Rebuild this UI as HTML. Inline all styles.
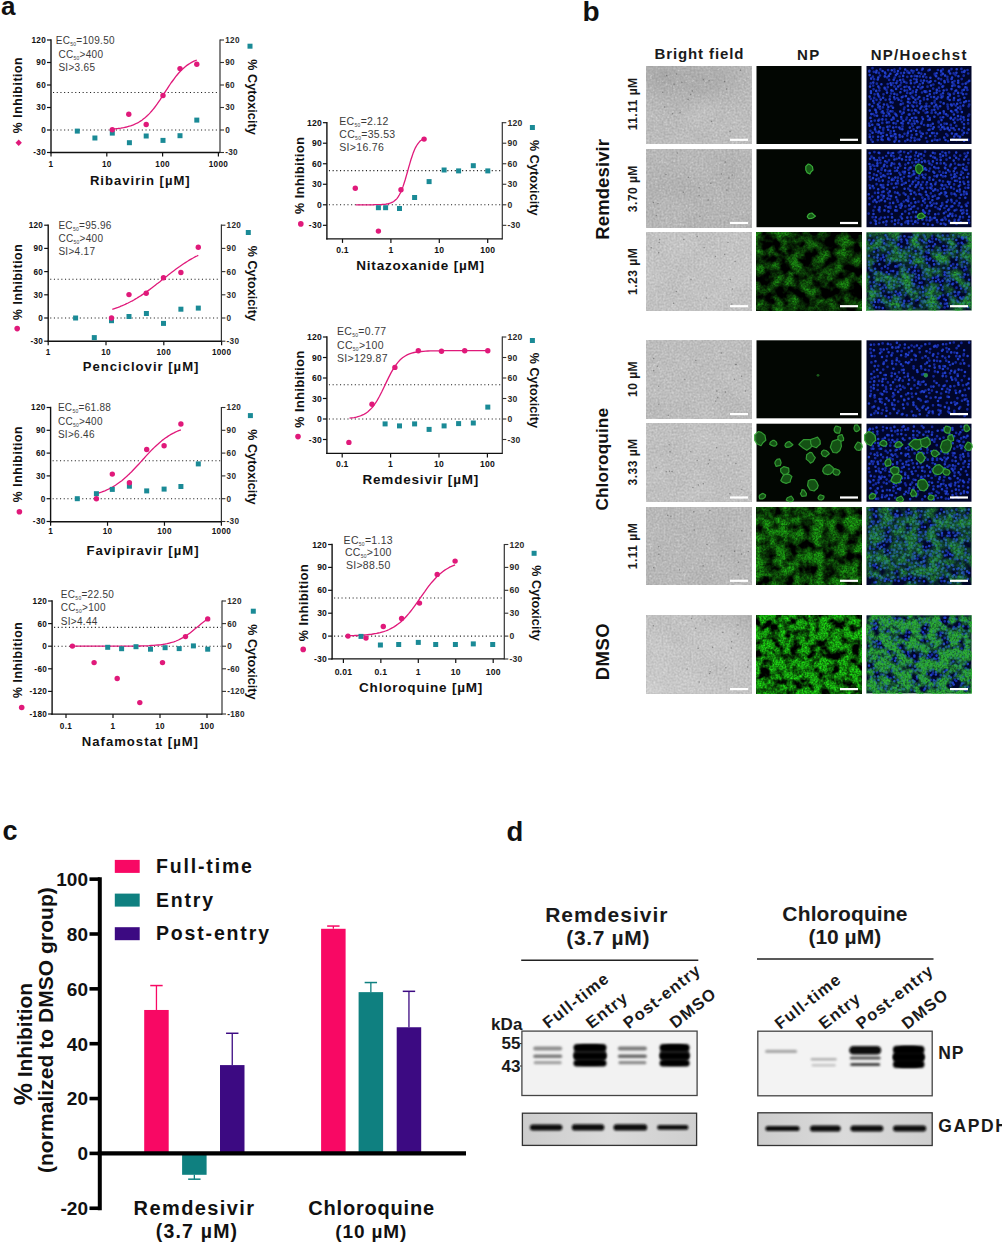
<!DOCTYPE html><html><head><meta charset="utf-8"><style>html,body{margin:0;padding:0;background:#fff;width:1002px;height:1243px;overflow:hidden}svg{display:block}text{font-family:"Liberation Sans",sans-serif}</style></head><body>
<svg width="1002" height="1243" viewBox="0 0 1002 1243">
<defs><filter id="bl" x="-20%" y="-60%" width="140%" height="220%"><feGaussianBlur stdDeviation="0.9"/></filter><filter id="nb"><feGaussianBlur stdDeviation="0.45"/></filter><radialGradient id="bfg1" cx="0.2" cy="0.15" r="0.55"><stop offset="0" stop-color="#606060" stop-opacity="0.22"/><stop offset="1" stop-color="#606060" stop-opacity="0"/></radialGradient><linearGradient id="bfg2" x1="0" y1="1" x2="1" y2="0"><stop offset="0" stop-color="#ffffff" stop-opacity="0.2"/><stop offset="0.5" stop-color="#ffffff" stop-opacity="0"/><stop offset="1" stop-color="#505050" stop-opacity="0.15"/></linearGradient><radialGradient id="bfg1b" cx="0.7" cy="0.15" r="0.4"><stop offset="0" stop-color="#606060" stop-opacity="0.18"/><stop offset="1" stop-color="#606060" stop-opacity="0"/></radialGradient><linearGradient id="gap" x1="0" y1="0" x2="1" y2="0"><stop offset="0" stop-color="#cdcdcd"/><stop offset="0.5" stop-color="#dadada"/><stop offset="1" stop-color="#cfcfcf"/></linearGradient><filter id="bff0" x="0" y="0" width="1" height="1" color-interpolation-filters="sRGB"><feTurbulence type="fractalNoise" baseFrequency="0.5" numOctaves="2" seed="60" result="n"/><feColorMatrix in="n" type="matrix" values="1 0 0 0 0  1 0 0 0 0  1 0 0 0 0  0 0 0 0 1" result="n2"/><feTurbulence type="fractalNoise" baseFrequency="0.035" numOctaves="2" seed="77" result="m"/><feColorMatrix in="m" type="matrix" values="1 0 0 0 0  1 0 0 0 0  1 0 0 0 0  0 0 0 0 1" result="m2"/><feComposite in="n2" in2="m2" operator="arithmetic" k1="0" k2="0.8" k3="0.2" k4="0"/><feColorMatrix type="matrix" values="0.24 0 0 0 0.62  0.24 0 0 0 0.62  0.24 0 0 0 0.62  0 0 0 0 1"/></filter><filter id="bff1" x="0" y="0" width="1" height="1" color-interpolation-filters="sRGB"><feTurbulence type="fractalNoise" baseFrequency="0.5" numOctaves="2" seed="61" result="n"/><feColorMatrix in="n" type="matrix" values="1 0 0 0 0  1 0 0 0 0  1 0 0 0 0  0 0 0 0 1" result="n2"/><feTurbulence type="fractalNoise" baseFrequency="0.035" numOctaves="2" seed="78" result="m"/><feColorMatrix in="m" type="matrix" values="1 0 0 0 0  1 0 0 0 0  1 0 0 0 0  0 0 0 0 1" result="m2"/><feComposite in="n2" in2="m2" operator="arithmetic" k1="0" k2="0.8" k3="0.2" k4="0"/><feColorMatrix type="matrix" values="0.24 0 0 0 0.59  0.24 0 0 0 0.59  0.24 0 0 0 0.59  0 0 0 0 1"/></filter><filter id="gf2" x="0" y="0" width="1" height="1" color-interpolation-filters="sRGB"><feTurbulence type="fractalNoise" baseFrequency="0.08" numOctaves="3" seed="21" result="a"/><feTurbulence type="fractalNoise" baseFrequency="0.55" numOctaves="2" seed="71" result="b"/><feColorMatrix in="a" type="matrix" values="0 0 0 0 0  2.8 0 0 0 -1  0 0 0 0 0  0 0 0 0 1" result="a2"/><feColorMatrix in="b" type="matrix" values="0 0 0 0 0  1.0 0 0 0 0.05  0 0 0 0 0  0 0 0 0 1" result="b2"/><feComposite in="a2" in2="b2" operator="arithmetic" k1="1" k2="0.15" k3="0" k4="0" result="c"/><feColorMatrix in="c" type="matrix" values="0 0.12 0 0 0  0 0.62 0 0 0  0 0.08 0 0 0  0 0 0 0 1"/></filter><filter id="go2" x="0" y="0" width="1" height="1" color-interpolation-filters="sRGB"><feTurbulence type="fractalNoise" baseFrequency="0.08" numOctaves="3" seed="21" result="a"/><feTurbulence type="fractalNoise" baseFrequency="0.55" numOctaves="2" seed="71" result="b"/><feColorMatrix in="a" type="matrix" values="0 0 0 0 0  2.8 0 0 0 -1  0 0 0 0 0  0 0 0 0 1" result="a2"/><feColorMatrix in="b" type="matrix" values="0 0 0 0 0  1.0 0 0 0 0.05  0 0 0 0 0  0 0 0 0 1" result="b2"/><feComposite in="a2" in2="b2" operator="arithmetic" k1="1" k2="0.15" k3="0" k4="0" result="c"/><feColorMatrix in="c" type="matrix" values="0 0 0 0 0.17  0 0 0 0 0.68  0 0 0 0 0.2  0 0.98 0 0 0"/></filter><filter id="bff2" x="0" y="0" width="1" height="1" color-interpolation-filters="sRGB"><feTurbulence type="fractalNoise" baseFrequency="0.5" numOctaves="2" seed="62" result="n"/><feColorMatrix in="n" type="matrix" values="1 0 0 0 0  1 0 0 0 0  1 0 0 0 0  0 0 0 0 1" result="n2"/><feTurbulence type="fractalNoise" baseFrequency="0.035" numOctaves="2" seed="79" result="m"/><feColorMatrix in="m" type="matrix" values="1 0 0 0 0  1 0 0 0 0  1 0 0 0 0  0 0 0 0 1" result="m2"/><feComposite in="n2" in2="m2" operator="arithmetic" k1="0" k2="0.8" k3="0.2" k4="0"/><feColorMatrix type="matrix" values="0.24 0 0 0 0.64  0.24 0 0 0 0.64  0.24 0 0 0 0.64  0 0 0 0 1"/></filter><filter id="bff3" x="0" y="0" width="1" height="1" color-interpolation-filters="sRGB"><feTurbulence type="fractalNoise" baseFrequency="0.5" numOctaves="2" seed="63" result="n"/><feColorMatrix in="n" type="matrix" values="1 0 0 0 0  1 0 0 0 0  1 0 0 0 0  0 0 0 0 1" result="n2"/><feTurbulence type="fractalNoise" baseFrequency="0.035" numOctaves="2" seed="80" result="m"/><feColorMatrix in="m" type="matrix" values="1 0 0 0 0  1 0 0 0 0  1 0 0 0 0  0 0 0 0 1" result="m2"/><feComposite in="n2" in2="m2" operator="arithmetic" k1="0" k2="0.8" k3="0.2" k4="0"/><feColorMatrix type="matrix" values="0.24 0 0 0 0.62  0.24 0 0 0 0.62  0.24 0 0 0 0.62  0 0 0 0 1"/></filter><filter id="bff4" x="0" y="0" width="1" height="1" color-interpolation-filters="sRGB"><feTurbulence type="fractalNoise" baseFrequency="0.5" numOctaves="2" seed="64" result="n"/><feColorMatrix in="n" type="matrix" values="1 0 0 0 0  1 0 0 0 0  1 0 0 0 0  0 0 0 0 1" result="n2"/><feTurbulence type="fractalNoise" baseFrequency="0.035" numOctaves="2" seed="81" result="m"/><feColorMatrix in="m" type="matrix" values="1 0 0 0 0  1 0 0 0 0  1 0 0 0 0  0 0 0 0 1" result="m2"/><feComposite in="n2" in2="m2" operator="arithmetic" k1="0" k2="0.8" k3="0.2" k4="0"/><feColorMatrix type="matrix" values="0.24 0 0 0 0.63  0.24 0 0 0 0.63  0.24 0 0 0 0.63  0 0 0 0 1"/></filter><filter id="gf5" x="0" y="0" width="1" height="1" color-interpolation-filters="sRGB"><feTurbulence type="fractalNoise" baseFrequency="0.085" numOctaves="3" seed="24" result="a"/><feTurbulence type="fractalNoise" baseFrequency="0.55" numOctaves="2" seed="74" result="b"/><feColorMatrix in="a" type="matrix" values="0 0 0 0 0  2.6 0 0 0 -0.75  0 0 0 0 0  0 0 0 0 1" result="a2"/><feColorMatrix in="b" type="matrix" values="0 0 0 0 0  1.0 0 0 0 0.05  0 0 0 0 0  0 0 0 0 1" result="b2"/><feComposite in="a2" in2="b2" operator="arithmetic" k1="1" k2="0.15" k3="0" k4="0" result="c"/><feColorMatrix in="c" type="matrix" values="0 0.12 0 0 0  0 0.7 0 0 0  0 0.08 0 0 0  0 0 0 0 1"/></filter><filter id="go5" x="0" y="0" width="1" height="1" color-interpolation-filters="sRGB"><feTurbulence type="fractalNoise" baseFrequency="0.085" numOctaves="3" seed="24" result="a"/><feTurbulence type="fractalNoise" baseFrequency="0.55" numOctaves="2" seed="74" result="b"/><feColorMatrix in="a" type="matrix" values="0 0 0 0 0  2.6 0 0 0 -0.75  0 0 0 0 0  0 0 0 0 1" result="a2"/><feColorMatrix in="b" type="matrix" values="0 0 0 0 0  1.0 0 0 0 0.05  0 0 0 0 0  0 0 0 0 1" result="b2"/><feComposite in="a2" in2="b2" operator="arithmetic" k1="1" k2="0.15" k3="0" k4="0" result="c"/><feColorMatrix in="c" type="matrix" values="0 0 0 0 0.17  0 0 0 0 0.68  0 0 0 0 0.2  0 0.868 0 0 0"/></filter><filter id="bff5" x="0" y="0" width="1" height="1" color-interpolation-filters="sRGB"><feTurbulence type="fractalNoise" baseFrequency="0.5" numOctaves="2" seed="65" result="n"/><feColorMatrix in="n" type="matrix" values="1 0 0 0 0  1 0 0 0 0  1 0 0 0 0  0 0 0 0 1" result="n2"/><feTurbulence type="fractalNoise" baseFrequency="0.035" numOctaves="2" seed="82" result="m"/><feColorMatrix in="m" type="matrix" values="1 0 0 0 0  1 0 0 0 0  1 0 0 0 0  0 0 0 0 1" result="m2"/><feComposite in="n2" in2="m2" operator="arithmetic" k1="0" k2="0.8" k3="0.2" k4="0"/><feColorMatrix type="matrix" values="0.24 0 0 0 0.6  0.24 0 0 0 0.6  0.24 0 0 0 0.6  0 0 0 0 1"/></filter><filter id="gf6" x="0" y="0" width="1" height="1" color-interpolation-filters="sRGB"><feTurbulence type="fractalNoise" baseFrequency="0.1" numOctaves="3" seed="25" result="a"/><feTurbulence type="fractalNoise" baseFrequency="0.55" numOctaves="2" seed="75" result="b"/><feColorMatrix in="a" type="matrix" values="0 0 0 0 0  3.4 0 0 0 -1.02  0 0 0 0 0  0 0 0 0 1" result="a2"/><feColorMatrix in="b" type="matrix" values="0 0 0 0 0  1.0 0 0 0 0.05  0 0 0 0 0  0 0 0 0 1" result="b2"/><feComposite in="a2" in2="b2" operator="arithmetic" k1="1" k2="0.15" k3="0" k4="0" result="c"/><feColorMatrix in="c" type="matrix" values="0 0.12 0 0 0  0 0.9 0 0 0  0 0.08 0 0 0  0 0 0 0 1"/></filter><filter id="go6" x="0" y="0" width="1" height="1" color-interpolation-filters="sRGB"><feTurbulence type="fractalNoise" baseFrequency="0.1" numOctaves="3" seed="25" result="a"/><feTurbulence type="fractalNoise" baseFrequency="0.55" numOctaves="2" seed="75" result="b"/><feColorMatrix in="a" type="matrix" values="0 0 0 0 0  3.4 0 0 0 -1.02  0 0 0 0 0  0 0 0 0 1" result="a2"/><feColorMatrix in="b" type="matrix" values="0 0 0 0 0  1.0 0 0 0 0.05  0 0 0 0 0  0 0 0 0 1" result="b2"/><feComposite in="a2" in2="b2" operator="arithmetic" k1="1" k2="0.15" k3="0" k4="0" result="c"/><feColorMatrix in="c" type="matrix" values="0 0 0 0 0.17  0 0 0 0 0.68  0 0 0 0 0.2  0 1.19 0 0 0"/></filter><filter id="bff6" x="0" y="0" width="1" height="1" color-interpolation-filters="sRGB"><feTurbulence type="fractalNoise" baseFrequency="0.5" numOctaves="2" seed="66" result="n"/><feColorMatrix in="n" type="matrix" values="1 0 0 0 0  1 0 0 0 0  1 0 0 0 0  0 0 0 0 1" result="n2"/><feTurbulence type="fractalNoise" baseFrequency="0.035" numOctaves="2" seed="83" result="m"/><feColorMatrix in="m" type="matrix" values="1 0 0 0 0  1 0 0 0 0  1 0 0 0 0  0 0 0 0 1" result="m2"/><feComposite in="n2" in2="m2" operator="arithmetic" k1="0" k2="0.8" k3="0.2" k4="0"/><feColorMatrix type="matrix" values="0.24 0 0 0 0.64  0.24 0 0 0 0.64  0.24 0 0 0 0.64  0 0 0 0 1"/></filter><clipPath id="cb1"><rect x="0" y="1031" width="1002" height="65"/></clipPath></defs>
<rect width="1002" height="1243" fill="#fff"/>
<text x="1" y="15" font-size="26" font-weight="bold" fill="#111" text-anchor="start">a</text>
<line x1="51" y1="39.3" x2="51" y2="153.2" stroke="#111" stroke-width="1.4"/>
<line x1="220" y1="39.4" x2="220" y2="153.1" stroke="#333" stroke-width="1.2"/>
<line x1="50.3" y1="152.5" x2="220" y2="152.5" stroke="#111" stroke-width="1.4"/>
<line x1="47" y1="152.5" x2="51" y2="152.5" stroke="#111" stroke-width="1.2"/>
<line x1="220" y1="152.5" x2="224" y2="152.5" stroke="#333" stroke-width="1.1"/>
<text x="46" y="155.452" font-size="8.2" font-weight="bold" fill="#111" text-anchor="end" letter-spacing="0.3">-30</text>
<text x="225.2" y="155.452" font-size="8.2" font-weight="bold" fill="#2a2a2a" text-anchor="start" letter-spacing="0.3">-30</text>
<line x1="47" y1="130" x2="51" y2="130" stroke="#111" stroke-width="1.2"/>
<line x1="220" y1="130" x2="224" y2="130" stroke="#333" stroke-width="1.1"/>
<text x="46" y="132.952" font-size="8.2" font-weight="bold" fill="#111" text-anchor="end" letter-spacing="0.3">0</text>
<text x="225.2" y="132.952" font-size="8.2" font-weight="bold" fill="#2a2a2a" text-anchor="start" letter-spacing="0.3">0</text>
<line x1="47" y1="107.5" x2="51" y2="107.5" stroke="#111" stroke-width="1.2"/>
<line x1="220" y1="107.5" x2="224" y2="107.5" stroke="#333" stroke-width="1.1"/>
<text x="46" y="110.452" font-size="8.2" font-weight="bold" fill="#111" text-anchor="end" letter-spacing="0.3">30</text>
<text x="225.2" y="110.452" font-size="8.2" font-weight="bold" fill="#2a2a2a" text-anchor="start" letter-spacing="0.3">30</text>
<line x1="47" y1="85" x2="51" y2="85" stroke="#111" stroke-width="1.2"/>
<line x1="220" y1="85" x2="224" y2="85" stroke="#333" stroke-width="1.1"/>
<text x="46" y="87.952" font-size="8.2" font-weight="bold" fill="#111" text-anchor="end" letter-spacing="0.3">60</text>
<text x="225.2" y="87.952" font-size="8.2" font-weight="bold" fill="#2a2a2a" text-anchor="start" letter-spacing="0.3">60</text>
<line x1="47" y1="62.5" x2="51" y2="62.5" stroke="#111" stroke-width="1.2"/>
<line x1="220" y1="62.5" x2="224" y2="62.5" stroke="#333" stroke-width="1.1"/>
<text x="46" y="65.452" font-size="8.2" font-weight="bold" fill="#111" text-anchor="end" letter-spacing="0.3">90</text>
<text x="225.2" y="65.452" font-size="8.2" font-weight="bold" fill="#2a2a2a" text-anchor="start" letter-spacing="0.3">90</text>
<line x1="47" y1="40" x2="51" y2="40" stroke="#111" stroke-width="1.2"/>
<line x1="220" y1="40" x2="224" y2="40" stroke="#333" stroke-width="1.1"/>
<text x="46" y="42.952" font-size="8.2" font-weight="bold" fill="#111" text-anchor="end" letter-spacing="0.3">120</text>
<text x="225.2" y="42.952" font-size="8.2" font-weight="bold" fill="#2a2a2a" text-anchor="start" letter-spacing="0.3">120</text>
<line x1="51" y1="152.5" x2="51" y2="156.5" stroke="#111" stroke-width="1.2"/>
<text x="51" y="166.6" font-size="8.2" font-weight="bold" fill="#111" text-anchor="middle" letter-spacing="0.3">1</text>
<line x1="106.8" y1="152.5" x2="106.8" y2="156.5" stroke="#111" stroke-width="1.2"/>
<text x="106.8" y="166.6" font-size="8.2" font-weight="bold" fill="#111" text-anchor="middle" letter-spacing="0.3">10</text>
<line x1="162.6" y1="152.5" x2="162.6" y2="156.5" stroke="#111" stroke-width="1.2"/>
<text x="162.6" y="166.6" font-size="8.2" font-weight="bold" fill="#111" text-anchor="middle" letter-spacing="0.3">100</text>
<line x1="218.4" y1="152.5" x2="218.4" y2="156.5" stroke="#111" stroke-width="1.2"/>
<text x="218.4" y="166.6" font-size="8.2" font-weight="bold" fill="#111" text-anchor="middle" letter-spacing="0.3">1000</text>
<line x1="53" y1="130" x2="219" y2="130" stroke="#222" stroke-width="1.1" stroke-dasharray="1.1 2.6"/>
<line x1="53" y1="92.5" x2="219" y2="92.5" stroke="#222" stroke-width="1.1" stroke-dasharray="1.1 2.6"/>
<polyline points="112.3,129.0 113.7,128.9 115.1,128.8 116.5,128.6 117.9,128.5 119.3,128.3 120.8,128.1 122.2,127.8 123.6,127.6 125.0,127.3 126.4,127.0 127.8,126.6 129.2,126.2 130.6,125.8 132.0,125.3 133.4,124.8 134.8,124.2 136.2,123.5 137.7,122.8 139.1,122.0 140.5,121.1 141.9,120.2 143.3,119.1 144.7,118.0 146.1,116.8 147.5,115.5 148.9,114.1 150.3,112.6 151.7,111.0 153.1,109.3 154.6,107.5 156.0,105.6 157.4,103.7 158.8,101.6 160.2,99.6 161.6,97.4 163.0,95.3 164.4,93.1 165.8,90.9 167.2,88.8 168.6,86.6 170.0,84.5 171.4,82.5 172.9,80.5 174.3,78.6 175.7,76.7 177.1,75.0 178.5,73.3 179.9,71.8 181.3,70.3 182.7,68.9 184.1,67.7 185.5,66.5 186.9,65.4 188.4,64.4 189.8,63.5 191.2,62.6 192.6,61.9 194.0,61.2 195.4,60.6 196.8,60.0" fill="none" stroke="#e0197a" stroke-width="1.3"/>
<rect x="74.8" y="128.6" width="5" height="5" fill="#1a8a96"/>
<rect x="92.4" y="135.5" width="5" height="5" fill="#1a8a96"/>
<rect x="109.8" y="130.6" width="5" height="5" fill="#1a8a96"/>
<rect x="126.9" y="140.2" width="5" height="5" fill="#1a8a96"/>
<rect x="143.7" y="133.5" width="5" height="5" fill="#1a8a96"/>
<rect x="160.5" y="137.9" width="5" height="5" fill="#1a8a96"/>
<rect x="177.5" y="133.2" width="5" height="5" fill="#1a8a96"/>
<rect x="194.3" y="117.6" width="5" height="5" fill="#1a8a96"/>
<circle cx="112.3" cy="129.7" r="2.7" fill="#e0197a"/>
<circle cx="128.8" cy="114.3" r="2.7" fill="#e0197a"/>
<circle cx="146.2" cy="124.5" r="2.7" fill="#e0197a"/>
<circle cx="163.0" cy="95.5" r="2.7" fill="#e0197a"/>
<circle cx="180.0" cy="68.6" r="2.7" fill="#e0197a"/>
<circle cx="196.8" cy="64.3" r="2.7" fill="#e0197a"/>
<rect x="247.5" y="43.7" width="5" height="5" fill="#1a8a96"/>
<polygon points="18.7,139.5 21.9,142.7 18.7,145.9 15.5,142.7" fill="#e0197a"/>
<text x="0" y="0" font-size="12.3" font-weight="bold" fill="#111" text-anchor="middle" letter-spacing="0.55" transform="translate(22 95) rotate(-90)">% Inhibition</text>
<text x="0" y="0" font-size="12.6" font-weight="bold" fill="#111" text-anchor="middle" letter-spacing="0.05" transform="translate(248 97) rotate(90)">% Cytoxicity</text>
<text x="140.3" y="184.6" font-size="13.1" font-weight="bold" fill="#111" text-anchor="middle" letter-spacing="1">Ribavirin [µM]</text>
<text x="55.7" y="44.2" font-size="10" fill="#3a3a3a" text-anchor="start" letter-spacing="0.3">EC<tspan font-size="5" dy="2">50</tspan><tspan dy="-2">=109.50</tspan></text>
<text x="58.4" y="57.6" font-size="10" fill="#3a3a3a" text-anchor="start" letter-spacing="0.3">CC<tspan font-size="5" dy="2">50</tspan><tspan dy="-2">&gt;400</tspan></text>
<text x="58.4" y="71.4" font-size="10" fill="#3a3a3a" text-anchor="start" letter-spacing="0.3">SI&gt;3.65</text>
<line x1="48.2" y1="224.504" x2="48.2" y2="341.9" stroke="#111" stroke-width="1.4"/>
<line x1="221.4" y1="224.604" x2="221.4" y2="341.8" stroke="#333" stroke-width="1.2"/>
<line x1="47.5" y1="341.2" x2="221.4" y2="341.2" stroke="#111" stroke-width="1.4"/>
<line x1="44.2" y1="341.199" x2="48.2" y2="341.199" stroke="#111" stroke-width="1.2"/>
<line x1="221.4" y1="341.199" x2="225.4" y2="341.199" stroke="#333" stroke-width="1.1"/>
<text x="43.2" y="344.151" font-size="8.2" font-weight="bold" fill="#111" text-anchor="end" letter-spacing="0.3">-30</text>
<text x="226.6" y="344.151" font-size="8.2" font-weight="bold" fill="#2a2a2a" text-anchor="start" letter-spacing="0.3">-30</text>
<line x1="44.2" y1="318" x2="48.2" y2="318" stroke="#111" stroke-width="1.2"/>
<line x1="221.4" y1="318" x2="225.4" y2="318" stroke="#333" stroke-width="1.1"/>
<text x="43.2" y="320.952" font-size="8.2" font-weight="bold" fill="#111" text-anchor="end" letter-spacing="0.3">0</text>
<text x="226.6" y="320.952" font-size="8.2" font-weight="bold" fill="#2a2a2a" text-anchor="start" letter-spacing="0.3">0</text>
<line x1="44.2" y1="294.801" x2="48.2" y2="294.801" stroke="#111" stroke-width="1.2"/>
<line x1="221.4" y1="294.801" x2="225.4" y2="294.801" stroke="#333" stroke-width="1.1"/>
<text x="43.2" y="297.753" font-size="8.2" font-weight="bold" fill="#111" text-anchor="end" letter-spacing="0.3">30</text>
<text x="226.6" y="297.753" font-size="8.2" font-weight="bold" fill="#2a2a2a" text-anchor="start" letter-spacing="0.3">30</text>
<line x1="44.2" y1="271.602" x2="48.2" y2="271.602" stroke="#111" stroke-width="1.2"/>
<line x1="221.4" y1="271.602" x2="225.4" y2="271.602" stroke="#333" stroke-width="1.1"/>
<text x="43.2" y="274.554" font-size="8.2" font-weight="bold" fill="#111" text-anchor="end" letter-spacing="0.3">60</text>
<text x="226.6" y="274.554" font-size="8.2" font-weight="bold" fill="#2a2a2a" text-anchor="start" letter-spacing="0.3">60</text>
<line x1="44.2" y1="248.403" x2="48.2" y2="248.403" stroke="#111" stroke-width="1.2"/>
<line x1="221.4" y1="248.403" x2="225.4" y2="248.403" stroke="#333" stroke-width="1.1"/>
<text x="43.2" y="251.355" font-size="8.2" font-weight="bold" fill="#111" text-anchor="end" letter-spacing="0.3">90</text>
<text x="226.6" y="251.355" font-size="8.2" font-weight="bold" fill="#2a2a2a" text-anchor="start" letter-spacing="0.3">90</text>
<line x1="44.2" y1="225.204" x2="48.2" y2="225.204" stroke="#111" stroke-width="1.2"/>
<line x1="221.4" y1="225.204" x2="225.4" y2="225.204" stroke="#333" stroke-width="1.1"/>
<text x="43.2" y="228.156" font-size="8.2" font-weight="bold" fill="#111" text-anchor="end" letter-spacing="0.3">120</text>
<text x="226.6" y="228.156" font-size="8.2" font-weight="bold" fill="#2a2a2a" text-anchor="start" letter-spacing="0.3">120</text>
<line x1="48.2" y1="341.2" x2="48.2" y2="345.2" stroke="#111" stroke-width="1.2"/>
<text x="48.2" y="354.7" font-size="8.2" font-weight="bold" fill="#111" text-anchor="middle" letter-spacing="0.3">1</text>
<line x1="106" y1="341.2" x2="106" y2="345.2" stroke="#111" stroke-width="1.2"/>
<text x="106" y="354.7" font-size="8.2" font-weight="bold" fill="#111" text-anchor="middle" letter-spacing="0.3">10</text>
<line x1="163.8" y1="341.2" x2="163.8" y2="345.2" stroke="#111" stroke-width="1.2"/>
<text x="163.8" y="354.7" font-size="8.2" font-weight="bold" fill="#111" text-anchor="middle" letter-spacing="0.3">100</text>
<line x1="221.6" y1="341.2" x2="221.6" y2="345.2" stroke="#111" stroke-width="1.2"/>
<text x="221.6" y="354.7" font-size="8.2" font-weight="bold" fill="#111" text-anchor="middle" letter-spacing="0.3">1000</text>
<line x1="50.2" y1="318" x2="220.4" y2="318" stroke="#222" stroke-width="1.1" stroke-dasharray="1.1 2.6"/>
<line x1="50.2" y1="279.3" x2="220.4" y2="279.3" stroke="#222" stroke-width="1.1" stroke-dasharray="1.1 2.6"/>
<polyline points="112.3,309.4 113.7,308.9 115.2,308.4 116.6,307.9 118.0,307.4 119.5,306.8 120.9,306.2 122.3,305.7 123.8,305.0 125.2,304.4 126.6,303.7 128.1,303.0 129.5,302.3 130.9,301.5 132.4,300.8 133.8,300.0 135.2,299.1 136.7,298.3 138.1,297.4 139.5,296.5 141.0,295.6 142.4,294.6 143.8,293.7 145.3,292.7 146.7,291.7 148.1,290.6 149.6,289.6 151.0,288.5 152.4,287.4 153.9,286.3 155.3,285.2 156.7,284.1 158.2,283.0 159.6,281.9 161.0,280.7 162.5,279.6 163.9,278.5 165.3,277.3 166.8,276.2 168.2,275.1 169.6,273.9 171.1,272.8 172.5,271.7 173.9,270.7 175.4,269.6 176.8,268.5 178.2,267.5 179.7,266.5 181.1,265.5 182.5,264.5 184.0,263.5 185.4,262.6 186.8,261.7 188.3,260.8 189.7,259.9 191.1,259.1 192.6,258.3 194.0,257.5 195.4,256.7 196.9,256.0 198.3,255.3" fill="none" stroke="#e0197a" stroke-width="1.3"/>
<rect x="73.1" y="315.5" width="5" height="5" fill="#1a8a96"/>
<rect x="91.8" y="335.1" width="5" height="5" fill="#1a8a96"/>
<rect x="109.0" y="318.2" width="5" height="5" fill="#1a8a96"/>
<rect x="126.5" y="314.0" width="5" height="5" fill="#1a8a96"/>
<rect x="143.9" y="311.0" width="5" height="5" fill="#1a8a96"/>
<rect x="161.0" y="320.9" width="5" height="5" fill="#1a8a96"/>
<rect x="178.4" y="306.7" width="5" height="5" fill="#1a8a96"/>
<rect x="195.8" y="305.6" width="5" height="5" fill="#1a8a96"/>
<circle cx="111.5" cy="318.0" r="2.7" fill="#e0197a"/>
<circle cx="129.0" cy="294.6" r="2.7" fill="#e0197a"/>
<circle cx="146.2" cy="293.3" r="2.7" fill="#e0197a"/>
<circle cx="163.5" cy="277.7" r="2.7" fill="#e0197a"/>
<circle cx="180.9" cy="272.5" r="2.7" fill="#e0197a"/>
<circle cx="198.3" cy="247.3" r="2.7" fill="#e0197a"/>
<rect x="245.8" y="230.0" width="5" height="5" fill="#1a8a96"/>
<circle cx="17.2" cy="328.6" r="2.8" fill="#e0197a"/>
<text x="0" y="0" font-size="12.3" font-weight="bold" fill="#111" text-anchor="middle" letter-spacing="0.55" transform="translate(22 281.9) rotate(-90)">% Inhibition</text>
<text x="0" y="0" font-size="12.6" font-weight="bold" fill="#111" text-anchor="middle" letter-spacing="0.05" transform="translate(248 283.4) rotate(90)">% Cytoxicity</text>
<text x="141.1" y="371.3" font-size="13.1" font-weight="bold" fill="#111" text-anchor="middle" letter-spacing="1">Penciclovir [µM]</text>
<text x="58.4" y="229" font-size="10" fill="#3a3a3a" text-anchor="start" letter-spacing="0.3">EC<tspan font-size="5" dy="2">50</tspan><tspan dy="-2">=95.96</tspan></text>
<text x="58.4" y="241.7" font-size="10" fill="#3a3a3a" text-anchor="start" letter-spacing="0.3">CC<tspan font-size="5" dy="2">50</tspan><tspan dy="-2">&gt;400</tspan></text>
<text x="58.4" y="255.2" font-size="10" fill="#3a3a3a" text-anchor="start" letter-spacing="0.3">SI&gt;4.17</text>
<line x1="50.6" y1="406.8" x2="50.6" y2="522.5" stroke="#111" stroke-width="1.4"/>
<line x1="221.4" y1="406.9" x2="221.4" y2="522.4" stroke="#333" stroke-width="1.2"/>
<line x1="49.9" y1="521.8" x2="221.4" y2="521.8" stroke="#111" stroke-width="1.4"/>
<line x1="46.6" y1="521.5" x2="50.6" y2="521.5" stroke="#111" stroke-width="1.2"/>
<line x1="221.4" y1="521.5" x2="225.4" y2="521.5" stroke="#333" stroke-width="1.1"/>
<text x="45.6" y="524.452" font-size="8.2" font-weight="bold" fill="#111" text-anchor="end" letter-spacing="0.3">-30</text>
<text x="226.6" y="524.452" font-size="8.2" font-weight="bold" fill="#2a2a2a" text-anchor="start" letter-spacing="0.3">-30</text>
<line x1="46.6" y1="498.7" x2="50.6" y2="498.7" stroke="#111" stroke-width="1.2"/>
<line x1="221.4" y1="498.7" x2="225.4" y2="498.7" stroke="#333" stroke-width="1.1"/>
<text x="45.6" y="501.652" font-size="8.2" font-weight="bold" fill="#111" text-anchor="end" letter-spacing="0.3">0</text>
<text x="226.6" y="501.652" font-size="8.2" font-weight="bold" fill="#2a2a2a" text-anchor="start" letter-spacing="0.3">0</text>
<line x1="46.6" y1="475.9" x2="50.6" y2="475.9" stroke="#111" stroke-width="1.2"/>
<line x1="221.4" y1="475.9" x2="225.4" y2="475.9" stroke="#333" stroke-width="1.1"/>
<text x="45.6" y="478.852" font-size="8.2" font-weight="bold" fill="#111" text-anchor="end" letter-spacing="0.3">30</text>
<text x="226.6" y="478.852" font-size="8.2" font-weight="bold" fill="#2a2a2a" text-anchor="start" letter-spacing="0.3">30</text>
<line x1="46.6" y1="453.1" x2="50.6" y2="453.1" stroke="#111" stroke-width="1.2"/>
<line x1="221.4" y1="453.1" x2="225.4" y2="453.1" stroke="#333" stroke-width="1.1"/>
<text x="45.6" y="456.052" font-size="8.2" font-weight="bold" fill="#111" text-anchor="end" letter-spacing="0.3">60</text>
<text x="226.6" y="456.052" font-size="8.2" font-weight="bold" fill="#2a2a2a" text-anchor="start" letter-spacing="0.3">60</text>
<line x1="46.6" y1="430.3" x2="50.6" y2="430.3" stroke="#111" stroke-width="1.2"/>
<line x1="221.4" y1="430.3" x2="225.4" y2="430.3" stroke="#333" stroke-width="1.1"/>
<text x="45.6" y="433.252" font-size="8.2" font-weight="bold" fill="#111" text-anchor="end" letter-spacing="0.3">90</text>
<text x="226.6" y="433.252" font-size="8.2" font-weight="bold" fill="#2a2a2a" text-anchor="start" letter-spacing="0.3">90</text>
<line x1="46.6" y1="407.5" x2="50.6" y2="407.5" stroke="#111" stroke-width="1.2"/>
<line x1="221.4" y1="407.5" x2="225.4" y2="407.5" stroke="#333" stroke-width="1.1"/>
<text x="45.6" y="410.452" font-size="8.2" font-weight="bold" fill="#111" text-anchor="end" letter-spacing="0.3">120</text>
<text x="226.6" y="410.452" font-size="8.2" font-weight="bold" fill="#2a2a2a" text-anchor="start" letter-spacing="0.3">120</text>
<line x1="50.6" y1="521.8" x2="50.6" y2="525.8" stroke="#111" stroke-width="1.2"/>
<text x="50.6" y="534" font-size="8.2" font-weight="bold" fill="#111" text-anchor="middle" letter-spacing="0.3">1</text>
<line x1="107.53" y1="521.8" x2="107.53" y2="525.8" stroke="#111" stroke-width="1.2"/>
<text x="107.53" y="534" font-size="8.2" font-weight="bold" fill="#111" text-anchor="middle" letter-spacing="0.3">10</text>
<line x1="164.46" y1="521.8" x2="164.46" y2="525.8" stroke="#111" stroke-width="1.2"/>
<text x="164.46" y="534" font-size="8.2" font-weight="bold" fill="#111" text-anchor="middle" letter-spacing="0.3">100</text>
<line x1="221.39" y1="521.8" x2="221.39" y2="525.8" stroke="#111" stroke-width="1.2"/>
<text x="221.39" y="534" font-size="8.2" font-weight="bold" fill="#111" text-anchor="middle" letter-spacing="0.3">1000</text>
<line x1="52.6" y1="498.7" x2="220.4" y2="498.7" stroke="#222" stroke-width="1.1" stroke-dasharray="1.1 2.6"/>
<line x1="52.6" y1="460.7" x2="220.4" y2="460.7" stroke="#222" stroke-width="1.1" stroke-dasharray="1.1 2.6"/>
<polyline points="96.4,493.7 97.8,493.3 99.2,492.8 100.6,492.4 102.0,491.9 103.4,491.3 104.9,490.8 106.3,490.2 107.7,489.5 109.1,488.9 110.5,488.1 111.9,487.4 113.3,486.6 114.7,485.7 116.1,484.8 117.5,483.8 118.9,482.8 120.3,481.8 121.8,480.7 123.2,479.5 124.6,478.3 126.0,477.1 127.4,475.8 128.8,474.4 130.2,473.1 131.6,471.7 133.0,470.2 134.4,468.7 135.8,467.2 137.2,465.7 138.7,464.2 140.1,462.6 141.5,461.1 142.9,459.5 144.3,458.0 145.7,456.4 147.1,454.9 148.5,453.4 149.9,451.9 151.3,450.4 152.7,449.0 154.1,447.6 155.6,446.2 157.0,444.9 158.4,443.7 159.8,442.4 161.2,441.3 162.6,440.1 164.0,439.1 165.4,438.0 166.8,437.1 168.2,436.1 169.6,435.2 171.0,434.4 172.4,433.6 173.9,432.9 175.3,432.2 176.7,431.5 178.1,430.9 179.5,430.3 180.9,429.8" fill="none" stroke="#e0197a" stroke-width="1.3"/>
<rect x="74.8" y="496.2" width="5" height="5" fill="#1a8a96"/>
<rect x="93.9" y="491.2" width="5" height="5" fill="#1a8a96"/>
<rect x="109.8" y="486.9" width="5" height="5" fill="#1a8a96"/>
<rect x="126.9" y="483.7" width="5" height="5" fill="#1a8a96"/>
<rect x="144.2" y="488.4" width="5" height="5" fill="#1a8a96"/>
<rect x="161.6" y="486.6" width="5" height="5" fill="#1a8a96"/>
<rect x="178.4" y="484.0" width="5" height="5" fill="#1a8a96"/>
<rect x="195.8" y="461.4" width="5" height="5" fill="#1a8a96"/>
<circle cx="96.4" cy="498.7" r="2.7" fill="#e0197a"/>
<circle cx="112.3" cy="474.1" r="2.7" fill="#e0197a"/>
<circle cx="129.4" cy="482.7" r="2.7" fill="#e0197a"/>
<circle cx="146.7" cy="449.5" r="2.7" fill="#e0197a"/>
<circle cx="164.1" cy="445.7" r="2.7" fill="#e0197a"/>
<circle cx="180.9" cy="424.0" r="2.7" fill="#e0197a"/>
<rect x="247.9" y="413.1" width="5" height="5" fill="#1a8a96"/>
<circle cx="19.4" cy="511.7" r="2.8" fill="#e0197a"/>
<text x="0" y="0" font-size="12.3" font-weight="bold" fill="#111" text-anchor="middle" letter-spacing="0.55" transform="translate(22 464) rotate(-90)">% Inhibition</text>
<text x="0" y="0" font-size="12.6" font-weight="bold" fill="#111" text-anchor="middle" letter-spacing="0.05" transform="translate(248 466.9) rotate(90)">% Cytoxicity</text>
<text x="143" y="555.1" font-size="13.1" font-weight="bold" fill="#111" text-anchor="middle" letter-spacing="1">Favipiravir [µM]</text>
<text x="57.9" y="411.3" font-size="10" fill="#3a3a3a" text-anchor="start" letter-spacing="0.3">EC<tspan font-size="5" dy="2">50</tspan><tspan dy="-2">=61.88</tspan></text>
<text x="57.9" y="424.9" font-size="10" fill="#3a3a3a" text-anchor="start" letter-spacing="0.3">CC<tspan font-size="5" dy="2">50</tspan><tspan dy="-2">&gt;400</tspan></text>
<text x="57.9" y="437.9" font-size="10" fill="#3a3a3a" text-anchor="start" letter-spacing="0.3">SI&gt;6.46</text>
<line x1="52.1" y1="600.296" x2="52.1" y2="714.8" stroke="#111" stroke-width="1.4"/>
<line x1="222" y1="600.396" x2="222" y2="714.7" stroke="#333" stroke-width="1.2"/>
<line x1="51.4" y1="714.1" x2="222" y2="714.1" stroke="#111" stroke-width="1.4"/>
<line x1="48.1" y1="714.006" x2="52.1" y2="714.006" stroke="#111" stroke-width="1.2"/>
<line x1="222" y1="714.006" x2="226" y2="714.006" stroke="#333" stroke-width="1.1"/>
<text x="47.1" y="716.958" font-size="8.2" font-weight="bold" fill="#111" text-anchor="end" letter-spacing="0.3">-180</text>
<text x="227.2" y="716.958" font-size="8.2" font-weight="bold" fill="#2a2a2a" text-anchor="start" letter-spacing="0.3">-180</text>
<line x1="48.1" y1="691.404" x2="52.1" y2="691.404" stroke="#111" stroke-width="1.2"/>
<line x1="222" y1="691.404" x2="226" y2="691.404" stroke="#333" stroke-width="1.1"/>
<text x="47.1" y="694.356" font-size="8.2" font-weight="bold" fill="#111" text-anchor="end" letter-spacing="0.3">-120</text>
<text x="227.2" y="694.356" font-size="8.2" font-weight="bold" fill="#2a2a2a" text-anchor="start" letter-spacing="0.3">-120</text>
<line x1="48.1" y1="668.802" x2="52.1" y2="668.802" stroke="#111" stroke-width="1.2"/>
<line x1="222" y1="668.802" x2="226" y2="668.802" stroke="#333" stroke-width="1.1"/>
<text x="47.1" y="671.754" font-size="8.2" font-weight="bold" fill="#111" text-anchor="end" letter-spacing="0.3">-60</text>
<text x="227.2" y="671.754" font-size="8.2" font-weight="bold" fill="#2a2a2a" text-anchor="start" letter-spacing="0.3">-60</text>
<line x1="48.1" y1="646.2" x2="52.1" y2="646.2" stroke="#111" stroke-width="1.2"/>
<line x1="222" y1="646.2" x2="226" y2="646.2" stroke="#333" stroke-width="1.1"/>
<text x="47.1" y="649.152" font-size="8.2" font-weight="bold" fill="#111" text-anchor="end" letter-spacing="0.3">0</text>
<text x="227.2" y="649.152" font-size="8.2" font-weight="bold" fill="#2a2a2a" text-anchor="start" letter-spacing="0.3">0</text>
<line x1="48.1" y1="623.598" x2="52.1" y2="623.598" stroke="#111" stroke-width="1.2"/>
<line x1="222" y1="623.598" x2="226" y2="623.598" stroke="#333" stroke-width="1.1"/>
<text x="47.1" y="626.55" font-size="8.2" font-weight="bold" fill="#111" text-anchor="end" letter-spacing="0.3">60</text>
<text x="227.2" y="626.55" font-size="8.2" font-weight="bold" fill="#2a2a2a" text-anchor="start" letter-spacing="0.3">60</text>
<line x1="48.1" y1="600.996" x2="52.1" y2="600.996" stroke="#111" stroke-width="1.2"/>
<line x1="222" y1="600.996" x2="226" y2="600.996" stroke="#333" stroke-width="1.1"/>
<text x="47.1" y="603.948" font-size="8.2" font-weight="bold" fill="#111" text-anchor="end" letter-spacing="0.3">120</text>
<text x="227.2" y="603.948" font-size="8.2" font-weight="bold" fill="#2a2a2a" text-anchor="start" letter-spacing="0.3">120</text>
<line x1="66" y1="714.1" x2="66" y2="718.1" stroke="#111" stroke-width="1.2"/>
<text x="66" y="729.2" font-size="8.2" font-weight="bold" fill="#111" text-anchor="middle" letter-spacing="0.3">0.1</text>
<line x1="113" y1="714.1" x2="113" y2="718.1" stroke="#111" stroke-width="1.2"/>
<text x="113" y="729.2" font-size="8.2" font-weight="bold" fill="#111" text-anchor="middle" letter-spacing="0.3">1</text>
<line x1="160" y1="714.1" x2="160" y2="718.1" stroke="#111" stroke-width="1.2"/>
<text x="160" y="729.2" font-size="8.2" font-weight="bold" fill="#111" text-anchor="middle" letter-spacing="0.3">10</text>
<line x1="207" y1="714.1" x2="207" y2="718.1" stroke="#111" stroke-width="1.2"/>
<text x="207" y="729.2" font-size="8.2" font-weight="bold" fill="#111" text-anchor="middle" letter-spacing="0.3">100</text>
<line x1="54.1" y1="646.2" x2="221" y2="646.2" stroke="#222" stroke-width="1.1" stroke-dasharray="1.1 2.6"/>
<line x1="54.1" y1="627.4" x2="221" y2="627.4" stroke="#222" stroke-width="1.1" stroke-dasharray="1.1 2.6"/>
<polyline points="72.4,646.2 74.7,646.2 76.9,646.2 79.2,646.2 81.4,646.2 83.7,646.2 85.9,646.2 88.2,646.2 90.4,646.2 92.7,646.2 95.0,646.2 97.2,646.2 99.5,646.2 101.7,646.2 104.0,646.2 106.2,646.2 108.5,646.2 110.7,646.2 113.0,646.2 115.2,646.2 117.5,646.2 119.8,646.2 122.0,646.1 124.3,646.1 126.5,646.1 128.8,646.1 131.0,646.1 133.3,646.1 135.5,646.0 137.8,646.0 140.1,646.0 142.3,645.9 144.6,645.8 146.8,645.8 149.1,645.7 151.3,645.5 153.6,645.4 155.8,645.2 158.1,645.0 160.3,644.8 162.6,644.5 164.9,644.1 167.1,643.7 169.4,643.1 171.6,642.5 173.9,641.8 176.1,641.0 178.4,640.0 180.6,638.9 182.9,637.7 185.1,636.3 187.4,634.8 189.7,633.2 191.9,631.4 194.2,629.6 196.4,627.8 198.7,625.9 200.9,624.0 203.2,622.3 205.4,620.6 207.7,619.0" fill="none" stroke="#e0197a" stroke-width="1.3"/>
<rect x="105.2" y="644.8" width="5" height="5" fill="#1a8a96"/>
<rect x="119.1" y="646.2" width="5" height="5" fill="#1a8a96"/>
<rect x="133.5" y="644.2" width="5" height="5" fill="#1a8a96"/>
<rect x="148.0" y="646.7" width="5" height="5" fill="#1a8a96"/>
<rect x="162.6" y="645.2" width="5" height="5" fill="#1a8a96"/>
<rect x="176.7" y="646.1" width="5" height="5" fill="#1a8a96"/>
<rect x="190.9" y="643.4" width="5" height="5" fill="#1a8a96"/>
<rect x="205.2" y="646.7" width="5" height="5" fill="#1a8a96"/>
<circle cx="72.4" cy="646.1" r="2.7" fill="#e0197a"/>
<circle cx="94.1" cy="662.6" r="2.7" fill="#e0197a"/>
<circle cx="117.2" cy="678.5" r="2.7" fill="#e0197a"/>
<circle cx="139.8" cy="702.6" r="2.7" fill="#e0197a"/>
<circle cx="162.5" cy="662.6" r="2.7" fill="#e0197a"/>
<circle cx="185.5" cy="636.6" r="2.7" fill="#e0197a"/>
<circle cx="207.7" cy="618.9" r="2.7" fill="#e0197a"/>
<rect x="250.8" y="608.7" width="5" height="5" fill="#1a8a96"/>
<circle cx="21.7" cy="707.5" r="2.8" fill="#e0197a"/>
<text x="0" y="0" font-size="12.3" font-weight="bold" fill="#111" text-anchor="middle" letter-spacing="0.55" transform="translate(22 659.8) rotate(-90)">% Inhibition</text>
<text x="0" y="0" font-size="12.6" font-weight="bold" fill="#111" text-anchor="middle" letter-spacing="0.05" transform="translate(248 661.9) rotate(90)">% Cytoxicity</text>
<text x="140.4" y="746" font-size="13.1" font-weight="bold" fill="#111" text-anchor="middle" letter-spacing="1">Nafamostat [µM]</text>
<text x="60.8" y="597.5" font-size="10" fill="#3a3a3a" text-anchor="start" letter-spacing="0.3">EC<tspan font-size="5" dy="2">50</tspan><tspan dy="-2">=22.50</tspan></text>
<text x="60.8" y="611" font-size="10" fill="#3a3a3a" text-anchor="start" letter-spacing="0.3">CC<tspan font-size="5" dy="2">50</tspan><tspan dy="-2">&gt;100</tspan></text>
<text x="60.8" y="625" font-size="10" fill="#3a3a3a" text-anchor="start" letter-spacing="0.3">SI&gt;4.44</text>
<line x1="326.9" y1="121.984" x2="326.9" y2="239.6" stroke="#111" stroke-width="1.4"/>
<line x1="502.3" y1="122.084" x2="502.3" y2="239.5" stroke="#333" stroke-width="1.2"/>
<line x1="326.2" y1="238.9" x2="502.3" y2="238.9" stroke="#111" stroke-width="1.4"/>
<line x1="322.9" y1="225.329" x2="326.9" y2="225.329" stroke="#111" stroke-width="1.2"/>
<line x1="502.3" y1="225.329" x2="506.3" y2="225.329" stroke="#333" stroke-width="1.1"/>
<text x="321.9" y="228.425" font-size="8.6" font-weight="bold" fill="#111" text-anchor="end" letter-spacing="0.2">-30</text>
<text x="507.5" y="228.425" font-size="8.6" font-weight="bold" fill="#2a2a2a" text-anchor="start" letter-spacing="0.2">-30</text>
<line x1="322.9" y1="204.8" x2="326.9" y2="204.8" stroke="#111" stroke-width="1.2"/>
<line x1="502.3" y1="204.8" x2="506.3" y2="204.8" stroke="#333" stroke-width="1.1"/>
<text x="321.9" y="207.896" font-size="8.6" font-weight="bold" fill="#111" text-anchor="end" letter-spacing="0.2">0</text>
<text x="507.5" y="207.896" font-size="8.6" font-weight="bold" fill="#2a2a2a" text-anchor="start" letter-spacing="0.2">0</text>
<line x1="322.9" y1="184.271" x2="326.9" y2="184.271" stroke="#111" stroke-width="1.2"/>
<line x1="502.3" y1="184.271" x2="506.3" y2="184.271" stroke="#333" stroke-width="1.1"/>
<text x="321.9" y="187.367" font-size="8.6" font-weight="bold" fill="#111" text-anchor="end" letter-spacing="0.2">30</text>
<text x="507.5" y="187.367" font-size="8.6" font-weight="bold" fill="#2a2a2a" text-anchor="start" letter-spacing="0.2">30</text>
<line x1="322.9" y1="163.742" x2="326.9" y2="163.742" stroke="#111" stroke-width="1.2"/>
<line x1="502.3" y1="163.742" x2="506.3" y2="163.742" stroke="#333" stroke-width="1.1"/>
<text x="321.9" y="166.838" font-size="8.6" font-weight="bold" fill="#111" text-anchor="end" letter-spacing="0.2">60</text>
<text x="507.5" y="166.838" font-size="8.6" font-weight="bold" fill="#2a2a2a" text-anchor="start" letter-spacing="0.2">60</text>
<line x1="322.9" y1="143.213" x2="326.9" y2="143.213" stroke="#111" stroke-width="1.2"/>
<line x1="502.3" y1="143.213" x2="506.3" y2="143.213" stroke="#333" stroke-width="1.1"/>
<text x="321.9" y="146.309" font-size="8.6" font-weight="bold" fill="#111" text-anchor="end" letter-spacing="0.2">90</text>
<text x="507.5" y="146.309" font-size="8.6" font-weight="bold" fill="#2a2a2a" text-anchor="start" letter-spacing="0.2">90</text>
<line x1="322.9" y1="122.684" x2="326.9" y2="122.684" stroke="#111" stroke-width="1.2"/>
<line x1="502.3" y1="122.684" x2="506.3" y2="122.684" stroke="#333" stroke-width="1.1"/>
<text x="321.9" y="125.78" font-size="8.6" font-weight="bold" fill="#111" text-anchor="end" letter-spacing="0.2">120</text>
<text x="507.5" y="125.78" font-size="8.6" font-weight="bold" fill="#2a2a2a" text-anchor="start" letter-spacing="0.2">120</text>
<line x1="342.5" y1="238.9" x2="342.5" y2="242.9" stroke="#111" stroke-width="1.2"/>
<text x="342.5" y="252.8" font-size="8.6" font-weight="bold" fill="#111" text-anchor="middle" letter-spacing="0.2">0.1</text>
<line x1="390.9" y1="238.9" x2="390.9" y2="242.9" stroke="#111" stroke-width="1.2"/>
<text x="390.9" y="252.8" font-size="8.6" font-weight="bold" fill="#111" text-anchor="middle" letter-spacing="0.2">1</text>
<line x1="439.3" y1="238.9" x2="439.3" y2="242.9" stroke="#111" stroke-width="1.2"/>
<text x="439.3" y="252.8" font-size="8.6" font-weight="bold" fill="#111" text-anchor="middle" letter-spacing="0.2">10</text>
<line x1="487.7" y1="238.9" x2="487.7" y2="242.9" stroke="#111" stroke-width="1.2"/>
<text x="487.7" y="252.8" font-size="8.6" font-weight="bold" fill="#111" text-anchor="middle" letter-spacing="0.2">100</text>
<line x1="328.9" y1="204.8" x2="501.3" y2="204.8" stroke="#222" stroke-width="1.1" stroke-dasharray="1.1 2.6"/>
<line x1="328.9" y1="170.6" x2="501.3" y2="170.6" stroke="#222" stroke-width="1.1" stroke-dasharray="1.1 2.6"/>
<polyline points="355.8,204.8 356.9,204.8 358.1,204.8 359.2,204.8 360.4,204.8 361.5,204.8 362.7,204.8 363.8,204.8 365.0,204.8 366.1,204.8 367.3,204.8 368.4,204.8 369.6,204.8 370.7,204.8 371.9,204.8 373.0,204.8 374.2,204.7 375.3,204.7 376.5,204.7 377.6,204.7 378.8,204.6 379.9,204.6 381.1,204.6 382.2,204.5 383.4,204.4 384.5,204.3 385.7,204.2 386.8,204.0 388.0,203.8 389.1,203.5 390.2,203.1 391.4,202.7 392.5,202.2 393.7,201.5 394.8,200.6 396.0,199.6 397.1,198.3 398.3,196.7 399.4,194.8 400.6,192.5 401.7,189.9 402.9,186.9 404.0,183.5 405.2,179.8 406.3,175.9 407.5,171.8 408.6,167.6 409.8,163.6 410.9,159.7 412.1,156.2 413.2,152.9 414.4,150.1 415.5,147.6 416.7,145.5 417.8,143.8 419.0,142.3 420.1,141.1 421.3,140.2 422.4,139.4 423.6,138.8 424.7,138.3" fill="none" stroke="#e0197a" stroke-width="1.3"/>
<rect x="375.9" y="205.2" width="5" height="5" fill="#1a8a96"/>
<rect x="383.1" y="205.2" width="5" height="5" fill="#1a8a96"/>
<rect x="397.0" y="206.0" width="5" height="5" fill="#1a8a96"/>
<rect x="412.1" y="195.0" width="5" height="5" fill="#1a8a96"/>
<rect x="426.6" y="179.1" width="5" height="5" fill="#1a8a96"/>
<rect x="441.6" y="167.5" width="5" height="5" fill="#1a8a96"/>
<rect x="456.1" y="168.4" width="5" height="5" fill="#1a8a96"/>
<rect x="470.8" y="163.2" width="5" height="5" fill="#1a8a96"/>
<rect x="485.3" y="168.4" width="5" height="5" fill="#1a8a96"/>
<circle cx="355.3" cy="188.3" r="2.7" fill="#e0197a"/>
<circle cx="378.4" cy="231.1" r="2.7" fill="#e0197a"/>
<circle cx="401.0" cy="189.7" r="2.7" fill="#e0197a"/>
<circle cx="424.1" cy="139.1" r="2.7" fill="#e0197a"/>
<rect x="529.9" y="125.0" width="5" height="5" fill="#1a8a96"/>
<circle cx="300.8" cy="223.9" r="2.8" fill="#e0197a"/>
<text x="0" y="0" font-size="12.6" font-weight="bold" fill="#111" text-anchor="middle" letter-spacing="0.5" transform="translate(304.3 175.3) rotate(-90)">% Inhibition</text>
<text x="0" y="0" font-size="12.6" font-weight="bold" fill="#111" text-anchor="middle" letter-spacing="0.05" transform="translate(529.5 177.8) rotate(90)">% Cytoxicity</text>
<text x="420.6" y="270" font-size="13.5" font-weight="bold" fill="#111" text-anchor="middle" letter-spacing="0.8">Nitazoxanide [µM]</text>
<text x="339.3" y="124.6" font-size="10.5" fill="#3a3a3a" text-anchor="start" letter-spacing="0.3">EC<tspan font-size="5" dy="2">50</tspan><tspan dy="-2">=2.12</tspan></text>
<text x="339.3" y="137.9" font-size="10.5" fill="#3a3a3a" text-anchor="start" letter-spacing="0.3">CC<tspan font-size="5" dy="2">50</tspan><tspan dy="-2">=35.53</tspan></text>
<text x="339.3" y="151.3" font-size="10.5" fill="#3a3a3a" text-anchor="start" letter-spacing="0.3">SI&gt;16.76</text>
<line x1="326.9" y1="336.304" x2="326.9" y2="454.1" stroke="#111" stroke-width="1.4"/>
<line x1="502.3" y1="336.404" x2="502.3" y2="454" stroke="#333" stroke-width="1.2"/>
<line x1="326.2" y1="453.4" x2="502.3" y2="453.4" stroke="#111" stroke-width="1.4"/>
<line x1="322.9" y1="439.499" x2="326.9" y2="439.499" stroke="#111" stroke-width="1.2"/>
<line x1="502.3" y1="439.499" x2="506.3" y2="439.499" stroke="#333" stroke-width="1.1"/>
<text x="321.9" y="442.595" font-size="8.6" font-weight="bold" fill="#111" text-anchor="end" letter-spacing="0.2">-30</text>
<text x="507.5" y="442.595" font-size="8.6" font-weight="bold" fill="#2a2a2a" text-anchor="start" letter-spacing="0.2">-30</text>
<line x1="322.9" y1="419" x2="326.9" y2="419" stroke="#111" stroke-width="1.2"/>
<line x1="502.3" y1="419" x2="506.3" y2="419" stroke="#333" stroke-width="1.1"/>
<text x="321.9" y="422.096" font-size="8.6" font-weight="bold" fill="#111" text-anchor="end" letter-spacing="0.2">0</text>
<text x="507.5" y="422.096" font-size="8.6" font-weight="bold" fill="#2a2a2a" text-anchor="start" letter-spacing="0.2">0</text>
<line x1="322.9" y1="398.501" x2="326.9" y2="398.501" stroke="#111" stroke-width="1.2"/>
<line x1="502.3" y1="398.501" x2="506.3" y2="398.501" stroke="#333" stroke-width="1.1"/>
<text x="321.9" y="401.597" font-size="8.6" font-weight="bold" fill="#111" text-anchor="end" letter-spacing="0.2">30</text>
<text x="507.5" y="401.597" font-size="8.6" font-weight="bold" fill="#2a2a2a" text-anchor="start" letter-spacing="0.2">30</text>
<line x1="322.9" y1="378.002" x2="326.9" y2="378.002" stroke="#111" stroke-width="1.2"/>
<line x1="502.3" y1="378.002" x2="506.3" y2="378.002" stroke="#333" stroke-width="1.1"/>
<text x="321.9" y="381.098" font-size="8.6" font-weight="bold" fill="#111" text-anchor="end" letter-spacing="0.2">60</text>
<text x="507.5" y="381.098" font-size="8.6" font-weight="bold" fill="#2a2a2a" text-anchor="start" letter-spacing="0.2">60</text>
<line x1="322.9" y1="357.503" x2="326.9" y2="357.503" stroke="#111" stroke-width="1.2"/>
<line x1="502.3" y1="357.503" x2="506.3" y2="357.503" stroke="#333" stroke-width="1.1"/>
<text x="321.9" y="360.599" font-size="8.6" font-weight="bold" fill="#111" text-anchor="end" letter-spacing="0.2">90</text>
<text x="507.5" y="360.599" font-size="8.6" font-weight="bold" fill="#2a2a2a" text-anchor="start" letter-spacing="0.2">90</text>
<line x1="322.9" y1="337.004" x2="326.9" y2="337.004" stroke="#111" stroke-width="1.2"/>
<line x1="502.3" y1="337.004" x2="506.3" y2="337.004" stroke="#333" stroke-width="1.1"/>
<text x="321.9" y="340.1" font-size="8.6" font-weight="bold" fill="#111" text-anchor="end" letter-spacing="0.2">120</text>
<text x="507.5" y="340.1" font-size="8.6" font-weight="bold" fill="#2a2a2a" text-anchor="start" letter-spacing="0.2">120</text>
<line x1="342.2" y1="453.4" x2="342.2" y2="457.4" stroke="#111" stroke-width="1.2"/>
<text x="342.2" y="467.3" font-size="8.6" font-weight="bold" fill="#111" text-anchor="middle" letter-spacing="0.2">0.1</text>
<line x1="390.6" y1="453.4" x2="390.6" y2="457.4" stroke="#111" stroke-width="1.2"/>
<text x="390.6" y="467.3" font-size="8.6" font-weight="bold" fill="#111" text-anchor="middle" letter-spacing="0.2">1</text>
<line x1="439" y1="453.4" x2="439" y2="457.4" stroke="#111" stroke-width="1.2"/>
<text x="439" y="467.3" font-size="8.6" font-weight="bold" fill="#111" text-anchor="middle" letter-spacing="0.2">10</text>
<line x1="487.4" y1="453.4" x2="487.4" y2="457.4" stroke="#111" stroke-width="1.2"/>
<text x="487.4" y="467.3" font-size="8.6" font-weight="bold" fill="#111" text-anchor="middle" letter-spacing="0.2">100</text>
<line x1="328.9" y1="419" x2="501.3" y2="419" stroke="#222" stroke-width="1.1" stroke-dasharray="1.1 2.6"/>
<line x1="328.9" y1="384.8" x2="501.3" y2="384.8" stroke="#222" stroke-width="1.1" stroke-dasharray="1.1 2.6"/>
<polyline points="349.5,418.2 351.8,417.9 354.1,417.6 356.4,417.1 358.7,416.5 361.0,415.7 363.3,414.7 365.6,413.4 367.9,411.7 370.2,409.6 372.6,407.1 374.9,404.0 377.2,400.4 379.5,396.3 381.8,391.8 384.1,387.0 386.4,382.1 388.7,377.4 391.0,372.9 393.3,368.9 395.6,365.3 397.9,362.3 400.2,359.8 402.5,357.8 404.8,356.2 407.1,354.9 409.4,353.9 411.7,353.1 414.0,352.5 416.3,352.1 418.6,351.7 421.0,351.5 423.3,351.3 425.6,351.1 427.9,351.0 430.2,350.9 432.5,350.9 434.8,350.8 437.1,350.8 439.4,350.8 441.7,350.7 444.0,350.7 446.3,350.7 448.6,350.7 450.9,350.7 453.2,350.7 455.5,350.7 457.8,350.7 460.1,350.7 462.4,350.7 464.8,350.7 467.1,350.7 469.4,350.7 471.7,350.7 474.0,350.7 476.3,350.7 478.6,350.7 480.9,350.7 483.2,350.7 485.5,350.7 487.8,350.7" fill="none" stroke="#e0197a" stroke-width="1.3"/>
<rect x="382.6" y="421.4" width="5" height="5" fill="#1a8a96"/>
<rect x="397.0" y="423.4" width="5" height="5" fill="#1a8a96"/>
<rect x="412.1" y="421.4" width="5" height="5" fill="#1a8a96"/>
<rect x="426.6" y="426.9" width="5" height="5" fill="#1a8a96"/>
<rect x="441.6" y="423.4" width="5" height="5" fill="#1a8a96"/>
<rect x="456.1" y="421.1" width="5" height="5" fill="#1a8a96"/>
<rect x="470.8" y="420.5" width="5" height="5" fill="#1a8a96"/>
<rect x="485.3" y="404.6" width="5" height="5" fill="#1a8a96"/>
<circle cx="348.9" cy="442.4" r="2.7" fill="#e0197a"/>
<circle cx="372.0" cy="404.2" r="2.7" fill="#e0197a"/>
<circle cx="394.9" cy="367.4" r="2.7" fill="#e0197a"/>
<circle cx="418.3" cy="350.7" r="2.7" fill="#e0197a"/>
<circle cx="441.5" cy="351.2" r="2.7" fill="#e0197a"/>
<circle cx="464.7" cy="350.7" r="2.7" fill="#e0197a"/>
<circle cx="487.8" cy="350.7" r="2.7" fill="#e0197a"/>
<rect x="529.9" y="338.0" width="5" height="5" fill="#1a8a96"/>
<circle cx="298.0" cy="436.6" r="2.8" fill="#e0197a"/>
<text x="0" y="0" font-size="12.6" font-weight="bold" fill="#111" text-anchor="middle" letter-spacing="0.5" transform="translate(303.5 389) rotate(-90)">% Inhibition</text>
<text x="0" y="0" font-size="12.6" font-weight="bold" fill="#111" text-anchor="middle" letter-spacing="0.05" transform="translate(529.5 390.4) rotate(90)">% Cytoxicity</text>
<text x="420.8" y="483.5" font-size="13.5" font-weight="bold" fill="#111" text-anchor="middle" letter-spacing="0.8">Remdesivir [µM]</text>
<text x="337" y="335.3" font-size="10.5" fill="#3a3a3a" text-anchor="start" letter-spacing="0.3">EC<tspan font-size="5" dy="2">50</tspan><tspan dy="-2">=0.77</tspan></text>
<text x="337" y="348.6" font-size="10.5" fill="#3a3a3a" text-anchor="start" letter-spacing="0.3">CC<tspan font-size="5" dy="2">50</tspan><tspan dy="-2">&gt;100</tspan></text>
<text x="337" y="362.2" font-size="10.5" fill="#3a3a3a" text-anchor="start" letter-spacing="0.3">SI&gt;129.87</text>
<line x1="332.1" y1="543.804" x2="332.1" y2="659.6" stroke="#111" stroke-width="1.4"/>
<line x1="504.3" y1="543.904" x2="504.3" y2="659.5" stroke="#333" stroke-width="1.2"/>
<line x1="331.4" y1="658.9" x2="504.3" y2="658.9" stroke="#111" stroke-width="1.4"/>
<line x1="328.1" y1="658.999" x2="332.1" y2="658.999" stroke="#111" stroke-width="1.2"/>
<line x1="504.3" y1="658.999" x2="508.3" y2="658.999" stroke="#333" stroke-width="1.1"/>
<text x="327.1" y="662.095" font-size="8.6" font-weight="bold" fill="#111" text-anchor="end" letter-spacing="0.2">-30</text>
<text x="509.5" y="662.095" font-size="8.6" font-weight="bold" fill="#2a2a2a" text-anchor="start" letter-spacing="0.2">-30</text>
<line x1="328.1" y1="636.1" x2="332.1" y2="636.1" stroke="#111" stroke-width="1.2"/>
<line x1="504.3" y1="636.1" x2="508.3" y2="636.1" stroke="#333" stroke-width="1.1"/>
<text x="327.1" y="639.196" font-size="8.6" font-weight="bold" fill="#111" text-anchor="end" letter-spacing="0.2">0</text>
<text x="509.5" y="639.196" font-size="8.6" font-weight="bold" fill="#2a2a2a" text-anchor="start" letter-spacing="0.2">0</text>
<line x1="328.1" y1="613.201" x2="332.1" y2="613.201" stroke="#111" stroke-width="1.2"/>
<line x1="504.3" y1="613.201" x2="508.3" y2="613.201" stroke="#333" stroke-width="1.1"/>
<text x="327.1" y="616.297" font-size="8.6" font-weight="bold" fill="#111" text-anchor="end" letter-spacing="0.2">30</text>
<text x="509.5" y="616.297" font-size="8.6" font-weight="bold" fill="#2a2a2a" text-anchor="start" letter-spacing="0.2">30</text>
<line x1="328.1" y1="590.302" x2="332.1" y2="590.302" stroke="#111" stroke-width="1.2"/>
<line x1="504.3" y1="590.302" x2="508.3" y2="590.302" stroke="#333" stroke-width="1.1"/>
<text x="327.1" y="593.398" font-size="8.6" font-weight="bold" fill="#111" text-anchor="end" letter-spacing="0.2">60</text>
<text x="509.5" y="593.398" font-size="8.6" font-weight="bold" fill="#2a2a2a" text-anchor="start" letter-spacing="0.2">60</text>
<line x1="328.1" y1="567.403" x2="332.1" y2="567.403" stroke="#111" stroke-width="1.2"/>
<line x1="504.3" y1="567.403" x2="508.3" y2="567.403" stroke="#333" stroke-width="1.1"/>
<text x="327.1" y="570.499" font-size="8.6" font-weight="bold" fill="#111" text-anchor="end" letter-spacing="0.2">90</text>
<text x="509.5" y="570.499" font-size="8.6" font-weight="bold" fill="#2a2a2a" text-anchor="start" letter-spacing="0.2">90</text>
<line x1="328.1" y1="544.504" x2="332.1" y2="544.504" stroke="#111" stroke-width="1.2"/>
<line x1="504.3" y1="544.504" x2="508.3" y2="544.504" stroke="#333" stroke-width="1.1"/>
<text x="327.1" y="547.6" font-size="8.6" font-weight="bold" fill="#111" text-anchor="end" letter-spacing="0.2">120</text>
<text x="509.5" y="547.6" font-size="8.6" font-weight="bold" fill="#2a2a2a" text-anchor="start" letter-spacing="0.2">120</text>
<line x1="343.4" y1="658.9" x2="343.4" y2="662.9" stroke="#111" stroke-width="1.2"/>
<text x="343.4" y="674.8" font-size="8.6" font-weight="bold" fill="#111" text-anchor="middle" letter-spacing="0.2">0.01</text>
<line x1="380.85" y1="658.9" x2="380.85" y2="662.9" stroke="#111" stroke-width="1.2"/>
<text x="380.85" y="674.8" font-size="8.6" font-weight="bold" fill="#111" text-anchor="middle" letter-spacing="0.2">0.1</text>
<line x1="418.3" y1="658.9" x2="418.3" y2="662.9" stroke="#111" stroke-width="1.2"/>
<text x="418.3" y="674.8" font-size="8.6" font-weight="bold" fill="#111" text-anchor="middle" letter-spacing="0.2">1</text>
<line x1="455.75" y1="658.9" x2="455.75" y2="662.9" stroke="#111" stroke-width="1.2"/>
<text x="455.75" y="674.8" font-size="8.6" font-weight="bold" fill="#111" text-anchor="middle" letter-spacing="0.2">10</text>
<line x1="493.2" y1="658.9" x2="493.2" y2="662.9" stroke="#111" stroke-width="1.2"/>
<text x="493.2" y="674.8" font-size="8.6" font-weight="bold" fill="#111" text-anchor="middle" letter-spacing="0.2">100</text>
<line x1="334.1" y1="636.1" x2="503.3" y2="636.1" stroke="#222" stroke-width="1.1" stroke-dasharray="1.1 2.6"/>
<line x1="334.1" y1="598" x2="503.3" y2="598" stroke="#222" stroke-width="1.1" stroke-dasharray="1.1 2.6"/>
<polyline points="348.0,635.8 349.8,635.7 351.6,635.7 353.4,635.6 355.1,635.5 356.9,635.5 358.7,635.4 360.5,635.3 362.3,635.2 364.1,635.0 365.9,634.9 367.6,634.7 369.4,634.5 371.2,634.3 373.0,634.0 374.8,633.7 376.6,633.4 378.3,633.0 380.1,632.6 381.9,632.1 383.7,631.6 385.5,631.0 387.3,630.3 389.1,629.5 390.8,628.6 392.6,627.7 394.4,626.6 396.2,625.4 398.0,624.1 399.8,622.7 401.6,621.2 403.3,619.5 405.1,617.7 406.9,615.7 408.7,613.7 410.5,611.5 412.3,609.2 414.0,606.8 415.8,604.3 417.6,601.8 419.4,599.2 421.2,596.7 423.0,594.1 424.8,591.6 426.5,589.1 428.3,586.7 430.1,584.4 431.9,582.2 433.7,580.2 435.5,578.2 437.2,576.4 439.0,574.7 440.8,573.2 442.6,571.7 444.4,570.4 446.2,569.3 448.0,568.2 449.7,567.2 451.5,566.4 453.3,565.6 455.1,564.9" fill="none" stroke="#e0197a" stroke-width="1.3"/>
<rect x="358.5" y="633.9" width="5" height="5" fill="#1a8a96"/>
<rect x="377.9" y="642.5" width="5" height="5" fill="#1a8a96"/>
<rect x="396.2" y="642.0" width="5" height="5" fill="#1a8a96"/>
<rect x="415.8" y="639.9" width="5" height="5" fill="#1a8a96"/>
<rect x="433.2" y="642.0" width="5" height="5" fill="#1a8a96"/>
<rect x="452.9" y="642.0" width="5" height="5" fill="#1a8a96"/>
<rect x="470.8" y="641.4" width="5" height="5" fill="#1a8a96"/>
<rect x="490.2" y="642.0" width="5" height="5" fill="#1a8a96"/>
<circle cx="348.0" cy="636.1" r="2.7" fill="#e0197a"/>
<circle cx="366.0" cy="638.1" r="2.7" fill="#e0197a"/>
<circle cx="383.3" cy="626.5" r="2.7" fill="#e0197a"/>
<circle cx="401.6" cy="618.4" r="2.7" fill="#e0197a"/>
<circle cx="419.5" cy="603.1" r="2.7" fill="#e0197a"/>
<circle cx="437.2" cy="574.4" r="2.7" fill="#e0197a"/>
<circle cx="455.1" cy="561.1" r="2.7" fill="#e0197a"/>
<rect x="531.6" y="550.8" width="5" height="5" fill="#1a8a96"/>
<circle cx="303.2" cy="649.4" r="2.8" fill="#e0197a"/>
<text x="0" y="0" font-size="12.6" font-weight="bold" fill="#111" text-anchor="middle" letter-spacing="0.5" transform="translate(308 602.5) rotate(-90)">% Inhibition</text>
<text x="0" y="0" font-size="12.6" font-weight="bold" fill="#111" text-anchor="middle" letter-spacing="0.05" transform="translate(531.5 603) rotate(90)">% Cytoxicity</text>
<text x="421.1" y="691.9" font-size="13.5" font-weight="bold" fill="#111" text-anchor="middle" letter-spacing="0.8">Chloroquine [µM]</text>
<text x="368.3" y="543.7" font-size="10.5" fill="#3a3a3a" text-anchor="middle" letter-spacing="0.3">EC<tspan font-size="5" dy="2">50</tspan><tspan dy="-2">=1.13</tspan></text>
<text x="368.3" y="556.2" font-size="10.5" fill="#3a3a3a" text-anchor="middle" letter-spacing="0.3">CC<tspan font-size="5" dy="2">50</tspan><tspan dy="-2">&gt;100</tspan></text>
<text x="368.3" y="569.2" font-size="10.5" fill="#3a3a3a" text-anchor="middle" letter-spacing="0.3">SI&gt;88.50</text>
<text x="582.5" y="20.5" font-size="28" font-weight="bold" fill="#111" text-anchor="start">b</text>
<text x="699.4" y="59" font-size="15" font-weight="bold" fill="#1a1a1a" text-anchor="middle" letter-spacing="0.9">Bright field</text>
<text x="808.8" y="59.5" font-size="15" font-weight="bold" fill="#1a1a1a" text-anchor="middle" letter-spacing="1.4">NP</text>
<text x="919.2" y="59.5" font-size="15" font-weight="bold" fill="#1a1a1a" text-anchor="middle" letter-spacing="1.28">NP/Hoechst</text>
<text x="0" y="0" font-size="12" font-weight="bold" fill="#1a1a1a" text-anchor="middle" letter-spacing="0.5" transform="translate(637.2 103.9) rotate(-90)">11.11 µM</text>
<text x="0" y="0" font-size="12" font-weight="bold" fill="#1a1a1a" text-anchor="middle" letter-spacing="0.5" transform="translate(637.2 188.7) rotate(-90)">3.70 µM</text>
<text x="0" y="0" font-size="12" font-weight="bold" fill="#1a1a1a" text-anchor="middle" letter-spacing="0.5" transform="translate(637.2 271.4) rotate(-90)">1.23 µM</text>
<text x="0" y="0" font-size="12" font-weight="bold" fill="#1a1a1a" text-anchor="middle" letter-spacing="0.5" transform="translate(637.2 379) rotate(-90)">10 µM</text>
<text x="0" y="0" font-size="12" font-weight="bold" fill="#1a1a1a" text-anchor="middle" letter-spacing="0.5" transform="translate(637.2 462) rotate(-90)">3.33 µM</text>
<text x="0" y="0" font-size="12" font-weight="bold" fill="#1a1a1a" text-anchor="middle" letter-spacing="0.5" transform="translate(637.2 546) rotate(-90)">1.11 µM</text>
<text x="0" y="0" font-size="18.5" font-weight="bold" fill="#111" text-anchor="middle" letter-spacing="0.1" transform="translate(609.3 189.3) rotate(-90)">Remdesivir</text>
<text x="0" y="0" font-size="17.3" font-weight="bold" fill="#111" text-anchor="middle" letter-spacing="0.1" transform="translate(607.5 459.2) rotate(-90)">Chloroquine</text>
<text x="0" y="0" font-size="18.5" font-weight="bold" fill="#111" text-anchor="middle" letter-spacing="0.4" transform="translate(608.5 651.6) rotate(-90)">DMSO</text>
<rect x="646.5" y="66" width="105" height="78" filter="url(#bff0)"/>
<rect x="646.5" y="66" width="105" height="78" fill="url(#bfg1)"/>
<rect x="646.5" y="66" width="105" height="78" fill="url(#bfg1b)"/>
<path d="M692.4 91.1h0M703.4 79.8h0M680.0 112.8h0M676.5 74.0h0M674.0 84.2h0M711.6 121.4h0M688.1 99.6h0M662.7 92.2h0M740.5 70.2h0M730.0 131.6h0M724.6 81.5h0M726.6 89.1h0M666.7 75.6h0M672.6 113.7h0M681.9 82.2h0M690.7 94.5h0M709.1 80.7h0M664.7 107.0h0" stroke="#555" stroke-opacity="0.55" stroke-width="1.5" stroke-linecap="round"/>
<path d="M668.8 76.9h0M656.5 117.2h0M734.5 141.1h0M731.6 106.4h0M728.3 112.8h0M678.7 70.5h0M653.0 97.7h0M699.4 107.7h0M740.0 100.5h0M666.1 85.3h0M670.6 123.1h0M701.8 86.2h0M725.1 123.6h0M734.9 97.8h0M675.8 97.4h0M720.3 103.3h0M694.8 120.2h0M745.5 80.3h0M677.3 81.3h0M689.4 124.6h0M722.9 95.6h0M654.0 137.1h0M664.2 111.3h0M748.4 77.2h0M743.0 84.5h0M683.8 96.1h0M683.5 129.4h0M684.3 113.8h0M677.4 85.3h0M746.0 96.3h0M713.7 126.1h0M672.4 75.3h0M721.6 125.6h0M706.7 99.9h0M729.5 110.5h0M712.1 129.8h0M666.7 84.0h0M684.7 117.2h0M674.5 94.1h0M698.7 95.5h0M736.0 81.7h0M673.2 111.4h0M651.6 75.6h0M734.5 95.6h0M716.3 135.1h0M744.1 91.8h0M709.2 70.9h0M716.7 118.8h0M662.9 114.6h0M695.7 125.6h0M726.5 94.2h0M692.3 81.3h0M686.6 135.3h0M668.0 117.3h0M659.7 116.0h0M746.2 72.2h0M713.1 125.4h0M699.4 116.0h0M662.6 81.5h0M704.7 82.9h0M718.2 69.5h0M712.9 114.3h0M738.8 98.2h0M728.9 88.2h0M744.3 107.5h0M682.6 89.9h0M742.0 140.8h0M712.1 81.8h0M674.0 89.4h0M734.0 122.3h0M702.0 128.3h0M693.3 97.2h0M686.3 81.4h0M673.8 86.9h0M677.6 81.4h0M688.9 77.1h0M651.3 99.7h0M651.5 115.9h0M653.7 90.2h0M705.9 85.2h0M743.6 127.5h0M739.2 81.1h0M693.6 80.7h0M694.4 120.1h0M705.7 81.3h0M677.0 138.0h0M713.8 136.2h0M686.4 75.9h0M651.0 78.6h0M658.0 81.6h0M657.2 130.3h0M744.2 79.5h0M731.5 127.8h0M713.4 122.7h0M681.7 110.2h0M697.8 127.2h0M658.9 68.8h0M667.6 103.7h0M672.9 94.7h0M658.1 120.5h0M668.7 92.7h0M744.3 126.4h0M676.5 115.6h0M666.4 128.4h0M722.8 128.1h0M648.5 124.7h0M661.4 103.6h0M650.8 76.8h0M743.2 130.8h0M671.1 86.1h0M708.6 76.7h0M664.5 122.4h0M653.0 117.0h0M721.1 92.4h0M651.1 87.2h0M656.2 95.0h0M690.1 82.3h0M708.4 96.0h0M665.4 122.4h0M656.5 122.6h0" stroke="#e8e8e8" stroke-opacity="0.35" stroke-width="1.6" stroke-linecap="round"/>
<rect x="730" y="138.7" width="18" height="2.2" fill="#fff"/>
<rect x="756.5" y="66" width="105" height="78" fill="#020602"/>
<rect x="840" y="138.7" width="18" height="2.2" fill="#fff"/>
<rect x="866.5" y="66" width="105" height="78" fill="#01062a"/>
<path d="M872.5 68.2h0M880.3 69.3h0M888.1 70.1h0M894.4 69.5h0M900.0 68.6h0M907.3 71.2h0M913.6 71.1h0M922.0 70.0h0M928.4 70.5h0M937.9 70.0h0M942.8 69.4h0M951.5 69.1h0M961.4 68.9h0M967.5 70.0h0M873.8 71.8h0M878.9 72.9h0M885.5 73.8h0M894.6 71.8h0M901.0 73.2h0M907.7 72.4h0M913.0 72.6h0M921.2 73.7h0M934.7 73.9h0M941.3 72.2h0M948.8 71.8h0M953.7 73.4h0M962.1 72.1h0M968.2 73.5h0M872.9 76.7h0M880.0 75.5h0M887.1 77.3h0M894.6 77.7h0M899.6 76.5h0M907.3 76.8h0M914.8 75.9h0M919.8 76.4h0M926.3 77.3h0M935.0 75.2h0M941.3 75.1h0M947.4 76.8h0M955.6 75.2h0M963.7 75.7h0M874.1 79.2h0M889.1 79.9h0M897.3 81.1h0M903.1 79.6h0M914.2 79.0h0M921.0 80.7h0M926.9 81.0h0M935.2 81.0h0M941.1 79.3h0M947.5 79.4h0M954.5 81.1h0M961.7 79.1h0M870.7 83.4h0M876.8 83.7h0M887.7 84.1h0M893.3 83.1h0M901.2 82.6h0M906.5 82.9h0M914.7 83.1h0M919.8 84.4h0M928.5 82.5h0M933.4 84.5h0M940.8 84.1h0M948.2 81.7h0M953.8 84.4h0M962.6 84.1h0M967.6 82.2h0M873.2 85.6h0M879.3 88.0h0M887.8 87.2h0M894.4 86.4h0M900.3 85.2h0M906.6 86.5h0M914.0 87.0h0M921.3 87.9h0M927.5 86.7h0M939.0 87.9h0M943.2 86.1h0M954.9 85.5h0M959.6 87.1h0M966.9 87.9h0M873.6 89.3h0M879.4 90.5h0M886.4 89.9h0M892.8 91.0h0M901.2 89.0h0M907.1 90.5h0M912.9 91.1h0M920.6 88.4h0M925.9 91.3h0M933.2 88.6h0M939.5 91.0h0M946.7 89.9h0M955.1 91.1h0M962.4 90.4h0M967.4 90.0h0M874.6 94.3h0M883.5 94.3h0M891.1 93.5h0M897.1 94.7h0M907.2 93.0h0M912.5 92.4h0M922.0 92.5h0M926.4 91.9h0M934.2 93.3h0M940.9 94.7h0M948.3 93.7h0M953.9 93.7h0M961.6 92.9h0M966.3 94.0h0M874.2 97.9h0M879.3 97.1h0M890.0 96.4h0M897.3 98.0h0M903.1 96.6h0M911.7 96.5h0M915.9 95.1h0M923.9 98.0h0M931.1 97.0h0M938.1 97.2h0M942.8 96.4h0M949.8 95.6h0M958.5 96.0h0M870.7 98.8h0M876.5 99.8h0M885.6 99.8h0M894.7 99.1h0M901.3 100.8h0M909.2 99.1h0M917.8 98.7h0M924.0 99.5h0M934.7 100.8h0M947.8 98.7h0M953.8 99.9h0M960.0 99.6h0M969.0 101.0h0M874.0 103.0h0M879.5 102.6h0M887.1 104.7h0M892.6 102.6h0M902.9 103.6h0M909.7 102.9h0M916.3 102.6h0M926.4 103.8h0M934.5 102.5h0M940.6 102.1h0M947.5 104.5h0M953.7 104.1h0M960.5 102.8h0M969.2 104.7h0M878.2 107.3h0M882.9 107.3h0M891.3 106.0h0M904.5 107.6h0M912.0 105.5h0M917.0 105.9h0M924.7 106.7h0M929.3 106.3h0M937.4 106.9h0M947.7 106.7h0M955.8 105.6h0M960.3 106.7h0M968.6 106.3h0M875.1 109.6h0M880.1 108.9h0M887.6 109.6h0M892.5 111.4h0M904.0 109.3h0M911.9 110.5h0M916.4 110.8h0M923.5 110.5h0M931.9 110.4h0M938.0 108.6h0M948.1 108.7h0M955.4 110.2h0M960.4 109.1h0M873.1 114.0h0M881.6 112.3h0M887.6 112.3h0M894.9 113.6h0M902.0 113.9h0M908.7 114.6h0M913.8 113.6h0M925.6 112.8h0M931.6 112.9h0M938.0 114.3h0M944.0 113.4h0M952.3 111.9h0M957.5 112.2h0M969.1 114.6h0M874.7 115.5h0M883.2 116.0h0M889.7 115.6h0M896.8 115.9h0M906.9 117.5h0M914.7 117.5h0M922.1 117.3h0M929.9 118.1h0M940.5 117.5h0M947.7 115.7h0M955.1 118.1h0M961.0 116.6h0M968.3 115.9h0M874.8 120.6h0M879.3 119.6h0M886.0 119.5h0M893.8 118.8h0M901.5 119.0h0M906.2 119.5h0M913.9 120.9h0M921.9 121.6h0M928.2 120.0h0M938.6 121.6h0M950.6 118.6h0M957.7 119.9h0M964.1 119.9h0M869.2 123.6h0M877.4 124.4h0M882.3 122.9h0M888.9 122.3h0M895.9 123.6h0M902.8 123.8h0M911.8 123.9h0M917.7 122.1h0M924.1 125.0h0M930.5 125.0h0M938.7 122.4h0M944.5 123.6h0M950.8 124.9h0M962.0 122.1h0M968.1 123.4h0M875.0 127.6h0M883.4 128.1h0M889.7 126.3h0M896.2 127.0h0M902.5 126.4h0M912.6 126.1h0M919.3 127.1h0M930.7 126.0h0M938.8 126.9h0M943.5 126.9h0M951.3 127.9h0M956.3 125.9h0M870.4 130.8h0M876.1 131.7h0M883.2 129.7h0M890.7 131.3h0M900.3 128.9h0M908.2 131.6h0M913.6 129.4h0M920.0 131.7h0M929.7 129.7h0M940.6 129.6h0M947.7 128.9h0M954.8 130.0h0M962.2 130.5h0M869.7 134.5h0M878.3 132.7h0M883.2 132.7h0M890.5 133.2h0M895.7 134.4h0M904.5 133.8h0M911.8 135.0h0M921.0 133.2h0M926.7 133.2h0M934.0 133.1h0M946.2 134.0h0M955.3 134.4h0M962.6 134.7h0M967.2 132.9h0M873.0 136.8h0M881.4 137.2h0M888.2 138.2h0M892.9 135.9h0M899.8 137.0h0M907.2 135.6h0M914.6 138.0h0M926.0 138.0h0M935.2 136.2h0M947.5 135.6h0M958.1 136.1h0M871.1 139.6h0M877.8 140.1h0M882.8 140.1h0M889.5 139.8h0M895.9 139.6h0M905.2 141.2h0M910.5 140.7h0M917.4 139.5h0M927.2 141.6h0M934.8 139.7h0M939.7 139.5h0M948.0 141.1h0M953.5 139.6h0M959.6 139.7h0M968.2 139.9h0" stroke="#1830b4" stroke-opacity="0.85" stroke-width="2.7" stroke-linecap="round" filter="url(#nb)"/>
<path d="M869.4 70.8h0M876.6 70.8h0M882.6 71.0h0M891.8 70.2h0M898.0 71.1h0M905.2 69.5h0M911.5 70.5h0M916.9 69.8h0M922.7 68.8h0M929.7 69.8h0M941.0 70.7h0M949.1 70.8h0M956.7 69.2h0M964.6 70.9h0M869.3 71.5h0M876.1 72.5h0M885.0 72.6h0M890.4 73.8h0M897.3 73.8h0M904.1 72.7h0M909.3 72.9h0M918.7 72.9h0M924.9 74.3h0M936.6 73.2h0M942.9 73.7h0M950.2 73.5h0M956.4 72.7h0M964.2 71.9h0M869.7 75.1h0M878.3 77.5h0M884.8 76.4h0M888.9 75.9h0M895.9 75.1h0M903.1 75.9h0M911.4 76.2h0M917.0 76.3h0M923.2 76.5h0M930.4 77.8h0M936.2 76.3h0M945.1 75.6h0M952.1 77.6h0M958.4 76.3h0M871.1 78.6h0M877.8 79.5h0M893.7 79.7h0M900.2 80.0h0M910.6 80.5h0M916.5 79.5h0M924.0 80.5h0M930.7 81.2h0M938.5 78.5h0M944.4 81.1h0M951.6 79.0h0M958.2 80.7h0M969.2 80.9h0M873.3 82.6h0M881.4 84.2h0M890.6 83.2h0M896.4 83.1h0M904.3 81.7h0M910.9 83.3h0M916.7 81.9h0M922.8 83.1h0M929.9 82.0h0M939.0 83.0h0M944.7 82.2h0M952.4 82.4h0M958.2 82.8h0M965.7 83.6h0M870.0 86.6h0M878.3 86.6h0M884.6 87.8h0M891.3 85.0h0M898.2 86.5h0M904.5 87.0h0M909.2 87.4h0M918.2 86.7h0M922.6 87.0h0M931.0 85.5h0M942.4 86.8h0M952.3 85.9h0M958.5 86.6h0M965.4 87.2h0M870.9 91.3h0M876.2 90.9h0M884.7 88.5h0M891.4 90.4h0M896.1 88.9h0M904.6 90.6h0M910.1 89.1h0M916.6 90.1h0M924.5 91.3h0M929.9 91.0h0M936.8 89.9h0M943.7 90.5h0M951.5 89.1h0M956.2 90.5h0M964.0 89.8h0M870.9 93.0h0M877.8 93.9h0M887.0 92.6h0M894.4 93.9h0M900.4 92.3h0M910.4 93.4h0M916.0 92.1h0M925.2 92.0h0M929.8 94.2h0M936.6 92.6h0M943.0 93.2h0M949.9 94.5h0M958.1 92.9h0M963.1 94.2h0M869.6 96.6h0M878.4 95.6h0M883.1 97.7h0M894.1 97.3h0M901.8 97.3h0M905.9 96.1h0M913.3 97.7h0M919.3 97.0h0M927.4 96.0h0M934.1 97.1h0M941.5 97.4h0M948.0 97.3h0M954.1 98.0h0M964.4 97.7h0M873.2 100.9h0M880.7 99.6h0M889.7 99.4h0M898.6 99.7h0M908.2 98.7h0M915.4 99.8h0M920.3 101.0h0M927.5 99.2h0M936.6 98.7h0M949.7 100.0h0M958.2 100.3h0M966.0 101.3h0M869.5 104.5h0M877.9 104.6h0M883.9 104.5h0M890.6 102.2h0M900.7 104.4h0M907.9 101.9h0M913.8 102.2h0M920.0 103.5h0M931.8 103.4h0M936.1 104.8h0M943.7 103.4h0M951.0 104.5h0M957.2 103.7h0M964.2 102.2h0M872.4 106.2h0M879.8 106.5h0M888.4 106.9h0M893.0 107.7h0M907.9 105.9h0M913.3 106.6h0M921.6 106.6h0M926.4 106.2h0M934.4 106.5h0M940.2 106.3h0M951.7 105.4h0M957.9 107.8h0M963.3 105.6h0M869.8 110.6h0M875.7 110.3h0M882.6 111.3h0M890.5 111.3h0M900.2 111.5h0M908.4 110.0h0M915.1 110.2h0M920.4 108.6h0M926.4 109.1h0M934.4 109.7h0M943.7 111.4h0M951.0 111.0h0M956.3 110.0h0M871.3 114.1h0M876.3 112.4h0M883.6 113.2h0M888.9 113.7h0M896.0 114.6h0M903.7 112.6h0M909.6 114.5h0M918.6 112.6h0M927.4 112.2h0M935.6 112.5h0M940.0 113.1h0M946.1 114.3h0M953.9 114.5h0M961.9 112.1h0M870.5 117.9h0M877.1 115.8h0M886.4 115.7h0M893.3 117.5h0M901.2 117.0h0M912.0 118.0h0M916.2 117.7h0M927.8 116.3h0M934.4 116.7h0M943.2 117.3h0M950.9 117.9h0M958.0 116.1h0M963.5 117.4h0M871.2 121.3h0M878.3 120.6h0M882.4 119.4h0M891.6 119.7h0M897.7 121.0h0M903.3 121.1h0M909.9 120.4h0M916.8 121.0h0M923.0 119.1h0M929.8 119.8h0M941.5 120.1h0M953.4 119.7h0M960.5 119.2h0M968.1 119.9h0M872.3 124.8h0M878.8 124.7h0M886.9 122.5h0M893.5 123.1h0M901.4 123.0h0M908.3 123.1h0M914.6 123.5h0M921.3 123.5h0M927.9 125.0h0M932.8 123.7h0M941.0 124.7h0M946.7 123.7h0M954.6 122.6h0M964.0 124.3h0M869.6 125.7h0M880.1 127.4h0M887.4 126.9h0M893.2 127.5h0M899.3 127.5h0M909.8 127.6h0M917.4 127.6h0M927.8 125.7h0M933.8 127.3h0M942.2 127.3h0M947.7 127.9h0M953.5 128.3h0M964.0 127.7h0M875.0 129.4h0M879.1 131.5h0M888.2 129.7h0M894.0 131.0h0M902.4 129.2h0M911.0 131.0h0M916.1 131.0h0M928.6 130.0h0M932.8 128.8h0M944.6 128.9h0M949.5 130.2h0M959.0 129.2h0M968.6 129.6h0M872.5 132.8h0M881.0 133.4h0M886.8 135.0h0M894.8 134.1h0M899.6 135.0h0M907.8 133.3h0M916.5 134.4h0M922.8 133.8h0M932.1 133.1h0M937.0 133.5h0M951.9 133.5h0M956.5 134.1h0M964.0 132.7h0M869.8 136.9h0M878.1 136.8h0M882.8 136.0h0M891.0 136.1h0M895.7 137.4h0M902.5 136.6h0M911.3 137.6h0M921.2 136.4h0M930.1 136.0h0M944.2 137.5h0M954.2 136.5h0M960.0 136.8h0M872.7 141.8h0M881.6 139.5h0M888.2 139.2h0M894.5 141.6h0M899.2 141.3h0M907.6 139.7h0M914.7 140.5h0M919.4 139.6h0M932.1 140.7h0M937.3 140.2h0M945.5 140.0h0M952.0 139.8h0M956.5 140.0h0M964.1 140.7h0" stroke="#2444d8" stroke-opacity="0.9" stroke-width="2.6" stroke-linecap="round" filter="url(#nb)"/>
<rect x="950" y="138.7" width="18" height="2.2" fill="#fff"/>
<rect x="646.5" y="149.2" width="105" height="78" filter="url(#bff1)"/>
<path d="M725.2 162.1h0M656.3 215.4h0M733.9 222.5h0M729.0 178.0h0M658.0 203.5h0M653.4 202.4h0M721.4 174.1h0M666.0 174.4h0M710.8 183.3h0M699.1 187.7h0M726.9 189.9h0M700.0 216.2h0M732.2 175.1h0M683.3 192.2h0M708.1 200.0h0M688.4 177.2h0M677.2 153.1h0M699.1 195.7h0" stroke="#555" stroke-opacity="0.55" stroke-width="1.5" stroke-linecap="round"/>
<path d="M667.0 184.9h0M714.8 186.3h0M658.7 210.7h0M740.8 212.9h0M670.3 223.3h0M673.9 161.4h0M656.0 201.1h0M747.3 197.3h0M695.0 212.6h0M690.8 174.1h0M739.3 179.6h0M708.5 180.1h0M689.0 208.8h0M743.6 211.8h0M748.7 181.1h0M729.3 154.0h0M743.4 212.2h0M724.4 164.6h0M721.2 179.7h0M680.9 212.5h0M730.9 201.7h0M678.2 176.8h0M670.8 190.1h0M653.5 207.3h0M738.3 187.8h0M699.4 221.3h0M721.3 209.0h0M708.1 216.5h0M686.6 205.9h0M716.0 203.3h0M657.0 186.7h0M689.5 207.9h0M684.0 152.4h0M662.0 223.8h0M675.2 217.6h0M700.7 167.7h0M693.6 223.9h0M690.9 167.8h0M662.4 193.4h0M674.8 165.9h0M707.0 184.7h0M720.1 215.6h0M719.7 201.5h0M696.9 211.2h0M649.4 203.4h0M749.3 180.8h0M675.0 153.0h0M693.7 181.6h0M723.5 200.2h0M717.7 197.7h0M660.0 161.6h0M717.8 207.7h0M698.2 174.2h0M681.0 159.0h0M651.2 183.3h0M714.1 200.1h0M667.0 217.8h0M723.2 171.2h0M707.3 175.7h0M699.0 165.9h0M716.5 190.2h0M656.6 178.7h0M648.6 167.7h0M683.3 225.0h0M666.6 218.2h0M724.0 210.2h0M719.7 163.3h0M733.5 219.2h0M680.9 221.6h0M692.5 162.5h0M701.4 182.7h0M663.7 187.5h0M721.9 192.2h0M743.9 153.5h0M673.5 204.4h0M650.6 207.6h0M734.8 156.4h0M711.3 172.1h0M732.4 213.1h0M700.2 199.3h0M655.8 181.3h0M716.1 164.3h0M678.9 206.3h0M738.5 160.0h0M722.6 154.9h0M720.4 216.7h0M650.1 156.7h0M692.1 216.6h0M723.5 215.8h0M675.3 218.9h0M730.0 202.3h0M655.7 184.2h0M743.1 184.3h0M690.3 171.8h0M664.8 162.2h0M718.6 188.7h0M691.7 181.8h0M680.6 223.9h0M742.9 172.5h0M665.0 208.0h0M731.9 203.4h0M658.9 173.8h0M740.0 160.8h0M668.0 163.9h0M690.3 176.5h0M687.1 188.1h0M718.7 205.2h0M714.0 180.6h0M740.7 166.4h0M707.6 171.0h0M724.8 216.0h0M661.5 160.8h0M706.6 211.4h0M700.1 184.0h0M740.0 214.6h0M681.1 173.9h0M735.3 176.7h0M684.0 213.4h0M660.2 190.2h0M672.0 173.0h0" stroke="#e8e8e8" stroke-opacity="0.35" stroke-width="1.6" stroke-linecap="round"/>
<rect x="730" y="221.9" width="18" height="2.2" fill="#fff"/>
<rect x="756.5" y="149.2" width="105" height="78" fill="#020602"/>
<g filter="url(#nb)" opacity="1">
<path d="M813.0 170.1 L811.1 171.8 L809.9 174.0 L807.2 172.6 L805.8 170.0 L805.8 166.4 L808.3 164.0 L810.1 164.6 L812.4 166.6Z" fill="#145a16" stroke="#38a838" stroke-width="1.2" stroke-linejoin="round"/>
<path d="M815.5 216.1 L813.3 217.7 L811.6 218.4 L808.7 218.6 L807.3 216.8 L808.0 215.0 L809.6 213.5 L811.9 213.0 L813.8 214.7Z" fill="#145a16" stroke="#38a838" stroke-width="1.2" stroke-linejoin="round"/>
</g>
<rect x="840" y="221.9" width="18" height="2.2" fill="#fff"/>
<rect x="866.5" y="149.2" width="105" height="78" fill="#01062a"/>
<path d="M874.4 152.1h0M879.4 153.1h0M891.5 153.3h0M898.7 152.5h0M904.2 152.1h0M910.8 151.5h0M919.1 153.9h0M925.1 151.7h0M934.9 153.3h0M942.4 152.0h0M949.1 152.4h0M964.6 153.5h0M871.5 156.6h0M879.3 157.8h0M886.2 156.0h0M893.7 156.3h0M900.5 155.2h0M909.3 157.3h0M915.0 155.5h0M924.0 155.7h0M933.2 157.2h0M940.5 157.2h0M946.1 155.3h0M954.4 155.7h0M960.2 155.6h0M966.9 155.6h0M874.8 159.9h0M880.2 160.0h0M889.0 160.2h0M896.7 158.8h0M906.0 160.0h0M915.3 159.1h0M921.6 158.4h0M928.6 161.2h0M936.9 159.7h0M946.5 159.6h0M958.7 159.3h0M968.5 159.7h0M872.7 165.0h0M880.5 162.8h0M887.0 162.4h0M894.2 163.9h0M905.4 164.6h0M912.3 162.6h0M918.3 162.0h0M925.2 162.0h0M931.7 164.8h0M940.7 163.4h0M945.9 164.8h0M955.0 163.5h0M960.5 165.0h0M968.3 163.1h0M874.4 166.0h0M881.8 168.3h0M887.1 166.3h0M895.0 167.8h0M900.3 165.8h0M909.5 168.2h0M914.4 165.5h0M922.7 166.7h0M930.0 168.5h0M935.8 168.1h0M944.9 167.7h0M950.0 166.2h0M955.9 167.8h0M966.5 166.8h0M874.7 169.4h0M881.5 169.8h0M888.5 171.1h0M895.0 171.0h0M902.9 171.9h0M908.5 169.8h0M916.6 171.4h0M924.0 169.2h0M929.1 171.0h0M939.5 171.6h0M949.6 171.5h0M961.5 171.8h0M966.9 169.8h0M874.0 174.4h0M880.6 173.4h0M887.7 174.0h0M899.3 172.8h0M904.4 173.5h0M912.6 174.9h0M919.1 175.6h0M925.6 174.6h0M937.5 175.2h0M943.1 172.7h0M951.0 174.9h0M957.0 172.8h0M962.8 173.0h0M869.7 176.8h0M878.6 178.6h0M885.1 176.2h0M892.4 178.8h0M898.0 177.7h0M903.9 177.0h0M910.5 176.5h0M918.4 178.4h0M924.9 178.2h0M934.4 176.1h0M942.9 176.4h0M951.8 178.3h0M956.2 176.4h0M963.6 177.7h0M870.5 179.7h0M879.3 181.0h0M888.5 181.7h0M893.7 179.9h0M902.0 181.1h0M909.0 180.7h0M915.4 180.5h0M922.7 182.2h0M929.5 179.9h0M935.9 182.5h0M943.0 181.3h0M950.1 182.0h0M957.0 180.8h0M963.4 181.8h0M869.5 185.4h0M876.6 184.2h0M883.2 185.1h0M891.6 183.8h0M897.9 183.3h0M903.9 183.7h0M912.2 183.9h0M918.0 184.2h0M926.2 184.5h0M931.9 185.8h0M941.4 184.9h0M945.5 185.2h0M954.1 184.4h0M960.1 185.1h0M968.4 184.9h0M873.9 188.1h0M881.9 187.2h0M887.2 189.1h0M896.6 187.1h0M908.3 188.7h0M920.5 187.4h0M927.1 187.8h0M931.5 188.6h0M940.9 188.5h0M947.3 187.1h0M953.9 188.8h0M965.4 187.8h0M875.0 192.9h0M882.2 192.1h0M888.2 193.1h0M895.0 192.4h0M903.7 193.2h0M911.5 190.8h0M918.9 190.2h0M930.8 193.3h0M937.8 190.4h0M944.9 192.0h0M951.4 193.3h0M959.6 191.8h0M966.4 192.4h0M872.3 196.5h0M881.5 195.1h0M888.9 195.6h0M899.5 194.8h0M908.2 196.7h0M916.0 194.5h0M921.2 194.8h0M928.3 196.4h0M934.9 195.7h0M944.9 194.4h0M951.6 194.1h0M955.9 195.4h0M963.8 194.4h0M869.6 198.4h0M878.0 197.9h0M883.3 197.7h0M890.1 199.1h0M897.2 199.9h0M908.4 198.7h0M922.4 197.7h0M928.6 198.7h0M937.1 198.7h0M948.0 200.3h0M959.7 198.0h0M873.2 201.6h0M879.5 201.1h0M889.9 203.2h0M897.9 201.7h0M903.7 201.5h0M911.1 203.2h0M918.5 201.7h0M924.9 202.8h0M933.7 203.5h0M942.2 203.2h0M951.7 201.6h0M956.6 200.9h0M967.9 202.9h0M874.8 206.9h0M885.5 206.1h0M890.3 206.6h0M899.6 205.1h0M905.4 206.4h0M912.3 207.0h0M921.9 205.2h0M930.8 206.0h0M935.4 207.0h0M942.3 204.8h0M951.0 206.7h0M958.6 205.5h0M965.8 204.5h0M873.4 210.6h0M879.4 209.6h0M890.4 207.9h0M896.9 210.7h0M908.9 209.5h0M917.9 208.5h0M926.4 208.0h0M937.9 208.5h0M944.4 208.0h0M949.1 209.2h0M956.4 209.8h0M963.2 210.0h0M868.7 213.6h0M879.6 211.4h0M891.8 214.0h0M905.3 211.4h0M913.1 212.2h0M923.9 211.9h0M928.6 213.6h0M938.5 213.9h0M945.7 211.9h0M952.4 213.8h0M963.6 212.6h0M872.6 217.2h0M881.1 217.5h0M888.0 217.0h0M900.8 216.7h0M911.1 217.3h0M919.9 217.8h0M926.4 217.3h0M933.8 218.0h0M944.8 217.7h0M948.8 216.0h0M955.8 215.7h0M963.0 217.2h0M874.7 220.1h0M879.6 219.2h0M891.8 221.3h0M898.6 220.1h0M906.5 221.3h0M911.5 220.9h0M918.2 219.6h0M926.6 220.2h0M931.5 219.5h0M941.3 220.0h0M945.8 219.4h0M954.7 219.8h0M959.5 218.9h0M870.7 222.8h0M879.4 222.8h0M886.1 224.7h0M898.2 222.9h0M905.4 222.4h0M913.0 224.0h0M917.7 222.8h0M927.9 224.4h0M937.4 222.2h0M943.8 223.5h0M949.8 222.7h0M956.5 223.9h0M969.1 222.6h0" stroke="#1830b4" stroke-opacity="0.85" stroke-width="2.7" stroke-linecap="round" filter="url(#nb)"/>
<path d="M869.7 153.1h0M878.7 152.8h0M888.3 152.9h0M893.1 153.0h0M900.6 151.5h0M908.2 153.2h0M916.1 152.6h0M921.1 154.1h0M932.9 152.7h0M940.2 154.2h0M945.5 153.0h0M956.2 152.6h0M967.8 152.8h0M873.8 158.0h0M882.9 157.8h0M891.2 155.6h0M899.3 157.9h0M906.3 156.8h0M910.6 156.7h0M918.1 156.1h0M930.7 155.8h0M935.0 157.8h0M943.0 155.8h0M949.8 157.8h0M956.1 157.7h0M965.8 156.8h0M870.1 158.8h0M877.3 160.4h0M885.2 161.2h0M894.4 159.5h0M902.0 159.4h0M909.7 159.7h0M918.8 160.0h0M924.6 160.7h0M932.9 161.4h0M940.7 160.1h0M953.7 160.6h0M964.2 159.5h0M869.5 164.0h0M877.4 163.4h0M884.4 164.7h0M891.8 163.4h0M899.4 163.9h0M908.3 163.1h0M915.9 162.3h0M921.8 162.1h0M929.4 163.5h0M936.9 163.3h0M944.2 163.2h0M950.9 164.5h0M958.6 164.7h0M963.4 164.5h0M870.4 166.8h0M877.3 165.8h0M883.8 166.2h0M891.1 165.5h0M898.0 167.8h0M905.1 168.0h0M910.6 167.5h0M919.1 166.6h0M925.2 168.4h0M934.2 167.1h0M938.4 168.1h0M945.3 168.3h0M954.8 168.6h0M963.1 168.3h0M870.6 169.0h0M878.2 171.2h0M885.2 170.4h0M890.1 170.7h0M897.1 170.6h0M904.9 171.8h0M913.5 171.2h0M920.5 171.3h0M926.3 169.8h0M933.4 171.8h0M948.0 170.1h0M953.8 171.2h0M965.2 169.8h0M869.7 173.0h0M876.7 175.2h0M883.4 175.4h0M890.7 173.8h0M900.4 174.8h0M909.2 173.1h0M914.2 173.9h0M922.3 174.7h0M934.3 172.7h0M941.0 175.0h0M945.9 172.7h0M954.7 174.2h0M960.8 174.7h0M968.3 173.8h0M873.0 178.1h0M881.1 176.7h0M889.0 177.8h0M895.3 177.5h0M901.4 178.7h0M908.7 176.2h0M916.3 177.7h0M923.3 177.2h0M929.6 177.6h0M936.8 176.4h0M945.4 176.3h0M954.2 176.9h0M959.5 178.3h0M967.2 177.1h0M876.2 179.6h0M882.8 180.6h0M891.8 180.0h0M897.6 180.7h0M905.8 182.7h0M913.0 181.7h0M918.5 182.4h0M927.0 182.3h0M933.2 179.7h0M939.6 180.5h0M947.9 181.8h0M955.0 180.7h0M960.0 182.1h0M968.2 181.9h0M872.7 186.1h0M880.8 185.0h0M887.9 184.7h0M895.9 183.6h0M901.9 184.8h0M910.0 185.9h0M916.2 185.2h0M921.1 184.7h0M930.9 184.0h0M935.3 184.2h0M942.3 185.4h0M949.2 184.1h0M958.8 186.2h0M964.3 183.8h0M870.1 188.1h0M878.2 189.2h0M883.6 187.5h0M893.8 187.7h0M904.6 188.8h0M915.5 187.0h0M922.5 188.4h0M930.4 187.8h0M935.2 189.4h0M944.1 188.8h0M951.1 187.4h0M959.9 189.6h0M968.3 187.7h0M878.2 192.8h0M883.6 191.5h0M889.8 191.4h0M897.6 192.9h0M910.0 190.6h0M914.4 192.5h0M925.8 191.9h0M933.3 190.8h0M941.2 193.0h0M946.0 192.7h0M957.1 190.9h0M964.0 191.6h0M868.8 194.3h0M878.2 196.7h0M883.9 196.0h0M891.1 196.1h0M905.5 194.6h0M910.9 193.9h0M919.5 194.0h0M926.6 194.8h0M932.7 196.6h0M939.6 194.2h0M946.7 196.3h0M954.5 193.9h0M961.0 194.8h0M966.7 194.0h0M874.8 200.0h0M881.4 200.1h0M887.5 198.5h0M896.1 197.3h0M906.3 200.3h0M914.1 198.8h0M925.0 199.3h0M932.4 200.3h0M938.6 198.1h0M951.3 199.7h0M965.3 197.7h0M876.6 202.1h0M885.0 201.2h0M893.2 202.9h0M901.4 203.8h0M908.2 201.3h0M915.4 202.4h0M923.2 200.9h0M930.3 202.6h0M936.5 203.5h0M946.7 202.0h0M954.5 203.2h0M959.5 203.1h0M869.3 204.3h0M879.6 207.4h0M888.3 207.2h0M896.0 206.8h0M901.7 205.6h0M909.2 205.5h0M914.2 206.3h0M927.3 205.9h0M931.8 205.3h0M940.9 206.3h0M946.6 206.0h0M952.4 206.3h0M961.5 206.9h0M966.6 206.0h0M878.7 209.8h0M884.5 210.4h0M895.3 210.4h0M900.6 207.8h0M910.8 209.0h0M923.1 210.4h0M929.5 210.9h0M939.8 209.2h0M948.3 210.1h0M954.6 210.5h0M960.9 210.5h0M966.9 210.5h0M873.5 214.0h0M888.5 211.4h0M902.1 214.0h0M909.1 213.5h0M916.1 212.1h0M925.0 212.8h0M935.2 214.3h0M943.9 213.2h0M950.1 213.9h0M962.2 213.5h0M967.0 213.8h0M875.8 217.2h0M884.7 217.6h0M892.1 217.4h0M907.3 217.6h0M915.8 216.9h0M923.0 215.0h0M930.1 217.5h0M934.9 217.8h0M948.0 215.9h0M952.4 216.1h0M960.0 216.7h0M969.1 216.7h0M875.8 221.3h0M886.5 221.4h0M895.1 220.4h0M902.0 218.5h0M908.3 221.0h0M915.5 221.2h0M922.4 219.4h0M929.7 220.5h0M936.8 220.0h0M942.4 219.9h0M949.1 220.7h0M958.5 220.3h0M968.6 220.0h0M875.9 223.9h0M883.4 222.2h0M894.8 224.2h0M901.5 224.4h0M908.1 223.4h0M915.1 221.9h0M923.7 223.7h0M932.6 225.0h0M940.8 223.7h0M945.5 224.6h0M954.5 221.9h0M960.8 222.6h0" stroke="#2444d8" stroke-opacity="0.9" stroke-width="2.6" stroke-linecap="round" filter="url(#nb)"/>
<g filter="url(#nb)" opacity="1">
<path d="M923.0 170.1 L921.1 171.8 L919.9 174.0 L917.2 172.6 L915.8 170.0 L915.8 166.4 L918.3 164.0 L920.1 164.6 L922.4 166.6Z" fill="#145a16" stroke="#38a838" stroke-width="1.2" stroke-linejoin="round"/>
<path d="M925.5 216.1 L923.3 217.7 L921.6 218.4 L918.7 218.6 L917.3 216.8 L918.0 215.0 L919.6 213.5 L921.9 213.0 L923.8 214.7Z" fill="#145a16" stroke="#38a838" stroke-width="1.2" stroke-linejoin="round"/>
</g>
<rect x="950" y="221.9" width="18" height="2.2" fill="#fff"/>
<rect x="646.5" y="232.4" width="105" height="78" filter="url(#bff2)"/>
<path d="M651.2 247.7h0M732.3 289.0h0M731.9 304.1h0M735.1 261.4h0M673.5 303.2h0M697.2 236.5h0M676.3 291.5h0M715.5 256.4h0M730.2 279.5h0M658.7 252.8h0M706.2 297.9h0M683.8 239.5h0M659.6 239.6h0M724.7 254.2h0M691.0 279.3h0M704.1 247.7h0M659.2 242.4h0M728.1 242.4h0" stroke="#555" stroke-opacity="0.55" stroke-width="1.5" stroke-linecap="round"/>
<path d="M665.8 246.2h0M724.2 275.5h0M706.0 257.9h0M726.4 263.6h0M742.7 243.3h0M746.2 239.4h0M695.1 238.7h0M698.9 308.2h0M732.0 244.8h0M658.1 299.0h0M673.2 259.7h0M648.7 299.4h0M704.4 261.4h0M708.6 242.5h0M685.7 287.8h0M708.5 307.1h0M742.5 284.8h0M726.7 263.6h0M654.2 285.9h0M655.7 234.5h0M663.3 294.2h0M682.8 246.5h0M694.3 277.4h0M653.5 275.7h0M712.2 247.0h0M689.7 241.4h0M692.0 234.6h0M664.8 292.9h0M697.4 250.5h0M713.1 295.8h0M735.9 256.3h0M690.7 277.8h0M653.0 235.6h0M690.2 235.0h0M729.4 280.3h0M741.3 268.2h0M748.4 286.5h0M670.3 249.4h0M727.5 302.7h0M740.4 282.8h0M657.0 298.1h0M677.8 260.4h0M661.5 282.8h0M728.1 298.0h0M708.1 280.3h0M742.7 290.0h0M685.9 282.7h0M718.7 241.0h0M653.2 240.4h0M677.9 246.5h0M723.9 278.2h0M712.9 281.5h0M717.0 238.8h0M671.0 289.3h0M725.2 238.0h0M685.9 237.9h0M671.3 261.9h0M665.8 249.7h0M700.2 304.4h0M661.6 276.8h0M742.3 249.2h0M747.4 248.4h0M727.6 258.8h0M741.0 286.0h0M749.1 258.3h0M719.2 304.6h0M698.9 249.8h0M691.7 236.1h0M649.0 281.0h0M665.9 288.3h0M695.2 242.6h0M696.2 306.1h0M713.6 247.0h0M728.4 243.2h0M706.9 285.9h0M707.7 295.1h0M680.5 255.9h0M735.6 298.6h0M699.2 266.1h0M730.2 266.9h0M673.1 308.2h0M733.5 299.4h0M720.1 298.5h0M671.1 297.7h0M742.2 288.7h0M667.6 277.3h0M677.6 280.2h0M734.8 259.8h0M733.4 287.3h0M650.3 293.1h0M715.1 278.9h0M673.3 269.8h0M733.2 296.6h0M687.2 277.6h0M746.2 257.9h0M736.7 241.9h0M690.7 277.2h0M726.7 279.9h0M704.8 308.0h0M742.1 275.9h0M686.2 279.4h0M686.0 265.5h0M663.4 299.9h0M705.2 276.4h0M725.6 295.3h0M664.7 280.0h0M704.9 299.9h0M657.1 261.0h0M734.1 287.7h0M731.1 261.4h0M684.7 283.8h0M707.0 293.7h0M745.1 261.4h0M700.2 235.9h0M654.8 289.3h0M708.8 257.2h0M747.5 258.8h0M693.8 293.5h0M738.8 278.9h0M746.3 297.2h0" stroke="#e8e8e8" stroke-opacity="0.35" stroke-width="1.6" stroke-linecap="round"/>
<rect x="730" y="305.1" width="18" height="2.2" fill="#fff"/>
<rect x="756.5" y="232.4" width="105" height="78" fill="#020602"/>
<rect x="756.5" y="232.4" width="105" height="78" filter="url(#gf2)"/>
<rect x="840" y="305.1" width="18" height="2.2" fill="#fff"/>
<rect x="866.5" y="232.4" width="105" height="78" fill="#01062a"/>
<path d="M877.2 237.5h0M887.0 237.0h0M900.5 236.4h0M908.8 237.0h0M914.0 235.4h0M923.7 235.0h0M932.1 235.8h0M939.7 236.6h0M947.6 235.7h0M958.6 236.4h0M963.4 237.0h0M869.3 240.0h0M878.3 240.9h0M883.5 240.3h0M890.3 239.6h0M898.4 239.7h0M906.2 239.5h0M912.5 240.5h0M919.7 239.5h0M925.7 238.9h0M932.3 238.6h0M939.2 240.0h0M946.6 239.1h0M952.8 238.9h0M962.0 238.3h0M967.2 240.4h0M872.4 242.6h0M881.5 241.8h0M886.5 244.7h0M894.8 242.6h0M901.5 241.8h0M910.8 244.7h0M918.2 243.6h0M926.4 243.0h0M932.4 241.8h0M940.4 242.0h0M950.2 242.1h0M958.3 243.4h0M963.1 244.3h0M874.4 248.0h0M880.7 247.1h0M889.0 245.9h0M897.9 245.2h0M906.1 247.7h0M914.6 246.3h0M921.2 247.0h0M929.1 246.0h0M939.8 248.1h0M946.8 246.3h0M954.3 247.4h0M961.4 247.3h0M968.5 247.5h0M878.3 250.4h0M892.0 251.2h0M898.6 249.5h0M904.3 251.6h0M912.1 248.8h0M920.1 249.3h0M926.1 251.6h0M932.2 250.2h0M940.5 250.4h0M947.1 249.8h0M952.3 249.4h0M961.1 250.4h0M967.2 249.2h0M882.9 255.0h0M889.7 253.8h0M898.2 252.3h0M906.1 254.2h0M920.1 253.6h0M927.0 252.6h0M933.1 254.0h0M939.1 253.2h0M947.5 252.5h0M952.5 253.9h0M961.2 255.1h0M968.4 252.7h0M874.2 257.4h0M880.8 258.7h0M886.4 255.8h0M899.6 256.3h0M905.2 256.9h0M912.8 257.3h0M920.2 257.0h0M926.4 256.6h0M941.5 256.1h0M953.0 256.9h0M961.3 258.2h0M966.6 257.0h0M872.9 262.3h0M880.8 259.5h0M888.2 259.6h0M894.9 261.0h0M900.1 260.6h0M909.6 259.9h0M914.4 259.8h0M923.3 261.2h0M929.3 259.9h0M936.6 261.0h0M942.1 262.1h0M949.4 261.8h0M962.0 262.3h0M967.1 260.1h0M873.6 263.8h0M888.1 265.0h0M898.7 265.2h0M903.6 265.3h0M912.7 263.2h0M922.0 265.7h0M929.1 265.6h0M937.9 263.5h0M945.9 263.5h0M953.2 264.2h0M961.7 264.8h0M869.1 268.2h0M881.8 268.3h0M887.9 268.3h0M897.2 266.4h0M904.2 267.4h0M911.7 267.1h0M922.0 268.0h0M929.4 266.8h0M938.4 268.9h0M948.0 268.4h0M953.7 268.1h0M962.1 267.1h0M966.3 269.2h0M872.3 270.7h0M880.9 271.9h0M890.9 271.0h0M897.5 272.0h0M904.8 269.9h0M912.8 272.6h0M918.4 270.8h0M924.9 270.4h0M933.6 272.2h0M938.3 271.1h0M947.2 272.8h0M964.2 270.3h0M876.3 274.1h0M883.7 274.6h0M895.7 276.2h0M902.6 274.2h0M909.5 275.6h0M915.3 273.9h0M922.4 275.2h0M928.5 275.6h0M938.6 275.1h0M946.8 276.2h0M953.0 275.4h0M959.5 274.8h0M967.8 274.8h0M874.1 277.6h0M882.1 277.8h0M886.9 277.2h0M894.9 277.1h0M901.0 279.5h0M908.7 277.7h0M915.8 277.2h0M923.3 278.3h0M928.4 279.6h0M935.9 277.6h0M944.7 278.5h0M950.4 278.5h0M956.7 278.7h0M963.6 277.2h0M870.0 282.2h0M875.8 280.6h0M883.8 280.6h0M890.2 280.9h0M897.3 282.0h0M903.5 283.1h0M916.0 280.6h0M921.7 282.7h0M932.4 281.2h0M939.9 282.0h0M946.9 281.3h0M953.1 283.5h0M965.3 283.5h0M870.9 286.3h0M876.5 284.1h0M884.7 285.2h0M891.1 286.5h0M899.6 285.8h0M906.4 285.2h0M913.5 285.9h0M918.8 286.4h0M927.3 285.4h0M935.9 286.6h0M943.0 286.9h0M949.1 284.0h0M960.3 285.7h0M968.8 284.8h0M873.3 290.4h0M882.8 287.7h0M889.6 288.1h0M902.3 290.0h0M909.0 290.4h0M917.7 287.7h0M926.3 290.1h0M932.6 288.8h0M938.7 287.9h0M956.5 287.7h0M965.3 289.7h0M870.3 293.2h0M877.3 294.0h0M883.7 291.1h0M891.5 292.3h0M897.7 293.9h0M906.1 293.0h0M913.1 292.1h0M920.0 292.4h0M925.9 291.1h0M937.1 291.3h0M951.0 293.4h0M957.9 292.7h0M965.6 291.9h0M871.6 294.8h0M877.5 295.9h0M885.2 296.2h0M891.8 297.1h0M899.0 296.1h0M905.1 295.2h0M916.8 296.5h0M923.2 295.6h0M929.4 297.2h0M935.1 296.2h0M943.0 295.2h0M950.7 297.1h0M958.2 294.6h0M963.4 297.4h0M870.5 298.5h0M878.5 300.0h0M883.1 300.1h0M895.2 299.1h0M900.5 298.7h0M908.7 301.0h0M916.0 300.5h0M921.7 301.1h0M928.5 300.5h0M937.0 298.5h0M944.0 299.0h0M951.6 299.6h0M956.9 300.5h0M964.5 298.3h0M871.5 302.4h0M878.3 302.1h0M884.0 302.8h0M889.9 304.1h0M900.2 301.9h0M909.6 304.3h0M923.0 302.5h0M930.0 303.7h0M935.7 304.3h0M944.9 303.9h0M953.7 302.4h0M959.9 303.2h0M968.9 303.4h0M873.8 305.4h0M879.2 307.3h0M889.8 306.0h0M898.5 306.1h0M904.2 306.4h0M914.3 308.0h0M921.8 307.1h0M929.8 306.6h0M937.9 306.7h0M944.6 307.4h0M953.0 305.2h0M964.5 306.6h0" stroke="#1830b4" stroke-opacity="0.85" stroke-width="2.7" stroke-linecap="round" filter="url(#nb)"/>
<path d="M870.2 235.6h0M885.6 235.3h0M898.3 237.1h0M904.5 236.2h0M911.5 237.3h0M917.7 235.4h0M924.8 236.6h0M937.9 235.6h0M942.7 235.5h0M953.2 235.2h0M961.9 237.3h0M966.3 237.4h0M873.6 240.5h0M881.0 239.3h0M887.6 239.0h0M893.5 240.0h0M901.3 239.5h0M907.2 240.7h0M915.8 238.1h0M922.2 240.5h0M929.1 240.9h0M936.1 239.2h0M943.9 239.2h0M949.0 239.0h0M956.3 240.0h0M963.0 238.4h0M871.2 243.8h0M876.4 243.3h0M884.2 243.4h0M892.5 243.0h0M898.5 244.2h0M907.4 243.3h0M916.4 242.0h0M924.0 242.3h0M930.0 241.8h0M935.0 244.3h0M948.2 242.7h0M952.3 243.6h0M961.7 242.8h0M868.7 248.2h0M877.2 247.8h0M883.3 247.6h0M895.4 246.5h0M901.4 246.6h0M909.1 247.4h0M918.2 247.2h0M926.6 246.9h0M933.3 246.2h0M943.5 246.0h0M950.8 246.9h0M956.1 245.7h0M964.9 246.8h0M874.0 251.7h0M884.9 249.5h0M893.1 251.6h0M901.0 250.2h0M908.8 250.7h0M915.6 251.0h0M921.5 251.0h0M928.7 250.1h0M937.9 250.2h0M944.6 250.0h0M949.5 249.8h0M957.0 251.1h0M965.6 251.3h0M877.9 254.9h0M888.3 252.3h0M893.5 252.4h0M900.1 253.3h0M915.9 253.7h0M921.3 253.1h0M928.9 252.7h0M936.6 255.2h0M944.4 253.3h0M951.1 253.2h0M957.2 252.3h0M963.3 253.3h0M868.9 255.8h0M877.4 257.6h0M883.4 257.3h0M891.3 258.5h0M900.8 256.8h0M909.8 255.9h0M914.1 257.0h0M923.5 256.9h0M930.3 258.5h0M943.2 257.2h0M956.8 257.2h0M965.5 257.3h0M869.0 261.9h0M877.7 260.7h0M884.5 260.4h0M890.1 261.1h0M896.8 260.0h0M905.8 260.3h0M911.0 261.3h0M918.6 261.3h0M926.6 259.4h0M933.3 260.7h0M940.2 260.9h0M946.2 261.6h0M956.3 259.7h0M964.2 261.8h0M869.2 264.9h0M879.3 264.2h0M889.6 263.3h0M900.7 264.4h0M910.0 262.8h0M916.1 265.3h0M926.9 263.1h0M934.1 264.4h0M939.0 263.9h0M951.0 265.8h0M957.2 264.6h0M967.2 263.2h0M875.1 268.8h0M885.1 266.6h0M895.4 266.4h0M902.3 269.4h0M909.0 269.4h0M915.1 267.2h0M926.2 269.4h0M933.3 268.8h0M943.6 268.0h0M949.0 268.4h0M956.2 267.6h0M965.3 266.7h0M870.7 270.3h0M876.2 272.3h0M886.7 272.3h0M893.2 271.1h0M902.4 271.3h0M907.6 271.9h0M914.7 270.8h0M923.3 272.6h0M928.8 270.2h0M935.2 271.3h0M944.7 272.3h0M949.0 272.4h0M874.8 273.8h0M881.4 273.6h0M889.0 274.2h0M897.4 273.9h0M904.3 275.1h0M912.2 275.7h0M918.8 275.4h0M926.8 273.7h0M937.8 276.4h0M944.6 274.8h0M949.4 275.7h0M957.4 274.0h0M964.7 274.4h0M868.8 276.9h0M877.5 279.8h0M885.6 277.1h0M890.6 278.4h0M898.8 278.9h0M905.2 277.6h0M912.1 279.9h0M918.8 278.4h0M924.6 279.0h0M932.8 277.9h0M938.4 279.6h0M947.9 279.7h0M953.2 279.6h0M960.4 277.3h0M969.0 279.7h0M873.9 282.3h0M881.1 280.6h0M888.8 282.0h0M894.1 281.3h0M900.5 282.3h0M912.1 283.5h0M919.7 282.8h0M930.4 282.3h0M936.0 281.2h0M942.6 280.7h0M949.6 281.3h0M956.8 282.2h0M968.1 283.5h0M874.5 286.1h0M879.6 284.8h0M889.1 284.3h0M894.2 284.7h0M902.7 284.0h0M908.9 285.3h0M914.2 284.1h0M922.2 286.9h0M931.4 286.8h0M940.8 285.0h0M947.6 285.5h0M952.4 284.2h0M964.0 285.9h0M871.6 288.9h0M880.5 288.9h0M886.1 287.5h0M893.6 287.8h0M906.0 288.4h0M911.2 289.4h0M923.0 288.2h0M930.2 289.4h0M937.9 288.6h0M942.5 289.6h0M961.1 288.5h0M966.8 287.9h0M874.8 293.0h0M880.6 293.0h0M888.7 292.2h0M895.8 291.6h0M900.0 292.7h0M907.8 291.4h0M915.1 291.5h0M923.0 292.1h0M929.3 292.7h0M948.2 294.0h0M954.7 291.9h0M959.3 292.3h0M969.2 294.0h0M872.6 294.5h0M881.0 295.7h0M888.7 297.4h0M894.8 295.3h0M900.8 294.7h0M911.4 294.6h0M919.7 297.6h0M926.7 297.0h0M931.6 295.8h0M939.9 296.4h0M947.8 295.3h0M955.4 295.8h0M960.2 297.6h0M967.1 297.5h0M874.2 299.6h0M879.3 300.1h0M890.1 300.8h0M898.0 299.1h0M904.3 300.9h0M911.7 299.3h0M917.6 299.8h0M924.5 300.9h0M933.1 299.0h0M938.6 298.1h0M945.8 300.1h0M953.4 300.5h0M961.7 299.0h0M967.7 298.6h0M874.9 302.0h0M881.7 302.0h0M886.6 302.2h0M896.6 301.8h0M903.7 303.4h0M911.6 303.4h0M925.4 301.7h0M933.0 302.8h0M940.7 303.6h0M946.9 303.5h0M958.0 301.8h0M963.3 303.4h0M869.6 308.0h0M876.2 307.3h0M882.8 308.1h0M895.2 307.0h0M902.1 305.4h0M908.1 306.4h0M920.2 305.5h0M927.1 305.3h0M932.1 306.1h0M939.4 307.5h0M947.7 306.2h0M959.4 306.8h0M968.0 307.0h0" stroke="#2444d8" stroke-opacity="0.9" stroke-width="2.6" stroke-linecap="round" filter="url(#nb)"/>
<rect x="866.5" y="232.4" width="105" height="78" filter="url(#go2)"/>
<rect x="950" y="305.1" width="18" height="2.2" fill="#fff"/>
<rect x="646.5" y="340.3" width="105" height="78" filter="url(#bff3)"/>
<path d="M715.6 400.9h0M653.7 370.8h0M735.5 364.6h0M653.7 358.6h0M721.3 352.9h0M717.7 397.8h0M684.9 379.2h0M745.3 391.0h0M668.3 415.2h0M657.5 366.3h0M658.7 386.3h0M734.5 379.2h0M741.6 376.3h0M658.9 404.2h0M695.8 360.4h0M736.2 364.5h0M716.9 391.0h0M725.5 392.0h0" stroke="#555" stroke-opacity="0.55" stroke-width="1.5" stroke-linecap="round"/>
<path d="M712.9 408.4h0M729.6 394.4h0M653.3 365.5h0M655.4 393.8h0M689.5 405.8h0M738.5 351.3h0M730.9 367.8h0M718.0 375.4h0M736.3 392.1h0M694.7 396.5h0M734.0 410.8h0M662.0 368.0h0M716.2 409.0h0M724.9 359.5h0M693.3 400.4h0M715.1 347.9h0M735.9 353.5h0M658.3 347.9h0M655.1 354.6h0M709.2 357.4h0M670.3 385.0h0M713.5 413.7h0M729.5 376.8h0M704.6 345.0h0M699.7 396.4h0M650.5 413.3h0M723.3 379.3h0M736.4 395.3h0M739.2 398.3h0M735.0 366.2h0M744.8 345.1h0M716.6 356.8h0M714.8 349.1h0M708.5 385.5h0M729.2 375.5h0M720.1 368.7h0M705.6 361.1h0M660.7 376.8h0M687.9 359.4h0M739.9 379.4h0M654.4 364.4h0M712.1 345.8h0M650.3 366.7h0M727.0 397.4h0M697.5 348.2h0M652.1 414.7h0M688.9 354.3h0M658.3 367.0h0M650.4 413.0h0M715.8 400.1h0M723.6 388.0h0M725.8 344.0h0M705.1 343.5h0M718.1 379.3h0M649.5 358.6h0M723.0 369.6h0M743.3 346.0h0M693.8 344.1h0M718.7 393.6h0M749.1 395.4h0M687.7 382.7h0M723.3 402.2h0M709.1 384.4h0M654.8 389.9h0M673.5 408.8h0M745.1 353.9h0M708.5 372.3h0M655.1 368.0h0M683.5 342.5h0M731.8 403.6h0M659.5 368.9h0M667.3 409.4h0M661.1 371.1h0M739.7 359.6h0M672.8 367.5h0M727.9 413.9h0M664.5 379.9h0M719.1 351.3h0M681.6 367.6h0M658.7 361.5h0M733.8 372.9h0M708.9 378.7h0M746.4 354.7h0M665.7 352.0h0M687.0 372.0h0M740.1 352.7h0M696.0 389.1h0M652.3 369.5h0M745.8 355.8h0M744.9 409.9h0M744.4 386.6h0M705.7 416.0h0M666.3 345.4h0M744.0 407.3h0M694.1 393.6h0M681.7 368.6h0M697.3 346.3h0M655.3 376.0h0M723.1 409.2h0M679.9 374.4h0M716.7 393.1h0M711.5 371.8h0M666.8 380.3h0M667.3 402.9h0M748.1 351.3h0M657.9 362.8h0M685.1 378.8h0M734.5 362.1h0M698.1 368.2h0M749.2 377.1h0M662.9 353.9h0M735.2 352.8h0M655.2 348.0h0M649.8 393.9h0M673.1 393.2h0M701.6 385.4h0M682.2 396.3h0M702.7 375.9h0M678.3 410.6h0M734.0 393.4h0" stroke="#e8e8e8" stroke-opacity="0.35" stroke-width="1.6" stroke-linecap="round"/>
<rect x="730" y="413" width="18" height="2.2" fill="#fff"/>
<rect x="756.5" y="340.3" width="105" height="78" fill="#020602"/>
<circle cx="818" cy="375.3" r="1.4" fill="#1a5a1a"/>
<rect x="840" y="413" width="18" height="2.2" fill="#fff"/>
<rect x="866.5" y="340.3" width="105" height="78" fill="#01062a"/>
<path d="M874.1 344.6h0M882.6 343.4h0M890.6 344.5h0M899.8 345.2h0M911.6 345.5h0M921.4 346.1h0M929.5 343.7h0M937.9 345.4h0M946.2 344.2h0M953.8 342.5h0M961.4 342.9h0M870.5 349.1h0M880.6 349.3h0M887.1 349.1h0M896.0 347.7h0M904.6 348.1h0M914.3 346.8h0M930.2 349.1h0M936.7 346.9h0M946.5 348.1h0M956.6 348.2h0M870.9 352.9h0M881.5 351.7h0M892.4 353.2h0M901.6 351.2h0M909.1 352.5h0M919.8 352.2h0M929.7 352.6h0M938.1 353.6h0M947.2 351.7h0M954.5 352.5h0M963.9 354.1h0M874.6 356.1h0M886.9 356.3h0M896.9 358.4h0M905.8 356.5h0M914.5 354.9h0M922.4 357.8h0M928.2 358.1h0M937.1 357.1h0M945.2 357.8h0M956.3 356.2h0M963.6 355.4h0M871.4 362.4h0M883.9 362.4h0M892.2 361.2h0M899.3 361.6h0M909.2 362.0h0M915.7 359.8h0M929.4 360.7h0M937.1 360.9h0M946.2 360.7h0M955.7 362.4h0M962.9 360.2h0M878.3 365.8h0M887.5 366.8h0M896.1 364.2h0M902.8 366.0h0M913.6 366.3h0M925.2 364.0h0M934.3 364.6h0M943.4 366.1h0M950.1 365.0h0M960.6 363.7h0M968.9 365.8h0M883.2 369.6h0M901.9 370.1h0M913.6 368.3h0M921.3 368.3h0M928.8 370.3h0M939.8 368.0h0M947.8 368.5h0M955.1 370.8h0M961.5 370.0h0M873.9 371.5h0M884.4 375.0h0M891.8 373.2h0M899.0 372.3h0M908.0 373.8h0M922.1 374.6h0M934.9 371.4h0M943.0 373.5h0M950.0 373.3h0M957.6 374.4h0M871.6 378.5h0M877.8 376.4h0M885.6 378.8h0M897.1 376.7h0M904.7 377.0h0M912.7 377.7h0M933.5 376.3h0M946.1 376.3h0M955.4 378.7h0M964.4 376.1h0M870.2 382.0h0M879.1 380.9h0M887.9 382.4h0M895.2 379.5h0M902.8 380.7h0M914.5 380.2h0M921.7 382.0h0M934.2 381.2h0M946.8 381.1h0M956.0 380.2h0M961.8 380.3h0M871.0 387.2h0M877.8 385.1h0M885.9 386.9h0M896.9 386.6h0M902.9 386.7h0M914.5 385.4h0M920.2 384.7h0M931.1 386.6h0M939.0 385.3h0M944.9 385.4h0M954.3 386.1h0M963.0 385.3h0M870.9 390.8h0M877.7 390.0h0M886.1 389.1h0M895.1 389.8h0M904.6 387.9h0M917.4 388.0h0M925.5 390.5h0M931.9 390.6h0M947.4 388.8h0M955.5 390.6h0M964.8 389.9h0M870.8 394.1h0M880.7 393.5h0M886.7 392.0h0M894.2 395.2h0M906.1 394.5h0M911.7 393.6h0M920.8 392.1h0M929.3 393.0h0M941.1 393.5h0M948.8 392.5h0M959.5 392.3h0M965.6 395.4h0M874.6 397.5h0M881.4 399.0h0M892.8 396.6h0M904.1 399.6h0M912.3 396.8h0M919.8 399.3h0M930.7 397.9h0M939.2 398.2h0M947.5 396.7h0M957.4 398.2h0M966.4 399.1h0M875.4 401.3h0M881.9 402.6h0M892.1 403.1h0M898.2 401.5h0M907.4 403.6h0M920.8 400.4h0M927.6 401.4h0M946.8 402.8h0M954.6 402.2h0M962.0 400.8h0M872.5 407.4h0M878.4 407.8h0M886.3 407.8h0M894.8 405.2h0M907.7 404.5h0M916.0 406.7h0M923.6 406.1h0M933.0 405.3h0M940.5 405.7h0M948.8 407.7h0M960.2 407.1h0M875.8 411.1h0M882.7 410.1h0M893.5 408.6h0M898.6 410.8h0M911.8 411.5h0M919.4 410.6h0M929.4 411.3h0M938.5 410.2h0M948.0 411.6h0M954.3 410.9h0M967.3 409.3h0M874.3 413.3h0M881.7 413.4h0M890.1 413.4h0M901.8 414.5h0M906.8 415.3h0M916.0 415.8h0M927.1 415.5h0M932.9 413.2h0M940.5 412.8h0M954.3 412.5h0M964.6 416.0h0" stroke="#1830b4" stroke-opacity="0.85" stroke-width="2.7" stroke-linecap="round" filter="url(#nb)"/>
<path d="M870.9 344.7h0M878.8 344.2h0M887.9 343.9h0M896.9 342.8h0M904.9 344.5h0M916.9 345.5h0M925.3 344.3h0M935.3 345.8h0M943.0 344.3h0M950.0 343.0h0M958.6 345.9h0M969.1 342.6h0M873.9 350.3h0M883.7 349.5h0M892.3 347.4h0M898.4 347.3h0M908.7 347.5h0M919.4 348.3h0M934.1 346.6h0M942.8 349.8h0M949.0 349.2h0M964.1 350.2h0M880.0 353.3h0M888.6 352.2h0M897.5 351.3h0M906.0 354.1h0M911.7 350.9h0M926.5 351.2h0M933.4 354.3h0M942.0 350.7h0M951.2 352.4h0M957.1 353.1h0M871.8 356.1h0M882.0 357.0h0M891.5 355.4h0M901.1 355.3h0M908.0 355.0h0M915.8 355.9h0M925.5 356.2h0M932.9 355.6h0M942.5 356.2h0M949.0 356.6h0M959.7 356.4h0M967.6 356.0h0M875.5 361.3h0M886.3 360.5h0M896.7 360.2h0M905.9 362.3h0M911.5 359.7h0M927.0 362.6h0M934.1 360.6h0M940.3 361.2h0M948.9 362.0h0M958.1 359.1h0M874.7 366.1h0M883.5 363.9h0M892.2 363.6h0M901.0 364.3h0M908.2 363.1h0M921.0 366.3h0M929.6 366.0h0M939.5 366.3h0M945.0 366.4h0M952.9 363.8h0M964.2 363.4h0M877.2 369.7h0M893.4 368.8h0M903.7 369.7h0M917.1 370.4h0M925.3 369.7h0M934.7 367.6h0M942.9 369.0h0M951.2 370.8h0M958.6 369.6h0M871.3 374.0h0M880.5 372.7h0M885.8 375.0h0M895.0 373.8h0M903.9 372.8h0M917.5 372.0h0M923.9 374.1h0M937.8 372.1h0M945.1 372.9h0M954.6 372.4h0M965.0 372.0h0M874.5 377.3h0M882.8 379.0h0M891.6 376.1h0M900.0 378.2h0M907.9 376.3h0M925.9 376.1h0M942.7 376.1h0M951.2 377.4h0M957.8 376.0h0M969.0 378.9h0M874.2 381.4h0M882.3 381.5h0M893.1 382.2h0M898.9 380.3h0M909.1 379.9h0M918.5 381.8h0M923.6 381.6h0M936.6 383.0h0M952.2 379.7h0M958.2 382.8h0M968.3 383.2h0M873.7 385.1h0M882.7 385.2h0M890.6 385.3h0M899.8 385.6h0M908.4 384.1h0M918.1 383.7h0M925.7 384.6h0M933.5 386.6h0M943.6 386.0h0M950.4 386.4h0M958.5 384.7h0M966.5 384.6h0M873.8 388.4h0M884.2 391.3h0M890.9 388.7h0M900.6 389.5h0M911.2 388.7h0M922.3 391.2h0M928.7 389.6h0M942.1 389.0h0M949.7 390.1h0M960.1 391.1h0M968.8 388.5h0M874.6 395.4h0M882.3 394.4h0M893.2 393.3h0M898.2 391.9h0M908.2 393.3h0M916.0 393.8h0M923.9 391.9h0M936.7 392.0h0M946.1 391.8h0M956.1 393.0h0M962.6 395.4h0M870.2 396.1h0M879.5 399.0h0M886.5 398.4h0M901.2 396.3h0M908.5 398.8h0M918.4 398.8h0M926.3 396.5h0M935.6 397.2h0M940.7 397.7h0M948.9 397.0h0M964.7 399.6h0M869.0 403.5h0M880.2 401.6h0M888.8 400.6h0M894.3 400.1h0M904.3 400.2h0M913.4 402.6h0M925.7 401.8h0M938.0 401.0h0M951.2 402.7h0M957.1 403.3h0M967.9 401.4h0M874.1 406.6h0M885.1 404.3h0M892.3 404.8h0M903.0 404.6h0M913.5 404.9h0M922.5 407.6h0M928.0 407.7h0M938.4 405.0h0M944.9 407.1h0M955.3 404.6h0M968.0 404.6h0M878.5 408.8h0M886.6 410.7h0M894.1 409.3h0M903.8 408.3h0M917.3 408.8h0M926.2 409.5h0M932.6 411.5h0M940.5 410.7h0M948.9 408.8h0M959.1 408.6h0M871.1 414.8h0M877.9 412.9h0M886.1 416.0h0M897.2 413.1h0M902.5 414.1h0M913.4 415.4h0M919.8 414.2h0M928.6 412.8h0M939.0 414.5h0M949.5 412.9h0M959.2 414.1h0M965.8 414.4h0" stroke="#2444d8" stroke-opacity="0.9" stroke-width="2.6" stroke-linecap="round" filter="url(#nb)"/>
<circle cx="925.8" cy="375.3" r="2.2" fill="#2a8a4a"/>
<rect x="950" y="413" width="18" height="2.2" fill="#fff"/>
<rect x="646.5" y="423.7" width="105" height="78" filter="url(#bff4)"/>
<path d="M669.4 471.2h0M729.9 493.7h0M692.9 487.5h0M656.1 467.8h0M703.3 483.8h0M741.8 489.7h0M735.9 463.6h0M672.0 471.5h0M690.8 451.7h0M697.2 460.6h0M669.1 444.7h0M666.2 471.8h0M728.1 455.8h0M708.3 463.7h0M670.0 451.7h0M709.4 459.9h0M698.4 484.9h0M716.7 447.7h0" stroke="#555" stroke-opacity="0.55" stroke-width="1.5" stroke-linecap="round"/>
<path d="M652.7 430.0h0M681.0 467.1h0M703.2 472.6h0M745.9 470.2h0M741.6 481.8h0M698.0 491.6h0M678.8 472.8h0M662.3 471.4h0M743.6 451.9h0M721.9 467.1h0M662.6 460.0h0M653.0 435.3h0M711.2 494.9h0M699.0 441.8h0M749.4 448.9h0M692.6 498.0h0M741.2 494.4h0M722.8 459.1h0M745.1 447.8h0M692.8 440.0h0M734.4 459.3h0M748.7 457.2h0M682.0 436.5h0M676.8 426.2h0M723.9 472.1h0M648.9 435.6h0M736.3 472.1h0M685.7 473.6h0M660.9 441.8h0M689.5 499.2h0M668.8 484.4h0M741.4 451.2h0M739.7 481.0h0M685.3 438.4h0M733.9 495.9h0M656.1 429.8h0M730.6 478.1h0M718.0 466.5h0M731.2 439.2h0M700.1 492.2h0M723.0 431.0h0M736.9 460.4h0M673.0 458.2h0M675.9 460.6h0M741.2 490.5h0M742.1 458.7h0M699.7 454.0h0M717.5 457.8h0M743.3 438.6h0M716.0 444.6h0M698.2 450.8h0M649.4 496.4h0M657.7 458.0h0M663.7 481.3h0M689.4 459.8h0M676.1 484.1h0M707.9 490.4h0M697.1 472.1h0M660.1 462.7h0M675.0 482.9h0M712.7 459.3h0M739.7 495.5h0M686.0 484.6h0M672.7 434.6h0M698.4 441.5h0M718.1 487.0h0M740.4 499.4h0M714.1 442.9h0M703.0 459.1h0M681.8 436.4h0M660.2 493.4h0M694.4 474.4h0M722.6 476.1h0M664.1 454.7h0M676.4 455.7h0M724.7 434.1h0M678.9 474.1h0M715.6 436.4h0M721.1 468.7h0M693.3 469.6h0M730.8 463.6h0M749.4 435.9h0M704.0 436.2h0M726.6 498.1h0M676.3 446.5h0M748.7 464.4h0M702.2 487.4h0M681.0 451.9h0M679.2 436.8h0M687.2 493.7h0M681.0 489.7h0M672.8 428.4h0M689.3 425.7h0M654.0 497.8h0M691.9 430.3h0M735.1 459.1h0M730.3 481.5h0M708.2 466.7h0M675.0 441.7h0M658.5 498.8h0M724.5 497.7h0M739.4 452.4h0M695.2 461.0h0M668.4 455.1h0M748.5 499.3h0M660.4 472.3h0M747.4 467.7h0M743.3 496.5h0M649.2 441.0h0M698.5 472.2h0M661.4 471.1h0M665.9 439.8h0M698.6 481.1h0M675.4 494.0h0M668.8 428.1h0M662.2 451.6h0M705.9 465.4h0M690.7 497.6h0M713.8 486.8h0M703.4 436.6h0" stroke="#e8e8e8" stroke-opacity="0.35" stroke-width="1.6" stroke-linecap="round"/>
<rect x="730" y="496.4" width="18" height="2.2" fill="#fff"/>
<rect x="756.5" y="423.7" width="105" height="78" fill="#020602"/>
<g filter="url(#nb)" opacity="0.9">
<path d="M765.8 440.2 L762.9 442.7 L761.0 445.7 L756.8 443.8 L754.6 440.1 L754.6 434.9 L758.5 431.5 L761.4 432.4 L764.9 435.2Z" fill="#145a16" stroke="#38a838" stroke-width="1.2" stroke-linejoin="round"/>
<path d="M792.9 444.8 L790.7 446.5 L789.1 447.2 L786.2 447.4 L784.9 445.6 L785.5 443.7 L787.2 442.1 L789.3 441.5 L791.2 443.3Z" fill="#145a16" stroke="#38a838" stroke-width="1.2" stroke-linejoin="round"/>
<path d="M811.9 444.8 L810.9 447.4 L806.8 450.2 L802.3 447.4 L798.9 444.5 L800.9 442.1 L803.5 439.7 L809.3 439.7 L813.3 440.8Z" fill="#145a16" stroke="#38a838" stroke-width="1.2" stroke-linejoin="round"/>
<path d="M820.3 444.0 L818.2 445.9 L816.3 447.7 L812.2 446.2 L810.8 444.0 L810.5 439.6 L814.4 438.2 L817.5 437.1 L820.0 440.4Z" fill="#145a16" stroke="#38a838" stroke-width="1.2" stroke-linejoin="round"/>
<path d="M841.4 446.4 L839.8 450.5 L837.0 452.8 L833.1 452.5 L830.3 447.3 L832.3 441.4 L834.7 440.4 L839.1 439.0 L840.8 441.3Z" fill="#145a16" stroke="#38a838" stroke-width="1.2" stroke-linejoin="round"/>
<path d="M829.3 453.7 L826.9 455.8 L825.8 456.8 L822.9 456.0 L821.3 453.7 L821.8 451.4 L823.7 450.0 L826.0 450.5 L827.7 451.7Z" fill="#145a16" stroke="#38a838" stroke-width="1.2" stroke-linejoin="round"/>
<path d="M815.3 457.7 L813.0 461.8 L810.4 463.1 L809.0 461.4 L806.2 459.1 L806.7 454.8 L809.8 452.4 L811.9 452.7 L813.8 455.9Z" fill="#145a16" stroke="#38a838" stroke-width="1.2" stroke-linejoin="round"/>
<path d="M781.1 462.9 L780.3 465.4 L778.1 465.9 L776.2 466.4 L774.8 463.1 L775.3 461.3 L777.0 459.4 L779.6 458.9 L780.5 460.6Z" fill="#145a16" stroke="#38a838" stroke-width="1.2" stroke-linejoin="round"/>
<path d="M789.0 472.0 L787.2 473.8 L784.7 476.0 L782.9 474.0 L780.8 471.8 L780.6 468.7 L783.9 466.6 L785.5 467.1 L788.7 468.1Z" fill="#145a16" stroke="#38a838" stroke-width="1.2" stroke-linejoin="round"/>
<path d="M790.6 479.7 L790.1 482.0 L786.1 483.4 L782.4 482.1 L780.8 480.5 L782.8 476.2 L784.8 474.3 L789.0 474.1 L791.9 476.5Z" fill="#145a16" stroke="#38a838" stroke-width="1.2" stroke-linejoin="round"/>
<path d="M833.6 470.9 L830.3 474.0 L827.7 474.6 L824.3 473.6 L822.7 471.2 L823.3 468.1 L826.3 465.2 L829.6 464.6 L833.2 467.8Z" fill="#145a16" stroke="#38a838" stroke-width="1.2" stroke-linejoin="round"/>
<path d="M840.1 472.3 L838.4 474.8 L835.9 475.1 L834.1 474.3 L832.8 472.5 L833.3 470.4 L834.7 468.6 L837.3 469.5 L839.2 470.4Z" fill="#145a16" stroke="#38a838" stroke-width="1.2" stroke-linejoin="round"/>
<path d="M818.2 485.5 L817.3 488.2 L814.1 491.0 L810.1 490.0 L807.6 485.6 L808.3 480.8 L810.9 479.5 L814.7 479.6 L816.8 482.2Z" fill="#145a16" stroke="#38a838" stroke-width="1.2" stroke-linejoin="round"/>
<path d="M806.5 493.5 L806.1 495.8 L803.4 496.2 L801.9 496.3 L800.4 493.7 L801.6 491.9 L802.0 489.7 L804.2 490.2 L805.5 492.1Z" fill="#145a16" stroke="#38a838" stroke-width="1.2" stroke-linejoin="round"/>
<path d="M765.2 496.8 L764.5 497.8 L762.6 498.9 L759.7 498.8 L759.2 496.8 L759.5 495.3 L761.5 493.9 L763.1 493.4 L765.6 495.0Z" fill="#145a16" stroke="#38a838" stroke-width="1.2" stroke-linejoin="round"/>
<path d="M793.6 499.5 L792.4 501.3 L789.8 501.7 L787.8 501.0 L786.2 500.1 L787.3 497.8 L789.1 497.0 L791.3 496.0 L792.4 497.5Z" fill="#145a16" stroke="#38a838" stroke-width="1.2" stroke-linejoin="round"/>
<path d="M862.3 446.9 L860.3 450.1 L858.9 450.3 L856.6 450.0 L854.6 447.3 L855.9 444.6 L857.7 442.0 L859.7 442.6 L861.8 444.5Z" fill="#145a16" stroke="#38a838" stroke-width="1.2" stroke-linejoin="round"/>
<path d="M840.4 429.9 L839.5 433.2 L837.0 433.1 L835.3 432.4 L834.1 430.4 L834.4 428.3 L835.8 426.0 L837.5 426.3 L840.6 427.5Z" fill="#145a16" stroke="#38a838" stroke-width="1.2" stroke-linejoin="round"/>
<path d="M823.9 497.8 L823.1 499.1 L821.4 500.0 L819.1 499.6 L818.0 498.1 L818.6 496.3 L820.1 494.8 L821.7 495.3 L823.9 496.1Z" fill="#145a16" stroke="#38a838" stroke-width="1.2" stroke-linejoin="round"/>
<path d="M859.9 429.2 L858.4 430.8 L856.7 431.6 L855.2 431.1 L854.0 429.0 L854.1 427.4 L854.9 425.0 L857.3 424.8 L858.8 426.6Z" fill="#145a16" stroke="#38a838" stroke-width="1.2" stroke-linejoin="round"/>
<path d="M843.6 438.1 L843.5 440.5 L841.0 441.3 L838.4 439.8 L837.9 438.6 L837.9 436.5 L839.3 435.3 L842.0 434.5 L842.8 436.4Z" fill="#145a16" stroke="#38a838" stroke-width="1.2" stroke-linejoin="round"/>
<path d="M777.0 444.1 L775.5 446.0 L773.9 446.2 L771.7 445.4 L769.7 444.3 L770.3 442.2 L772.6 440.4 L774.4 440.4 L776.5 442.3Z" fill="#145a16" stroke="#38a838" stroke-width="1.2" stroke-linejoin="round"/>
</g>
<rect x="840" y="496.4" width="18" height="2.2" fill="#fff"/>
<rect x="866.5" y="423.7" width="105" height="78" fill="#01062a"/>
<path d="M872.8 428.9h0M883.0 427.0h0M890.6 428.2h0M902.4 427.1h0M908.1 428.3h0M921.8 426.0h0M932.1 426.9h0M948.8 427.1h0M961.0 426.6h0M967.6 428.2h0M872.9 432.4h0M883.0 430.3h0M895.2 431.4h0M901.4 430.3h0M908.0 429.6h0M917.3 431.0h0M925.9 431.8h0M932.2 432.4h0M941.9 430.2h0M948.8 432.1h0M956.1 432.9h0M962.6 430.0h0M872.2 434.9h0M877.4 434.2h0M888.7 435.2h0M897.7 434.2h0M905.8 435.0h0M917.4 435.4h0M927.5 436.1h0M937.1 436.2h0M951.7 435.3h0M959.1 434.3h0M871.1 438.8h0M882.7 439.0h0M888.9 439.8h0M897.4 439.5h0M904.4 440.0h0M913.5 437.6h0M919.9 439.7h0M929.3 439.1h0M935.2 439.1h0M943.6 437.6h0M961.1 438.4h0M966.0 437.6h0M875.0 443.0h0M882.5 440.8h0M890.7 442.5h0M896.7 441.3h0M908.9 444.0h0M922.1 442.0h0M934.3 441.7h0M947.2 442.3h0M957.5 440.7h0M963.6 441.9h0M872.8 446.1h0M883.8 445.4h0M890.2 445.7h0M898.9 447.0h0M908.1 447.1h0M917.7 445.5h0M924.4 445.3h0M936.8 445.2h0M947.6 445.1h0M957.4 446.7h0M962.4 446.2h0M871.7 448.8h0M879.7 448.8h0M885.7 450.9h0M895.5 450.6h0M899.8 448.7h0M908.7 450.0h0M916.9 448.6h0M927.6 449.7h0M936.1 450.8h0M943.6 449.7h0M954.2 448.7h0M965.1 450.6h0M870.7 453.6h0M877.2 452.8h0M887.7 452.6h0M895.4 454.4h0M905.8 454.2h0M914.6 453.3h0M921.9 452.7h0M927.2 452.6h0M935.3 453.4h0M944.8 453.4h0M952.8 453.1h0M960.5 455.0h0M968.1 453.7h0M875.2 458.1h0M883.0 457.2h0M890.3 458.2h0M897.2 456.7h0M909.4 456.7h0M925.4 457.6h0M937.1 458.5h0M944.4 457.5h0M953.0 455.5h0M960.2 457.5h0M968.4 455.9h0M873.7 461.5h0M880.7 460.6h0M892.8 459.3h0M900.5 460.5h0M908.6 460.7h0M918.1 460.2h0M927.8 459.7h0M937.0 459.9h0M945.2 461.7h0M952.4 460.7h0M960.9 459.3h0M969.2 460.8h0M872.8 463.9h0M883.5 464.2h0M888.3 463.6h0M897.1 463.8h0M906.2 464.5h0M912.9 463.3h0M920.8 463.3h0M932.6 463.0h0M939.2 465.4h0M949.5 465.4h0M955.3 466.1h0M963.4 463.4h0M868.9 468.4h0M878.7 468.7h0M885.6 468.1h0M892.2 468.3h0M902.0 467.8h0M909.0 469.0h0M918.3 467.2h0M923.1 467.1h0M932.3 469.4h0M941.7 469.2h0M947.6 466.8h0M954.6 468.7h0M963.5 467.0h0M869.4 472.0h0M878.9 471.2h0M885.3 470.5h0M898.5 470.5h0M905.2 472.8h0M915.7 471.0h0M924.7 471.6h0M935.3 471.6h0M945.5 470.9h0M954.6 472.7h0M965.9 471.2h0M874.5 476.5h0M882.0 476.7h0M889.5 475.5h0M898.8 477.0h0M908.1 476.0h0M918.0 475.6h0M924.9 476.2h0M935.5 475.4h0M944.4 476.9h0M960.2 474.6h0M869.3 480.9h0M878.6 479.9h0M886.6 479.6h0M898.0 480.0h0M904.9 478.1h0M913.6 479.6h0M921.0 478.2h0M931.7 478.0h0M943.6 480.5h0M950.4 478.8h0M960.1 480.1h0M969.2 479.4h0M875.9 483.7h0M883.8 482.6h0M889.5 481.5h0M899.1 483.1h0M905.1 483.4h0M912.1 482.6h0M920.9 483.9h0M929.2 482.1h0M938.0 482.0h0M943.4 483.8h0M951.1 483.8h0M958.3 482.1h0M968.1 482.2h0M873.4 485.1h0M881.6 486.8h0M896.1 485.7h0M906.0 485.3h0M913.8 487.5h0M921.0 486.2h0M933.5 486.3h0M940.2 486.3h0M946.9 488.2h0M955.0 485.2h0M963.1 486.2h0M875.5 490.8h0M887.0 490.1h0M893.5 490.8h0M900.1 489.8h0M908.9 490.6h0M917.8 491.3h0M925.8 489.6h0M936.6 491.6h0M944.9 491.1h0M952.0 491.1h0M959.0 490.1h0M967.1 492.0h0M875.6 494.1h0M882.2 495.2h0M890.0 495.0h0M896.1 493.0h0M908.3 492.9h0M917.5 494.4h0M931.6 493.3h0M938.6 492.9h0M947.7 494.1h0M956.1 493.7h0M963.9 492.9h0M871.4 496.4h0M878.1 498.7h0M885.2 496.9h0M895.3 497.9h0M900.0 499.3h0M912.9 496.2h0M922.2 499.4h0M929.7 498.4h0M937.9 498.0h0M945.9 498.6h0M952.9 497.8h0M958.5 497.8h0" stroke="#1830b4" stroke-opacity="0.85" stroke-width="2.7" stroke-linecap="round" filter="url(#nb)"/>
<path d="M869.9 428.9h0M876.5 427.5h0M886.8 428.1h0M894.4 426.9h0M903.7 426.4h0M913.9 426.6h0M923.5 427.6h0M944.1 428.3h0M952.4 428.1h0M964.5 426.6h0M869.1 430.1h0M877.4 431.6h0M891.5 430.8h0M897.7 430.4h0M905.4 429.7h0M913.3 431.1h0M919.4 432.5h0M928.7 431.6h0M937.7 430.7h0M943.3 430.3h0M952.5 429.8h0M960.4 432.2h0M967.2 430.6h0M874.6 436.6h0M887.4 435.1h0M892.2 435.5h0M901.3 434.1h0M913.3 435.0h0M923.4 434.7h0M931.9 434.8h0M949.7 434.3h0M954.2 436.3h0M967.5 435.9h0M878.2 439.0h0M884.9 437.9h0M892.4 440.0h0M902.8 438.6h0M909.6 438.3h0M915.4 439.0h0M925.0 438.8h0M932.2 439.9h0M939.9 438.8h0M948.9 437.5h0M963.8 437.1h0M871.9 441.4h0M878.2 443.1h0M885.8 442.3h0M894.5 441.7h0M900.8 442.8h0M915.6 443.3h0M925.8 441.9h0M945.8 444.0h0M952.7 443.3h0M959.2 441.4h0M871.1 444.4h0M878.7 445.8h0M885.6 446.0h0M894.7 446.0h0M900.4 446.4h0M912.1 445.6h0M920.2 445.0h0M927.0 447.5h0M944.5 444.5h0M950.4 446.7h0M960.3 445.4h0M967.6 446.1h0M873.4 448.8h0M881.1 448.8h0M890.4 450.5h0M896.7 449.8h0M905.9 448.3h0M912.2 449.4h0M920.7 448.9h0M931.3 451.2h0M941.4 451.2h0M949.3 449.7h0M961.4 448.2h0M969.0 449.9h0M874.6 454.6h0M881.0 454.6h0M891.5 454.5h0M901.2 453.3h0M908.1 454.0h0M918.5 452.3h0M923.6 453.6h0M933.4 452.8h0M939.2 453.7h0M947.7 453.4h0M954.5 453.3h0M963.0 454.0h0M868.9 457.1h0M877.5 455.5h0M887.1 457.6h0M892.7 455.6h0M905.7 455.6h0M919.2 457.4h0M932.6 458.6h0M940.5 458.7h0M947.9 457.8h0M955.5 457.2h0M963.6 456.6h0M871.6 461.4h0M877.7 461.9h0M886.3 461.0h0M897.2 462.2h0M906.4 461.8h0M911.7 460.2h0M924.0 460.2h0M932.5 460.0h0M942.1 460.0h0M946.5 459.3h0M955.7 461.1h0M964.9 461.4h0M869.6 463.7h0M878.1 464.0h0M887.5 465.2h0M892.7 464.3h0M902.7 463.7h0M908.6 465.0h0M917.0 463.6h0M927.1 465.8h0M935.1 464.2h0M944.8 464.3h0M952.9 465.4h0M958.4 463.7h0M968.8 464.2h0M875.5 466.7h0M882.7 469.1h0M890.7 469.0h0M897.3 467.5h0M903.8 466.9h0M913.8 467.6h0M921.9 467.5h0M929.2 467.4h0M937.8 468.9h0M944.7 468.1h0M951.8 468.8h0M961.0 469.3h0M968.3 467.0h0M876.0 471.1h0M880.7 472.4h0M889.5 471.7h0M901.3 471.8h0M911.7 471.7h0M922.2 470.8h0M930.2 471.9h0M941.0 472.6h0M953.0 470.5h0M958.6 472.4h0M870.8 475.9h0M879.3 476.9h0M884.6 477.0h0M892.6 477.2h0M905.2 474.5h0M912.5 474.0h0M921.4 476.8h0M928.4 475.8h0M939.8 477.3h0M954.5 475.9h0M967.2 474.7h0M873.5 480.3h0M880.7 478.5h0M893.9 478.3h0M901.8 478.3h0M908.3 478.0h0M915.5 480.0h0M923.1 479.1h0M939.3 479.1h0M949.3 478.1h0M957.7 478.2h0M963.0 480.9h0M870.2 482.1h0M878.5 482.5h0M886.6 483.5h0M893.9 483.8h0M900.8 482.1h0M910.4 484.6h0M916.3 484.4h0M923.1 483.5h0M932.1 482.8h0M941.1 484.2h0M949.4 484.7h0M955.4 482.8h0M964.0 482.2h0M870.5 488.2h0M877.7 488.4h0M893.5 487.3h0M900.2 488.3h0M909.5 488.3h0M918.3 486.9h0M928.6 485.3h0M937.9 486.4h0M945.8 485.6h0M950.6 486.1h0M958.8 486.2h0M968.0 487.5h0M882.7 490.9h0M889.8 490.3h0M898.1 489.0h0M905.8 491.7h0M913.3 489.3h0M920.7 489.8h0M933.4 489.2h0M942.0 489.2h0M946.8 491.6h0M955.9 489.6h0M964.0 491.3h0M871.6 493.6h0M876.7 492.6h0M886.8 495.5h0M892.0 495.2h0M904.4 494.3h0M913.3 494.9h0M929.4 493.7h0M935.7 495.5h0M945.8 493.6h0M952.5 495.0h0M960.8 493.6h0M967.7 492.5h0M876.0 498.7h0M882.0 497.3h0M889.0 498.9h0M898.6 499.3h0M910.1 499.1h0M916.2 496.3h0M925.0 496.4h0M933.8 499.4h0M941.4 497.3h0M948.6 498.7h0M956.9 496.7h0" stroke="#2444d8" stroke-opacity="0.9" stroke-width="2.6" stroke-linecap="round" filter="url(#nb)"/>
<g filter="url(#nb)" opacity="0.95">
<path d="M875.8 440.2 L872.9 442.7 L871.0 445.7 L866.8 443.8 L864.6 440.1 L864.6 434.9 L868.5 431.5 L871.4 432.4 L874.9 435.2Z" fill="#145a16" stroke="#38a838" stroke-width="1.2" stroke-linejoin="round"/>
<path d="M902.9 444.8 L900.7 446.5 L899.1 447.2 L896.2 447.4 L894.9 445.6 L895.5 443.7 L897.2 442.1 L899.3 441.5 L901.2 443.3Z" fill="#145a16" stroke="#38a838" stroke-width="1.2" stroke-linejoin="round"/>
<path d="M921.9 444.8 L920.9 447.4 L916.8 450.2 L912.3 447.4 L908.9 444.5 L910.9 442.1 L913.5 439.7 L919.3 439.7 L923.3 440.8Z" fill="#145a16" stroke="#38a838" stroke-width="1.2" stroke-linejoin="round"/>
<path d="M930.3 444.0 L928.2 445.9 L926.3 447.7 L922.2 446.2 L920.8 444.0 L920.5 439.6 L924.4 438.2 L927.5 437.1 L930.0 440.4Z" fill="#145a16" stroke="#38a838" stroke-width="1.2" stroke-linejoin="round"/>
<path d="M951.4 446.4 L949.8 450.5 L947.0 452.8 L943.1 452.5 L940.3 447.3 L942.3 441.4 L944.7 440.4 L949.1 439.0 L950.8 441.3Z" fill="#145a16" stroke="#38a838" stroke-width="1.2" stroke-linejoin="round"/>
<path d="M939.3 453.7 L936.9 455.8 L935.8 456.8 L932.9 456.0 L931.3 453.7 L931.8 451.4 L933.7 450.0 L936.0 450.5 L937.7 451.7Z" fill="#145a16" stroke="#38a838" stroke-width="1.2" stroke-linejoin="round"/>
<path d="M925.3 457.7 L923.0 461.8 L920.4 463.1 L919.0 461.4 L916.2 459.1 L916.7 454.8 L919.8 452.4 L921.9 452.7 L923.8 455.9Z" fill="#145a16" stroke="#38a838" stroke-width="1.2" stroke-linejoin="round"/>
<path d="M891.1 462.9 L890.3 465.4 L888.1 465.9 L886.2 466.4 L884.8 463.1 L885.3 461.3 L887.0 459.4 L889.6 458.9 L890.5 460.6Z" fill="#145a16" stroke="#38a838" stroke-width="1.2" stroke-linejoin="round"/>
<path d="M899.0 472.0 L897.2 473.8 L894.7 476.0 L892.9 474.0 L890.8 471.8 L890.6 468.7 L893.9 466.6 L895.5 467.1 L898.7 468.1Z" fill="#145a16" stroke="#38a838" stroke-width="1.2" stroke-linejoin="round"/>
<path d="M900.6 479.7 L900.1 482.0 L896.1 483.4 L892.4 482.1 L890.8 480.5 L892.8 476.2 L894.8 474.3 L899.0 474.1 L901.9 476.5Z" fill="#145a16" stroke="#38a838" stroke-width="1.2" stroke-linejoin="round"/>
<path d="M943.6 470.9 L940.3 474.0 L937.7 474.6 L934.3 473.6 L932.7 471.2 L933.3 468.1 L936.3 465.2 L939.6 464.6 L943.2 467.8Z" fill="#145a16" stroke="#38a838" stroke-width="1.2" stroke-linejoin="round"/>
<path d="M950.1 472.3 L948.4 474.8 L945.9 475.1 L944.1 474.3 L942.8 472.5 L943.3 470.4 L944.7 468.6 L947.3 469.5 L949.2 470.4Z" fill="#145a16" stroke="#38a838" stroke-width="1.2" stroke-linejoin="round"/>
<path d="M928.2 485.5 L927.3 488.2 L924.1 491.0 L920.1 490.0 L917.6 485.6 L918.3 480.8 L920.9 479.5 L924.7 479.6 L926.8 482.2Z" fill="#145a16" stroke="#38a838" stroke-width="1.2" stroke-linejoin="round"/>
<path d="M916.5 493.5 L916.1 495.8 L913.4 496.2 L911.9 496.3 L910.4 493.7 L911.6 491.9 L912.0 489.7 L914.2 490.2 L915.5 492.1Z" fill="#145a16" stroke="#38a838" stroke-width="1.2" stroke-linejoin="round"/>
<path d="M875.2 496.8 L874.5 497.8 L872.6 498.9 L869.7 498.8 L869.2 496.8 L869.5 495.3 L871.5 493.9 L873.1 493.4 L875.6 495.0Z" fill="#145a16" stroke="#38a838" stroke-width="1.2" stroke-linejoin="round"/>
<path d="M903.6 499.5 L902.4 501.3 L899.8 501.7 L897.8 501.0 L896.2 500.1 L897.3 497.8 L899.1 497.0 L901.3 496.0 L902.4 497.5Z" fill="#145a16" stroke="#38a838" stroke-width="1.2" stroke-linejoin="round"/>
<path d="M972.3 446.9 L970.3 450.1 L968.9 450.3 L966.6 450.0 L964.6 447.3 L965.9 444.6 L967.7 442.0 L969.7 442.6 L971.8 444.5Z" fill="#145a16" stroke="#38a838" stroke-width="1.2" stroke-linejoin="round"/>
<path d="M950.4 429.9 L949.5 433.2 L947.0 433.1 L945.3 432.4 L944.1 430.4 L944.4 428.3 L945.8 426.0 L947.5 426.3 L950.6 427.5Z" fill="#145a16" stroke="#38a838" stroke-width="1.2" stroke-linejoin="round"/>
<path d="M933.9 497.8 L933.1 499.1 L931.4 500.0 L929.1 499.6 L928.0 498.1 L928.6 496.3 L930.1 494.8 L931.7 495.3 L933.9 496.1Z" fill="#145a16" stroke="#38a838" stroke-width="1.2" stroke-linejoin="round"/>
<path d="M969.9 429.2 L968.4 430.8 L966.7 431.6 L965.2 431.1 L964.0 429.0 L964.1 427.4 L964.9 425.0 L967.3 424.8 L968.8 426.6Z" fill="#145a16" stroke="#38a838" stroke-width="1.2" stroke-linejoin="round"/>
<path d="M953.6 438.1 L953.5 440.5 L951.0 441.3 L948.4 439.8 L947.9 438.6 L947.9 436.5 L949.3 435.3 L952.0 434.5 L952.8 436.4Z" fill="#145a16" stroke="#38a838" stroke-width="1.2" stroke-linejoin="round"/>
<path d="M887.0 444.1 L885.5 446.0 L883.9 446.2 L881.7 445.4 L879.7 444.3 L880.3 442.2 L882.6 440.4 L884.4 440.4 L886.5 442.3Z" fill="#145a16" stroke="#38a838" stroke-width="1.2" stroke-linejoin="round"/>
</g>
<rect x="950" y="496.4" width="18" height="2.2" fill="#fff"/>
<rect x="646.5" y="507" width="105" height="78" filter="url(#bff5)"/>
<path d="M658.8 554.3h0M741.8 530.8h0M703.1 565.7h0M667.6 515.3h0M721.1 556.0h0M741.7 554.0h0M707.0 544.4h0M709.9 510.4h0M693.8 511.7h0M679.5 570.0h0M653.7 567.8h0M748.3 551.5h0M658.7 546.7h0M734.6 551.3h0M670.9 516.2h0M694.2 529.9h0M738.2 574.7h0M738.5 562.3h0" stroke="#555" stroke-opacity="0.55" stroke-width="1.5" stroke-linecap="round"/>
<path d="M681.8 546.4h0M706.9 563.9h0M728.0 582.1h0M740.6 510.3h0M720.9 553.1h0M674.7 545.8h0M734.3 524.0h0M662.3 551.3h0M723.6 535.7h0M690.2 524.5h0M701.8 539.3h0M679.7 513.6h0M690.6 513.4h0M703.0 534.4h0M741.9 582.4h0M737.2 510.3h0M722.3 522.9h0M662.5 510.1h0M737.3 546.7h0M664.8 549.4h0M713.7 538.7h0M713.1 537.6h0M716.7 509.7h0M693.0 567.9h0M650.7 576.1h0M697.0 558.1h0M744.6 510.5h0M669.7 580.1h0M665.2 561.5h0M659.4 547.7h0M658.9 576.2h0M718.2 520.3h0M742.6 545.4h0M655.7 511.3h0M703.6 558.3h0M744.4 553.7h0M697.6 560.4h0M704.5 510.3h0M677.0 551.6h0M717.5 513.0h0M684.9 520.7h0M743.8 549.6h0M732.6 529.3h0M688.3 540.0h0M684.9 573.5h0M649.7 576.4h0M685.2 574.6h0M708.3 526.8h0M712.8 542.0h0M669.5 540.1h0M654.4 562.8h0M653.5 530.4h0M687.2 555.2h0M733.2 570.4h0M733.1 525.8h0M683.5 536.1h0M693.3 581.2h0M682.3 572.1h0M656.4 579.0h0M671.1 580.9h0M710.3 576.6h0M663.1 548.2h0M682.1 528.5h0M649.4 544.4h0M656.4 536.0h0M686.2 558.4h0M677.1 578.7h0M734.1 513.7h0M738.4 580.7h0M678.3 569.1h0M684.4 575.7h0M738.1 545.6h0M657.8 524.6h0M708.9 533.4h0M712.7 575.4h0M650.8 546.6h0M719.8 568.4h0M683.3 538.5h0M730.1 567.9h0M747.3 538.4h0M684.8 537.1h0M711.8 559.8h0M679.9 512.5h0M657.1 514.8h0M679.2 546.2h0M746.4 554.4h0M701.6 578.6h0M655.4 566.1h0M702.8 537.6h0M656.1 527.4h0M746.7 575.8h0M650.5 548.2h0M705.9 571.3h0M672.3 550.6h0M747.9 580.7h0M708.6 541.6h0M682.4 575.6h0M692.8 525.0h0M669.2 541.3h0M683.1 568.8h0M728.2 532.0h0M661.0 510.2h0M675.6 525.3h0M743.2 578.7h0M746.2 565.7h0M747.2 545.1h0M697.4 522.4h0M677.3 540.2h0M684.3 523.7h0M651.2 544.1h0M705.7 553.3h0M670.1 563.8h0M666.4 573.2h0M709.3 548.0h0M729.0 558.9h0M682.6 521.8h0M701.2 520.6h0M725.1 528.9h0M746.9 577.4h0M696.3 563.5h0" stroke="#e8e8e8" stroke-opacity="0.35" stroke-width="1.6" stroke-linecap="round"/>
<rect x="730" y="579.7" width="18" height="2.2" fill="#fff"/>
<rect x="756.5" y="507" width="105" height="78" fill="#020602"/>
<rect x="756.5" y="507" width="105" height="78" filter="url(#gf5)"/>
<rect x="840" y="579.7" width="18" height="2.2" fill="#fff"/>
<rect x="866.5" y="507" width="105" height="78" fill="#01062a"/>
<path d="M872.5 509.4h0M879.6 509.2h0M890.4 510.1h0M905.9 511.8h0M911.4 512.0h0M918.5 510.6h0M925.4 512.0h0M941.3 509.5h0M947.0 511.3h0M956.3 509.6h0M965.0 509.9h0M873.9 514.4h0M880.0 514.9h0M890.8 513.4h0M897.9 515.3h0M906.3 514.5h0M911.0 513.4h0M920.5 515.0h0M936.7 515.0h0M947.6 513.0h0M954.5 514.8h0M959.9 515.2h0M967.7 513.3h0M875.9 517.0h0M885.0 517.0h0M894.8 517.0h0M906.6 517.1h0M913.3 517.5h0M919.9 516.7h0M934.4 518.7h0M940.1 519.2h0M945.3 519.0h0M953.7 516.8h0M959.6 518.1h0M966.9 517.8h0M873.7 521.7h0M880.1 520.7h0M888.8 521.3h0M893.4 519.8h0M902.3 521.8h0M907.5 520.4h0M915.7 521.2h0M922.8 521.7h0M929.5 521.4h0M935.6 521.2h0M943.1 521.7h0M950.6 522.9h0M957.0 520.3h0M964.7 522.1h0M873.3 523.7h0M880.7 524.7h0M891.3 523.3h0M896.6 525.6h0M904.1 524.2h0M916.3 523.8h0M921.4 523.4h0M933.0 525.2h0M940.5 526.1h0M945.5 525.9h0M957.4 525.3h0M962.7 525.5h0M869.3 527.1h0M877.8 529.4h0M884.9 527.3h0M890.9 529.8h0M897.8 528.6h0M907.3 528.0h0M915.1 528.7h0M922.1 526.9h0M930.4 527.1h0M936.0 529.8h0M947.6 529.7h0M953.9 528.0h0M959.9 527.9h0M968.6 526.9h0M873.8 531.9h0M884.3 533.2h0M889.9 530.7h0M897.9 531.7h0M904.3 532.2h0M910.8 530.5h0M921.0 532.4h0M930.1 531.4h0M941.1 530.3h0M948.3 532.7h0M953.4 532.7h0M959.8 533.3h0M969.2 532.6h0M874.6 536.8h0M880.6 533.9h0M886.4 535.8h0M897.5 536.5h0M904.0 535.7h0M914.9 535.3h0M922.9 536.0h0M931.0 533.9h0M937.4 534.0h0M942.0 535.4h0M949.8 535.7h0M956.5 534.9h0M967.2 536.5h0M872.9 537.6h0M881.5 537.4h0M888.3 539.9h0M898.2 538.7h0M911.6 538.4h0M919.0 538.9h0M926.6 538.2h0M934.2 539.2h0M944.2 538.7h0M954.1 539.0h0M962.0 540.3h0M968.7 538.7h0M874.4 543.9h0M880.3 542.7h0M886.7 541.7h0M896.1 541.5h0M900.6 542.7h0M907.2 541.6h0M916.3 543.4h0M927.4 541.3h0M934.1 543.2h0M941.4 541.2h0M951.0 543.9h0M955.9 541.2h0M962.7 542.6h0M870.0 546.6h0M877.6 546.7h0M884.1 545.1h0M899.0 545.1h0M905.9 544.9h0M911.5 546.4h0M919.9 547.0h0M926.2 547.1h0M932.7 545.0h0M940.8 545.4h0M948.9 545.9h0M958.7 547.3h0M963.8 546.2h0M873.6 549.0h0M884.3 549.2h0M891.8 549.7h0M898.8 548.5h0M905.6 549.5h0M912.7 548.1h0M923.8 550.0h0M928.3 550.3h0M937.3 549.7h0M946.4 550.7h0M953.8 548.3h0M959.6 548.1h0M868.8 553.2h0M877.2 553.5h0M887.5 554.5h0M894.5 552.7h0M900.9 552.3h0M912.7 554.3h0M919.7 553.9h0M926.6 553.4h0M933.6 552.0h0M939.7 554.5h0M948.1 552.6h0M954.5 552.8h0M959.8 552.2h0M968.9 554.5h0M873.7 555.8h0M879.5 557.7h0M891.2 556.4h0M897.1 555.4h0M904.3 555.9h0M912.4 557.0h0M918.3 555.5h0M925.2 556.4h0M931.9 556.2h0M938.8 556.9h0M946.8 555.1h0M956.7 557.5h0M964.8 555.1h0M870.5 560.1h0M878.0 559.7h0M884.9 561.4h0M891.3 559.5h0M906.1 560.2h0M912.3 559.2h0M917.5 558.6h0M924.5 560.7h0M935.3 559.7h0M944.6 560.8h0M954.8 559.2h0M961.6 558.9h0M967.7 561.4h0M873.2 565.2h0M882.2 563.1h0M887.3 562.3h0M893.9 564.8h0M901.2 563.9h0M911.8 562.9h0M918.0 564.7h0M924.6 565.2h0M932.8 563.8h0M939.2 562.9h0M946.7 565.1h0M960.4 563.5h0M874.7 565.9h0M881.2 565.9h0M887.6 567.6h0M898.5 567.2h0M912.4 567.2h0M920.2 565.8h0M924.8 567.4h0M933.1 566.3h0M938.9 565.8h0M947.8 567.5h0M953.1 565.7h0M962.2 566.4h0M870.2 571.9h0M897.0 571.3h0M905.7 569.2h0M912.5 571.7h0M917.7 571.4h0M924.4 570.7h0M934.3 571.1h0M941.3 572.1h0M946.6 570.7h0M957.3 569.1h0M963.3 572.0h0M871.3 573.7h0M877.3 575.2h0M887.6 575.4h0M894.8 573.2h0M904.4 575.7h0M912.0 572.7h0M918.7 575.1h0M927.4 573.3h0M931.4 574.1h0M943.0 574.9h0M949.0 574.6h0M957.2 573.2h0M963.8 574.4h0M870.1 577.4h0M877.2 577.7h0M884.3 578.5h0M891.7 577.7h0M898.2 577.1h0M905.5 578.6h0M910.9 576.7h0M920.2 578.0h0M926.6 576.6h0M936.7 577.6h0M942.2 577.6h0M950.7 579.0h0M956.2 576.9h0M962.9 577.2h0M874.5 582.5h0M881.0 579.8h0M888.8 579.7h0M895.1 580.3h0M904.8 579.8h0M913.5 579.8h0M919.2 581.0h0M930.8 582.2h0M941.4 581.1h0M948.2 582.4h0M954.6 581.3h0M960.0 581.5h0" stroke="#1830b4" stroke-opacity="0.85" stroke-width="2.7" stroke-linecap="round" filter="url(#nb)"/>
<path d="M869.5 509.8h0M876.3 511.3h0M888.0 509.3h0M897.1 511.1h0M908.8 509.5h0M915.7 511.6h0M921.5 511.2h0M928.2 510.9h0M944.0 512.0h0M951.8 510.5h0M961.8 510.8h0M968.8 509.5h0M876.0 515.9h0M885.6 514.3h0M895.5 514.4h0M901.8 515.0h0M908.6 513.1h0M914.1 515.4h0M925.0 515.0h0M939.9 513.6h0M949.8 515.1h0M957.2 514.3h0M964.5 515.6h0M870.1 517.5h0M881.4 516.6h0M887.3 518.7h0M897.3 516.4h0M907.7 519.1h0M916.5 517.6h0M928.3 517.0h0M937.1 517.1h0M944.8 516.8h0M951.8 516.3h0M956.0 518.0h0M965.5 517.8h0M871.6 521.6h0M878.1 521.9h0M884.2 522.7h0M890.8 520.5h0M897.8 521.8h0M903.7 521.5h0M913.2 521.6h0M919.4 521.6h0M925.8 519.8h0M934.4 520.6h0M939.9 521.9h0M946.5 522.1h0M954.6 521.3h0M962.3 520.1h0M870.9 526.0h0M876.4 525.6h0M888.4 523.6h0M895.3 526.0h0M903.0 524.3h0M910.8 524.4h0M918.1 523.9h0M931.0 525.3h0M935.6 524.8h0M942.1 523.6h0M953.2 524.9h0M962.2 524.1h0M969.1 523.3h0M873.7 529.3h0M881.8 527.5h0M889.2 527.5h0M895.6 527.7h0M900.1 527.1h0M910.6 528.0h0M918.5 529.2h0M924.9 527.0h0M931.4 528.5h0M938.9 528.9h0M951.3 527.3h0M957.1 529.9h0M963.8 526.9h0M869.3 531.9h0M875.7 533.2h0M888.3 532.1h0M893.9 531.3h0M900.8 532.1h0M907.9 532.5h0M919.5 532.3h0M925.7 531.9h0M933.0 532.1h0M942.0 533.1h0M949.2 532.8h0M957.8 532.8h0M964.4 531.3h0M871.0 535.7h0M876.6 535.1h0M883.6 536.1h0M890.4 536.8h0M902.4 536.5h0M913.1 534.2h0M918.6 535.2h0M925.5 534.5h0M931.4 536.1h0M938.6 534.7h0M947.5 535.7h0M954.8 535.8h0M962.1 535.3h0M870.0 538.6h0M878.0 538.6h0M885.0 539.2h0M890.2 539.4h0M905.9 538.2h0M915.0 538.1h0M921.4 539.4h0M931.0 538.7h0M935.3 539.9h0M945.9 540.0h0M956.9 539.6h0M964.3 540.3h0M871.2 542.2h0M878.0 543.7h0M883.0 541.3h0M890.6 541.6h0M897.0 541.2h0M905.4 541.9h0M911.8 543.1h0M919.6 541.2h0M929.6 541.1h0M937.6 541.2h0M946.1 542.7h0M953.2 541.9h0M960.9 542.8h0M967.7 541.0h0M875.0 544.6h0M881.5 546.8h0M895.0 545.4h0M900.1 546.1h0M907.4 544.6h0M914.4 545.5h0M922.8 546.5h0M929.3 546.0h0M936.0 545.6h0M945.9 545.3h0M954.4 545.0h0M960.6 545.9h0M870.1 548.6h0M879.8 548.6h0M887.8 550.5h0M894.3 549.9h0M901.5 548.5h0M908.7 548.5h0M917.7 549.4h0M926.1 550.9h0M931.8 551.1h0M939.4 551.0h0M949.4 548.1h0M958.5 550.8h0M965.7 549.2h0M874.2 552.4h0M884.2 551.7h0M890.0 552.8h0M897.1 551.8h0M905.3 554.0h0M914.5 552.7h0M921.1 552.2h0M930.6 554.0h0M936.5 552.9h0M942.7 551.7h0M950.2 554.2h0M958.1 554.2h0M965.6 552.8h0M871.0 557.3h0M877.2 557.8h0M884.8 555.6h0M893.3 555.8h0M903.0 557.5h0M908.4 555.1h0M914.7 556.1h0M923.8 557.7h0M929.8 555.4h0M937.6 555.7h0M944.9 555.5h0M952.5 555.2h0M961.8 557.0h0M968.2 557.7h0M874.6 560.5h0M879.4 558.7h0M887.2 560.8h0M899.2 559.8h0M908.6 560.4h0M914.9 558.5h0M923.7 561.4h0M933.1 560.9h0M940.3 561.4h0M950.2 558.8h0M957.5 559.3h0M965.6 560.0h0M869.8 563.6h0M876.0 564.0h0M885.2 563.2h0M892.4 563.4h0M899.3 563.8h0M904.4 563.9h0M916.3 562.9h0M921.2 562.4h0M930.3 564.2h0M936.0 564.8h0M943.1 564.1h0M951.8 564.8h0M870.1 566.1h0M877.1 567.5h0M884.7 568.0h0M895.6 566.4h0M909.7 567.4h0M915.1 566.3h0M923.4 566.3h0M930.0 567.3h0M937.5 567.6h0M943.3 568.0h0M949.1 566.4h0M958.6 568.3h0M964.7 568.6h0M880.6 569.2h0M901.8 570.1h0M908.0 569.4h0M916.8 571.6h0M921.0 570.2h0M930.2 569.7h0M935.8 569.9h0M942.1 569.3h0M953.7 569.3h0M961.5 569.5h0M967.1 571.4h0M875.2 574.0h0M880.0 575.7h0M891.9 572.6h0M901.9 573.0h0M909.2 574.1h0M915.0 574.3h0M921.0 575.5h0M928.9 573.8h0M937.7 573.5h0M947.7 574.6h0M954.2 575.0h0M962.1 572.9h0M969.1 572.9h0M872.6 576.2h0M881.9 577.5h0M886.2 578.9h0M893.4 577.2h0M902.3 578.3h0M909.0 578.6h0M914.8 577.8h0M923.9 576.2h0M928.8 578.6h0M940.2 578.0h0M947.1 576.4h0M952.7 576.4h0M960.5 577.0h0M967.7 579.0h0M876.0 582.3h0M884.8 580.9h0M891.3 581.0h0M898.7 580.9h0M909.6 582.4h0M915.0 582.6h0M924.0 581.2h0M932.6 581.3h0M944.5 581.1h0M950.5 582.7h0M957.8 582.3h0M964.7 580.8h0" stroke="#2444d8" stroke-opacity="0.9" stroke-width="2.6" stroke-linecap="round" filter="url(#nb)"/>
<rect x="866.5" y="507" width="105" height="78" filter="url(#go5)"/>
<rect x="950" y="579.7" width="18" height="2.2" fill="#fff"/>
<rect x="646.5" y="615.3" width="105" height="78" filter="url(#bff6)"/>
<rect x="646.5" y="615.3" width="105" height="78" fill="url(#bfg2)"/>
<path d="M709.6 673.6h0M725.9 667.8h0M748.3 660.3h0M737.8 634.1h0M731.6 641.8h0M722.9 632.4h0M705.1 620.1h0M691.5 618.6h0M738.0 625.1h0M710.2 671.7h0M698.1 648.3h0M731.3 647.9h0M695.7 628.2h0M653.3 625.8h0M687.1 668.9h0M712.6 647.2h0M747.5 667.0h0M699.2 682.1h0" stroke="#555" stroke-opacity="0.55" stroke-width="1.5" stroke-linecap="round"/>
<path d="M700.1 646.2h0M686.2 681.4h0M682.2 656.9h0M722.0 634.0h0M714.3 654.2h0M743.7 637.9h0M711.8 652.3h0M709.2 631.1h0M663.7 672.6h0M677.1 675.6h0M686.0 622.6h0M746.3 631.9h0M734.7 676.1h0M678.9 648.4h0M651.5 643.6h0M664.2 636.4h0M694.4 689.3h0M734.2 670.4h0M712.9 670.6h0M709.5 685.9h0M726.8 645.8h0M711.8 651.6h0M691.7 652.0h0M696.2 657.1h0M710.6 683.8h0M687.5 665.6h0M681.3 664.0h0M711.6 660.9h0M714.7 650.2h0M671.8 647.9h0M654.5 682.7h0M709.6 654.5h0M745.8 640.2h0M740.9 662.7h0M670.2 653.1h0M688.5 663.0h0M719.4 630.8h0M688.4 667.9h0M676.8 670.3h0M695.8 656.1h0M657.8 676.9h0M690.0 672.6h0M702.4 644.0h0M679.0 690.4h0M690.9 640.1h0M679.3 671.3h0M747.9 673.8h0M704.3 669.0h0M714.3 665.8h0M699.2 668.7h0M721.5 671.9h0M674.2 620.8h0M714.6 680.3h0M736.7 623.1h0M685.2 624.2h0M695.2 660.7h0M707.9 668.6h0M749.1 623.7h0M653.6 657.1h0M748.2 682.2h0M655.9 646.9h0M724.3 626.1h0M687.5 648.5h0M690.6 690.9h0M710.2 657.8h0M709.4 622.3h0M749.4 676.1h0M653.7 652.4h0M712.1 666.8h0M710.8 621.1h0M691.6 638.0h0M739.0 680.2h0M688.1 647.6h0M694.3 659.0h0M694.0 687.9h0M724.3 623.9h0M657.4 654.7h0M677.8 658.4h0M713.5 676.2h0M718.9 631.4h0M717.8 619.0h0M740.7 663.0h0M727.1 689.6h0M733.8 629.1h0M681.2 623.7h0M686.1 662.4h0M650.6 636.1h0M729.9 623.4h0M732.9 650.2h0M649.1 681.4h0M698.5 690.4h0M735.6 664.3h0M697.7 658.1h0M745.6 684.7h0M692.1 688.7h0M667.3 652.1h0M704.0 664.8h0M691.9 657.0h0M703.2 689.8h0M685.9 683.2h0M742.3 637.6h0M737.7 651.6h0M676.1 667.0h0M721.1 676.8h0M656.5 651.4h0M703.3 688.0h0M701.4 657.2h0M715.2 653.3h0M720.0 671.8h0M704.9 628.8h0M665.0 669.7h0M650.4 640.2h0M734.8 685.0h0M683.2 671.6h0M711.2 633.4h0M724.4 684.0h0M694.5 655.4h0M688.5 662.1h0M666.1 663.9h0M665.1 643.7h0" stroke="#e8e8e8" stroke-opacity="0.35" stroke-width="1.6" stroke-linecap="round"/>
<rect x="730" y="688" width="18" height="2.2" fill="#fff"/>
<rect x="756.5" y="615.3" width="105" height="78" fill="#020602"/>
<rect x="756.5" y="615.3" width="105" height="78" filter="url(#gf6)"/>
<rect x="840" y="688" width="18" height="2.2" fill="#fff"/>
<rect x="866.5" y="615.3" width="105" height="78" fill="#01062a"/>
<path d="M878.2 619.5h0M885.5 620.4h0M892.4 617.9h0M898.8 618.6h0M903.9 620.2h0M916.5 620.3h0M923.5 620.6h0M928.9 619.9h0M937.7 619.0h0M944.3 617.8h0M950.1 618.1h0M956.4 619.1h0M963.1 618.1h0M873.5 621.1h0M880.9 623.5h0M888.9 623.2h0M893.9 621.5h0M901.6 622.7h0M910.1 623.5h0M914.8 622.5h0M922.8 621.5h0M929.7 622.5h0M935.2 621.6h0M944.8 621.3h0M949.3 622.3h0M959.4 623.9h0M967.9 621.4h0M873.9 624.7h0M883.4 624.9h0M894.5 625.3h0M902.6 625.2h0M907.5 625.3h0M920.3 625.2h0M929.3 625.3h0M942.8 627.5h0M953.9 627.2h0M959.8 625.2h0M968.5 626.6h0M872.9 628.9h0M880.0 630.4h0M888.5 630.3h0M899.4 630.4h0M906.2 629.6h0M916.4 630.9h0M921.1 630.5h0M928.0 629.8h0M935.0 630.2h0M943.1 628.5h0M950.9 631.1h0M955.9 628.5h0M964.1 631.0h0M869.2 632.4h0M884.5 634.7h0M890.3 632.1h0M897.2 631.8h0M906.2 632.4h0M912.3 631.9h0M918.7 633.6h0M924.5 634.4h0M933.3 632.3h0M940.6 632.7h0M946.0 633.3h0M952.9 633.1h0M965.4 634.0h0M869.5 637.2h0M880.6 637.9h0M889.0 637.0h0M895.6 638.2h0M905.7 635.8h0M916.8 635.9h0M923.2 637.1h0M930.3 637.7h0M935.9 638.0h0M944.8 637.9h0M953.6 635.2h0M960.2 637.3h0M967.6 636.5h0M872.8 641.5h0M880.9 641.0h0M886.7 639.7h0M894.4 639.9h0M900.5 639.9h0M907.3 640.1h0M915.1 641.5h0M922.5 640.4h0M929.9 639.0h0M936.5 641.3h0M941.9 639.8h0M950.3 641.2h0M956.7 641.5h0M965.7 640.6h0M871.5 643.8h0M877.9 643.8h0M885.3 644.9h0M892.4 644.3h0M898.1 644.2h0M905.1 644.0h0M915.8 644.2h0M921.1 644.6h0M931.5 644.7h0M940.3 643.6h0M947.2 642.3h0M954.4 643.0h0M964.4 644.4h0M869.1 646.0h0M878.0 646.9h0M885.7 648.1h0M889.6 646.7h0M897.5 647.1h0M906.0 648.1h0M913.2 646.9h0M920.5 647.8h0M925.0 646.1h0M931.9 645.8h0M940.0 648.1h0M946.5 647.0h0M954.3 647.8h0M961.5 648.7h0M966.8 646.9h0M872.6 649.8h0M883.0 651.8h0M889.6 649.6h0M898.3 651.5h0M904.1 652.0h0M910.8 650.9h0M918.7 649.7h0M927.4 650.5h0M934.3 652.3h0M939.0 650.9h0M949.3 651.0h0M956.2 650.0h0M965.0 650.1h0M869.6 655.1h0M888.7 653.5h0M894.1 653.0h0M901.5 654.6h0M908.3 653.8h0M920.1 654.2h0M924.6 655.8h0M931.9 654.6h0M939.4 653.7h0M945.4 655.8h0M953.7 655.2h0M962.3 652.9h0M871.3 658.4h0M877.3 656.4h0M882.6 658.7h0M892.2 658.8h0M901.7 657.4h0M909.1 656.3h0M914.4 656.7h0M921.0 659.3h0M930.2 656.8h0M936.0 659.1h0M948.3 657.1h0M955.2 658.1h0M960.0 656.4h0M966.7 656.8h0M874.5 661.4h0M881.8 661.4h0M890.1 660.1h0M898.9 662.3h0M907.6 662.1h0M915.3 661.7h0M921.3 660.4h0M932.0 659.9h0M939.1 661.4h0M951.3 662.8h0M958.7 662.3h0M965.6 661.9h0M873.6 664.3h0M883.0 663.6h0M890.1 665.6h0M897.4 664.0h0M905.6 664.8h0M910.8 664.0h0M920.1 663.5h0M931.0 664.8h0M936.7 664.0h0M943.7 664.7h0M950.6 663.8h0M956.5 666.1h0M963.7 664.4h0M870.7 669.3h0M876.6 667.2h0M884.6 668.0h0M892.3 669.6h0M899.4 668.7h0M912.5 669.4h0M922.1 668.4h0M930.9 668.7h0M941.0 668.3h0M958.6 669.5h0M965.8 668.4h0M869.2 670.4h0M877.1 672.3h0M884.1 671.5h0M891.7 671.3h0M896.9 670.5h0M904.2 671.7h0M912.2 671.5h0M919.4 670.7h0M926.1 671.8h0M933.0 672.5h0M939.1 670.4h0M945.7 670.6h0M956.1 672.7h0M967.9 673.1h0M874.7 676.5h0M881.4 674.5h0M887.3 676.5h0M898.3 674.0h0M903.8 674.0h0M910.8 674.7h0M918.7 675.4h0M926.8 674.1h0M932.4 674.1h0M940.8 675.2h0M945.3 676.6h0M954.7 675.7h0M960.4 675.6h0M966.9 675.8h0M874.3 680.3h0M884.8 678.4h0M890.5 678.0h0M901.3 678.0h0M909.8 677.4h0M917.0 678.4h0M921.7 679.6h0M930.7 679.8h0M937.9 679.9h0M947.9 678.5h0M955.0 679.7h0M961.0 677.7h0M968.7 680.0h0M874.9 681.5h0M882.2 682.6h0M887.4 683.7h0M898.8 681.6h0M904.2 681.3h0M913.4 683.3h0M922.5 681.1h0M929.7 682.3h0M936.1 681.2h0M943.7 683.3h0M950.5 682.4h0M956.2 681.0h0M963.4 683.0h0M869.4 684.4h0M878.2 686.1h0M885.3 685.1h0M892.5 687.4h0M902.3 684.7h0M909.3 687.4h0M914.0 686.7h0M926.0 686.1h0M933.7 685.6h0M940.0 685.2h0M950.4 685.6h0M961.0 685.6h0M968.1 686.9h0M873.9 691.0h0M880.0 689.2h0M886.9 691.1h0M895.8 689.4h0M902.1 689.1h0M911.3 689.8h0M924.0 690.0h0M929.4 688.1h0M940.6 688.2h0M945.3 688.4h0M956.4 690.6h0M966.5 690.5h0" stroke="#1830b4" stroke-opacity="0.85" stroke-width="2.7" stroke-linecap="round" filter="url(#nb)"/>
<path d="M873.4 620.1h0M881.8 619.3h0M888.7 619.3h0M895.2 618.5h0M900.4 618.7h0M908.3 617.8h0M919.4 618.7h0M924.8 618.8h0M933.1 619.9h0M939.6 620.4h0M945.3 617.7h0M954.2 618.9h0M960.9 620.2h0M871.4 623.4h0M875.8 623.6h0M882.7 621.6h0M889.9 622.2h0M897.9 621.1h0M903.9 623.1h0M911.8 623.4h0M919.8 622.8h0M926.4 622.8h0M934.5 621.7h0M940.9 622.4h0M948.4 621.6h0M953.0 621.9h0M965.3 621.4h0M869.7 627.1h0M877.0 626.7h0M887.2 625.3h0M897.5 626.3h0M906.6 627.2h0M914.5 627.3h0M925.6 624.7h0M940.2 625.1h0M945.5 626.8h0M958.7 626.7h0M963.2 626.2h0M870.6 630.4h0M875.8 628.4h0M884.2 629.1h0M894.7 631.1h0M901.8 628.1h0M907.2 628.1h0M918.7 628.7h0M924.8 628.3h0M933.1 631.0h0M938.5 629.3h0M946.6 630.3h0M953.3 628.7h0M959.5 630.4h0M968.9 631.0h0M882.2 631.6h0M887.6 631.7h0M896.2 631.9h0M901.3 633.0h0M909.4 632.4h0M916.6 631.8h0M923.0 632.2h0M928.7 633.5h0M936.4 634.6h0M942.6 632.7h0M948.9 633.4h0M962.3 634.4h0M966.3 633.7h0M872.4 637.0h0M883.6 637.7h0M890.1 637.4h0M897.3 637.1h0M909.0 636.8h0M920.5 636.7h0M925.7 636.7h0M932.0 638.2h0M940.5 635.4h0M948.1 636.8h0M958.0 636.6h0M964.9 637.4h0M870.2 638.7h0M876.7 640.7h0M882.9 640.7h0M889.9 638.9h0M896.5 640.3h0M905.6 639.2h0M911.4 640.6h0M920.6 639.5h0M927.4 641.3h0M932.8 641.4h0M939.3 640.9h0M947.9 639.1h0M953.5 641.5h0M959.5 641.0h0M969.3 641.5h0M874.5 642.3h0M880.2 643.4h0M888.6 642.6h0M893.7 643.9h0M903.1 642.4h0M910.0 644.1h0M918.3 644.4h0M931.0 643.5h0M936.1 643.8h0M943.9 643.9h0M951.4 642.8h0M956.5 642.4h0M967.1 642.4h0M874.7 646.6h0M881.1 647.6h0M886.1 645.7h0M894.4 648.3h0M900.3 647.9h0M908.5 647.2h0M915.2 646.3h0M923.2 645.9h0M928.3 648.4h0M935.3 646.0h0M943.5 648.7h0M948.9 646.4h0M957.8 646.7h0M965.6 646.9h0M869.1 651.8h0M881.9 651.3h0M887.7 651.7h0M894.8 651.1h0M902.5 651.4h0M908.2 651.7h0M914.2 650.5h0M922.2 651.2h0M930.0 651.8h0M935.9 651.4h0M943.7 649.9h0M952.8 651.5h0M960.0 651.6h0M968.6 649.7h0M885.0 653.6h0M889.7 655.5h0M897.6 654.9h0M905.3 655.7h0M914.4 655.6h0M921.8 654.2h0M928.2 655.2h0M936.6 655.6h0M944.2 653.2h0M950.9 653.9h0M957.4 653.8h0M968.6 654.1h0M873.1 656.3h0M879.4 657.5h0M886.7 657.4h0M895.8 658.1h0M904.9 656.9h0M911.4 658.7h0M920.1 656.6h0M927.4 658.3h0M934.2 658.5h0M938.7 658.2h0M950.8 657.7h0M958.2 658.2h0M963.3 657.4h0M869.9 660.8h0M878.7 660.5h0M885.1 662.2h0M895.1 660.7h0M900.4 660.7h0M910.8 660.8h0M918.5 661.7h0M926.7 662.3h0M936.6 662.5h0M942.6 661.1h0M953.3 661.5h0M960.2 660.5h0M869.1 665.6h0M880.4 663.6h0M887.9 666.4h0M893.8 665.7h0M902.5 663.9h0M909.9 665.5h0M915.0 666.4h0M921.6 665.1h0M931.4 665.4h0M939.6 664.7h0M945.5 663.8h0M955.3 665.1h0M959.8 665.7h0M967.8 664.1h0M873.8 668.2h0M881.4 669.3h0M889.2 667.0h0M893.5 667.9h0M900.1 669.0h0M917.5 669.2h0M925.5 668.1h0M933.0 669.5h0M947.0 669.8h0M960.5 667.4h0M968.0 669.8h0M873.6 672.0h0M880.3 670.8h0M886.4 672.3h0M893.4 670.8h0M901.7 671.9h0M910.0 671.5h0M915.5 670.6h0M921.2 670.5h0M930.3 670.6h0M936.2 672.0h0M943.9 672.0h0M950.3 671.6h0M964.0 672.1h0M871.0 676.9h0M878.1 676.5h0M883.4 674.8h0M893.9 677.0h0M901.8 677.0h0M909.0 676.1h0M917.0 676.6h0M922.9 676.1h0M930.9 675.3h0M935.9 674.5h0M943.9 675.6h0M949.0 676.1h0M955.9 674.2h0M963.1 676.7h0M871.0 679.0h0M878.5 680.0h0M887.2 677.5h0M897.7 679.9h0M904.9 679.8h0M912.9 680.5h0M920.1 678.0h0M925.4 678.6h0M933.8 680.4h0M939.9 678.7h0M950.8 677.5h0M958.3 678.7h0M962.8 677.6h0M871.8 681.6h0M875.9 682.9h0M885.5 682.7h0M894.3 681.2h0M902.5 681.0h0M909.6 681.4h0M914.5 681.5h0M924.4 682.8h0M934.4 683.4h0M938.6 683.2h0M945.6 681.0h0M952.7 682.9h0M962.0 683.5h0M968.3 681.0h0M875.0 685.0h0M881.7 687.6h0M886.6 686.3h0M897.8 685.8h0M906.6 687.2h0M910.8 684.8h0M918.9 684.9h0M929.2 685.6h0M937.4 685.8h0M943.5 685.8h0M953.7 684.5h0M965.3 686.8h0M870.2 688.2h0M878.2 688.3h0M885.5 688.8h0M891.1 689.1h0M899.4 690.0h0M903.9 689.2h0M914.9 690.8h0M925.0 688.5h0M937.5 689.6h0M944.6 688.7h0M952.7 690.7h0M964.9 689.5h0" stroke="#2444d8" stroke-opacity="0.9" stroke-width="2.6" stroke-linecap="round" filter="url(#nb)"/>
<rect x="866.5" y="615.3" width="105" height="78" filter="url(#go6)"/>
<rect x="950" y="688" width="18" height="2.2" fill="#fff"/>
<text x="2.5" y="840" font-size="27" font-weight="bold" fill="#111" text-anchor="start">c</text>
<line x1="99.8" y1="877.15" x2="99.8" y2="1210.25" stroke="#000" stroke-width="4"/>
<line x1="89.5" y1="879.15" x2="99.8" y2="879.15" stroke="#000" stroke-width="3.6"/>
<text x="88" y="885.95" font-size="19" font-weight="bold" fill="#111" text-anchor="end">100</text>
<line x1="89.5" y1="934" x2="99.8" y2="934" stroke="#000" stroke-width="3.6"/>
<text x="88" y="940.8" font-size="19" font-weight="bold" fill="#111" text-anchor="end">80</text>
<line x1="89.5" y1="988.85" x2="99.8" y2="988.85" stroke="#000" stroke-width="3.6"/>
<text x="88" y="995.65" font-size="19" font-weight="bold" fill="#111" text-anchor="end">60</text>
<line x1="89.5" y1="1043.7" x2="99.8" y2="1043.7" stroke="#000" stroke-width="3.6"/>
<text x="88" y="1050.5" font-size="19" font-weight="bold" fill="#111" text-anchor="end">40</text>
<line x1="89.5" y1="1098.55" x2="99.8" y2="1098.55" stroke="#000" stroke-width="3.6"/>
<text x="88" y="1105.35" font-size="19" font-weight="bold" fill="#111" text-anchor="end">20</text>
<line x1="89.5" y1="1153.4" x2="99.8" y2="1153.4" stroke="#000" stroke-width="3.6"/>
<text x="88" y="1160.2" font-size="19" font-weight="bold" fill="#111" text-anchor="end">0</text>
<line x1="89.5" y1="1208.25" x2="99.8" y2="1208.25" stroke="#000" stroke-width="3.6"/>
<text x="88" y="1215.05" font-size="19" font-weight="bold" fill="#111" text-anchor="end">-20</text>
<rect x="144.2" y="1009.97" width="24.5" height="143.433" fill="#f80864"/>
<line x1="156.45" y1="1009.97" x2="156.45" y2="985.559" stroke="#f80864" stroke-width="1.3"/>
<line x1="150.25" y1="985.559" x2="162.65" y2="985.559" stroke="#f80864" stroke-width="1.5"/>
<rect x="182.1" y="1153.4" width="24.5" height="21.3915" fill="#0f8080"/>
<line x1="194.35" y1="1174.79" x2="194.35" y2="1179.18" stroke="#0f8080" stroke-width="1.3"/>
<line x1="188.15" y1="1179.18" x2="200.55" y2="1179.18" stroke="#0f8080" stroke-width="1.5"/>
<rect x="220" y="1065.09" width="24.5" height="88.3085" fill="#3c0a82"/>
<line x1="232.25" y1="1065.09" x2="232.25" y2="1033.28" stroke="#3c0a82" stroke-width="1.3"/>
<line x1="226.05" y1="1033.28" x2="238.45" y2="1033.28" stroke="#3c0a82" stroke-width="1.5"/>
<rect x="321.1" y="928.789" width="24.5" height="224.611" fill="#f80864"/>
<line x1="333.35" y1="928.789" x2="333.35" y2="926.047" stroke="#f80864" stroke-width="1.3"/>
<line x1="327.15" y1="926.047" x2="339.55" y2="926.047" stroke="#f80864" stroke-width="1.5"/>
<rect x="358.6" y="992.141" width="24.5" height="161.259" fill="#0f8080"/>
<line x1="370.85" y1="992.141" x2="370.85" y2="982.542" stroke="#0f8080" stroke-width="1.3"/>
<line x1="364.65" y1="982.542" x2="377.05" y2="982.542" stroke="#0f8080" stroke-width="1.5"/>
<rect x="396.7" y="1027.25" width="24.5" height="126.155" fill="#3c0a82"/>
<line x1="408.95" y1="1027.25" x2="408.95" y2="991.318" stroke="#3c0a82" stroke-width="1.3"/>
<line x1="402.75" y1="991.318" x2="415.15" y2="991.318" stroke="#3c0a82" stroke-width="1.5"/>
<line x1="97.8" y1="1153.4" x2="466" y2="1153.4" stroke="#000" stroke-width="4.4"/>
<rect x="114.8" y="859.9" width="24.9" height="13" fill="#f80864"/>
<text x="155.9" y="872.9" font-size="19.5" font-weight="bold" fill="#111" text-anchor="start" letter-spacing="1.85">Full-time</text>
<rect x="114.8" y="893.6" width="24.9" height="13" fill="#0f8080"/>
<text x="155.9" y="906.6" font-size="19.5" font-weight="bold" fill="#111" text-anchor="start" letter-spacing="1.85">Entry</text>
<rect x="114.8" y="927.2" width="24.9" height="13" fill="#3c0a82"/>
<text x="155.9" y="940.2" font-size="19.5" font-weight="bold" fill="#111" text-anchor="start" letter-spacing="1.85">Post-entry</text>
<text x="0" y="0" font-size="21" font-weight="bold" fill="#111" text-anchor="middle" transform="translate(31.5 1044.1) rotate(-90)"><tspan font-size="25">%</tspan> Inhibition</text>
<text x="0" y="0" font-size="21" font-weight="bold" fill="#111" text-anchor="middle" letter-spacing="0.05" transform="translate(53 1030.1) rotate(-90)">(normalized to DMSO group)</text>
<text x="194.5" y="1214.5" font-size="20" font-weight="bold" fill="#111" text-anchor="middle" letter-spacing="1.4">Remdesivir</text>
<text x="197" y="1237.5" font-size="19.5" font-weight="bold" fill="#111" text-anchor="middle" letter-spacing="1.2">(3.7 µM)</text>
<text x="371.6" y="1215.1" font-size="20" font-weight="bold" fill="#111" text-anchor="middle" letter-spacing="0.8">Chloroquine</text>
<text x="371.2" y="1237.5" font-size="19" font-weight="bold" fill="#111" text-anchor="middle" letter-spacing="0.85">(10 µM)</text>
<text x="506.5" y="841.2" font-size="27.5" font-weight="bold" fill="#111" text-anchor="start">d</text>
<text x="606.8" y="921.9" font-size="21" font-weight="bold" fill="#1a1a1a" text-anchor="middle" letter-spacing="1">Remdesivir</text>
<text x="608.2" y="945.2" font-size="21" font-weight="bold" fill="#1a1a1a" text-anchor="middle" letter-spacing="0.65">(3.7 µM)</text>
<text x="845" y="921.1" font-size="21" font-weight="bold" fill="#1a1a1a" text-anchor="middle" letter-spacing="0.15">Chloroquine</text>
<text x="844.8" y="944" font-size="21" font-weight="bold" fill="#1a1a1a" text-anchor="middle">(10 µM)</text>
<line x1="521.2" y1="960.2" x2="698.3" y2="960.2" stroke="#222" stroke-width="1.5"/>
<line x1="757" y1="959" x2="933.5" y2="959" stroke="#222" stroke-width="1.5"/>
<text x="0" y="0" font-size="16.5" font-weight="bold" fill="#1a1a1a" text-anchor="start" letter-spacing="1.15" transform="translate(548.3 1029.2) rotate(-38)">Full-time</text>
<text x="0" y="0" font-size="16.5" font-weight="bold" fill="#1a1a1a" text-anchor="start" letter-spacing="1.15" transform="translate(591.5 1029.2) rotate(-38)">Entry</text>
<text x="0" y="0" font-size="16.5" font-weight="bold" fill="#1a1a1a" text-anchor="start" letter-spacing="1.15" transform="translate(628.8 1029.5) rotate(-38)">Post-entry</text>
<text x="0" y="0" font-size="16.5" font-weight="bold" fill="#1a1a1a" text-anchor="start" letter-spacing="1.15" transform="translate(675.2 1029) rotate(-38)">DMSO</text>
<text x="0" y="0" font-size="16.5" font-weight="bold" fill="#1a1a1a" text-anchor="start" letter-spacing="1.15" transform="translate(780.2 1030) rotate(-38)">Full-time</text>
<text x="0" y="0" font-size="16.5" font-weight="bold" fill="#1a1a1a" text-anchor="start" letter-spacing="1.15" transform="translate(824.3 1030) rotate(-38)">Entry</text>
<text x="0" y="0" font-size="16.5" font-weight="bold" fill="#1a1a1a" text-anchor="start" letter-spacing="1.15" transform="translate(861.5 1030) rotate(-38)">Post-entry</text>
<text x="0" y="0" font-size="16.5" font-weight="bold" fill="#1a1a1a" text-anchor="start" letter-spacing="1.15" transform="translate(907.2 1030) rotate(-38)">DMSO</text>
<text x="490.9" y="1029.9" font-size="17" font-weight="bold" fill="#1a1a1a" text-anchor="start" letter-spacing="0.2">kDa</text>
<text x="520.5" y="1048.6" font-size="17" font-weight="bold" fill="#1a1a1a" text-anchor="end">55</text>
<text x="520.5" y="1072.4" font-size="17" font-weight="bold" fill="#1a1a1a" text-anchor="end">43</text>
<line x1="520" y1="1043.6" x2="523" y2="1043.6" stroke="#222" stroke-width="1"/>
<line x1="520" y1="1066" x2="523" y2="1066" stroke="#222" stroke-width="1"/>
<rect x="521.9" y="1031.1" width="175.2" height="64.4" fill="#f2f2f2" stroke="#444" stroke-width="1.3"/>
<rect x="522.4" y="1113.2" width="174.2" height="32.2" fill="url(#gap)" stroke="#333" stroke-width="1.3"/>
<rect x="757.8" y="1031.2" width="174.4" height="64.6" fill="#f3f3f3" stroke="#444" stroke-width="1.3"/>
<rect x="757.8" y="1112.8" width="174.4" height="32.7" fill="url(#gap)" stroke="#333" stroke-width="1.3"/>
<g clip-path="url(#cb1)">
<rect x="533.2" y="1046.6" width="29" height="4" rx="2" fill="#8e8e8e" filter="url(#bl)"/>
<rect x="533.2" y="1054.4" width="29" height="3.6" rx="1.8" fill="#7c7c7c" filter="url(#bl)"/>
<rect x="533.7" y="1061.1" width="28" height="3.2" rx="1.6" fill="#a2a2a2" filter="url(#bl)"/>
<rect x="617.9" y="1046.6" width="29" height="4" rx="2" fill="#7a7a7a" filter="url(#bl)"/>
<rect x="617.9" y="1054.4" width="29" height="3.6" rx="1.8" fill="#6a6a6a" filter="url(#bl)"/>
<rect x="618.4" y="1061.1" width="28" height="3.2" rx="1.6" fill="#8c8c8c" filter="url(#bl)"/>
<rect x="573.5" y="1044.8" width="33" height="20" rx="10" fill="#2a2a2a" filter="url(#bl)"/>
<rect x="573.5" y="1044" width="33" height="7.2" rx="3.6" fill="#030303" filter="url(#bl)"/>
<rect x="573.5" y="1052.8" width="33" height="6.4" rx="3.2" fill="#050505" filter="url(#bl)"/>
<rect x="573.5" y="1060" width="33" height="6.4" rx="3.2" fill="#030303" filter="url(#bl)"/>
<rect x="659.6" y="1044.8" width="30" height="20" rx="10" fill="#2a2a2a" filter="url(#bl)"/>
<rect x="659.6" y="1044" width="30" height="7.2" rx="3.6" fill="#030303" filter="url(#bl)"/>
<rect x="659.6" y="1052.8" width="30" height="6.4" rx="3.2" fill="#050505" filter="url(#bl)"/>
<rect x="659.6" y="1060" width="30" height="6.4" rx="3.2" fill="#030303" filter="url(#bl)"/>
<rect x="765.1" y="1049.8" width="32" height="3.2" rx="1.6" fill="#a8a8a8" filter="url(#bl)"/>
<rect x="810.7" y="1057.9" width="26" height="2.6" rx="1.3" fill="#b0b0b0" filter="url(#bl)"/>
<rect x="811.7" y="1064" width="24" height="2.4" rx="1.2" fill="#c4c4c4" filter="url(#bl)"/>
<rect x="849.2" y="1045.95" width="32" height="8.5" rx="4.25" fill="#080808" filter="url(#bl)"/>
<rect x="849.7" y="1056.4" width="31" height="3.2" rx="1.6" fill="#555" filter="url(#bl)"/>
<rect x="850.2" y="1062.9" width="30" height="3.2" rx="1.6" fill="#444" filter="url(#bl)"/>
<rect x="892.95" y="1046.3" width="31.5" height="21" rx="10.5" fill="#101010" filter="url(#bl)"/>
<rect x="892.95" y="1045.75" width="31.5" height="7.5" rx="3.75" fill="#030303" filter="url(#bl)"/>
<rect x="892.95" y="1053.95" width="31.5" height="6.5" rx="3.25" fill="#030303" filter="url(#bl)"/>
<rect x="892.95" y="1061" width="31.5" height="7" rx="3.5" fill="#030303" filter="url(#bl)"/>
</g>
<rect x="529.9" y="1124.4" width="32.5" height="6" rx="3" fill="#0a0a0a" filter="url(#bl)"/>
<rect x="571.8" y="1124.3" width="32.5" height="6.2" rx="3.1" fill="#0a0a0a" filter="url(#bl)"/>
<rect x="613.5" y="1124.2" width="33.7" height="6.4" rx="3.2" fill="#0a0a0a" filter="url(#bl)"/>
<rect x="657.2" y="1125.1" width="31.2" height="4.6" rx="2.3" fill="#0a0a0a" filter="url(#bl)"/>
<rect x="765.4" y="1125.9" width="34.2" height="5.2" rx="2.6" fill="#0a0a0a" filter="url(#bl)"/>
<rect x="810" y="1125.4" width="30.7" height="6.2" rx="3.1" fill="#0a0a0a" filter="url(#bl)"/>
<rect x="850.4" y="1125.5" width="32.9" height="6" rx="3" fill="#0a0a0a" filter="url(#bl)"/>
<rect x="893" y="1125.6" width="33.2" height="5.8" rx="2.9" fill="#0a0a0a" filter="url(#bl)"/>
<text x="938.2" y="1059.2" font-size="17.5" font-weight="bold" fill="#1a1a1a" text-anchor="start" letter-spacing="1">NP</text>
<text x="938.2" y="1131.9" font-size="17.5" font-weight="bold" fill="#1a1a1a" text-anchor="start" letter-spacing="1.6">GAPDH</text>
</svg></body></html>
